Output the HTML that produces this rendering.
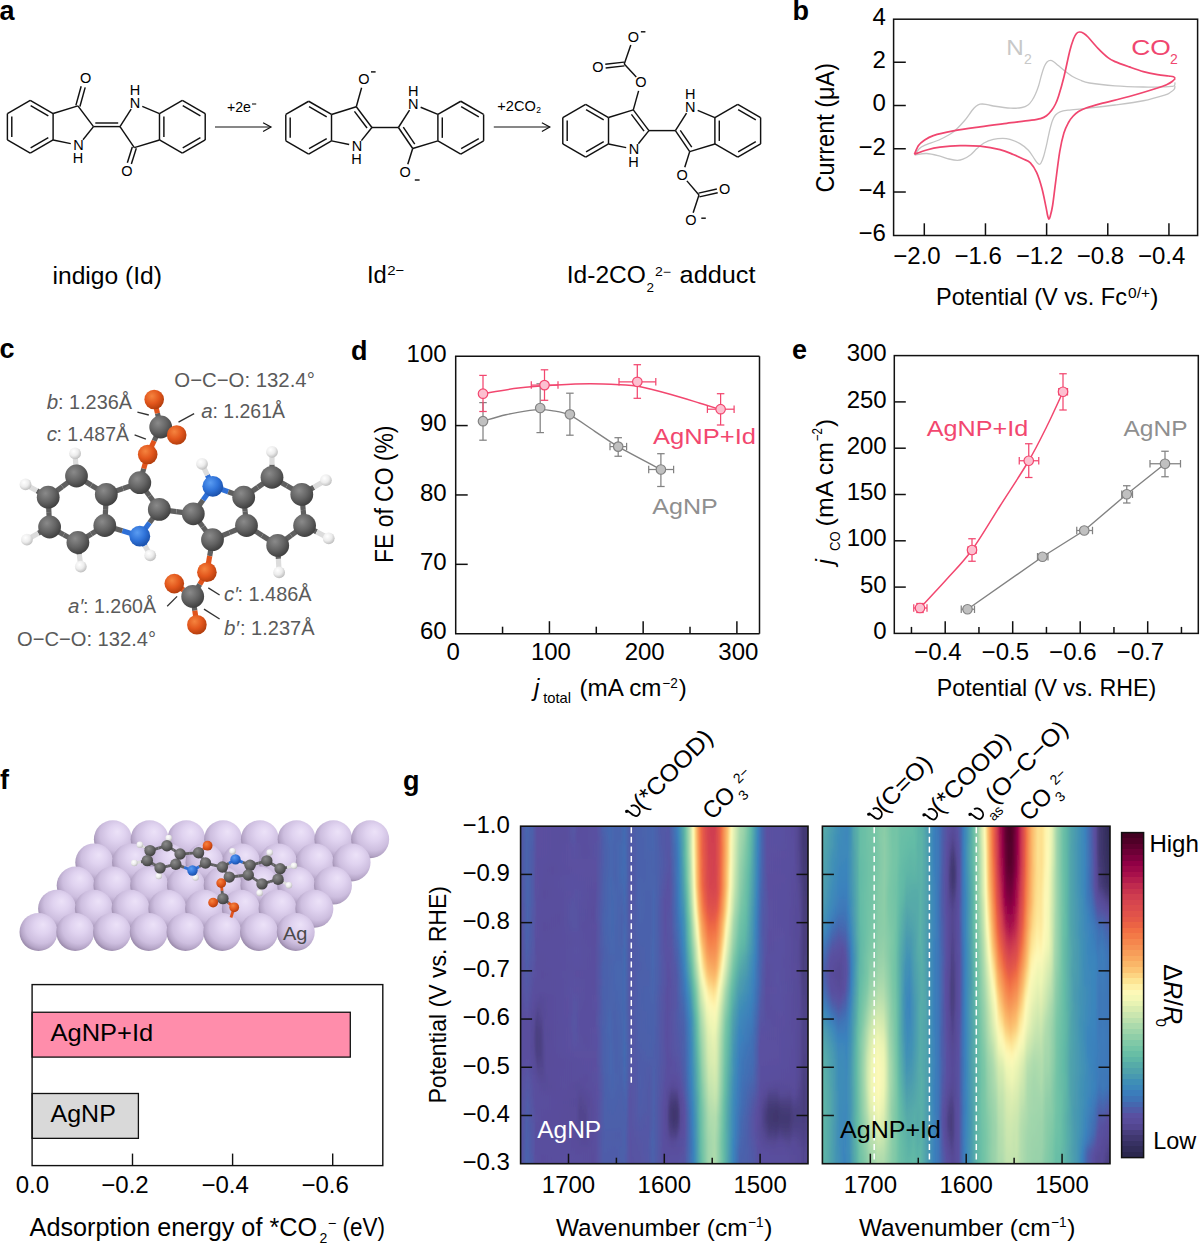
<!DOCTYPE html>
<html><head><meta charset="utf-8"><style>
html,body{margin:0;padding:0;background:#fff;overflow:hidden;}
svg{display:block;}
text{font-family:"Liberation Sans", sans-serif;}
</style></head><body>
<svg width="1200" height="1244" viewBox="0 0 1200 1244">
<defs>
<radialGradient id="gC" cx="0.38" cy="0.33" r="0.7"><stop offset="0" stop-color="#8a8a8a"/><stop offset="0.55" stop-color="#646464"/><stop offset="1" stop-color="#3e3e3e"/></radialGradient>
<radialGradient id="gN" cx="0.38" cy="0.33" r="0.7"><stop offset="0" stop-color="#5a9cf2"/><stop offset="0.55" stop-color="#2f72d8"/><stop offset="1" stop-color="#1a4fa8"/></radialGradient>
<radialGradient id="gO" cx="0.38" cy="0.33" r="0.7"><stop offset="0" stop-color="#f5843f"/><stop offset="0.55" stop-color="#e2561c"/><stop offset="1" stop-color="#b03c0c"/></radialGradient>
<radialGradient id="gH" cx="0.38" cy="0.33" r="0.7"><stop offset="0" stop-color="#ffffff"/><stop offset="0.55" stop-color="#ececec"/><stop offset="1" stop-color="#bcbcbc"/></radialGradient>

<radialGradient id="gAg" cx="0.58" cy="0.4" r="0.62" fx="0.62" fy="0.3"><stop offset="0" stop-color="#ece2f8"/><stop offset="0.35" stop-color="#e0d3f0"/><stop offset="0.7" stop-color="#cdbedf"/><stop offset="0.88" stop-color="#b6a6c8"/><stop offset="1" stop-color="#9a8aab"/></radialGradient>
<filter id="vblur" x="-0.05" y="-0.1" width="1.1" height="1.2"><feGaussianBlur stdDeviation="0 3.2"/></filter><linearGradient id="hl0"><stop offset="0.000" stop-color="#5455a4"/><stop offset="0.021" stop-color="#4665ae"/><stop offset="0.042" stop-color="#4b5eaa"/><stop offset="0.056" stop-color="#5a4e9f"/><stop offset="0.157" stop-color="#594d9d"/><stop offset="0.185" stop-color="#5455a4"/><stop offset="0.202" stop-color="#594d9d"/><stop offset="0.265" stop-color="#5950a1"/><stop offset="0.289" stop-color="#4961ac"/><stop offset="0.310" stop-color="#4469b0"/><stop offset="0.328" stop-color="#4764ae"/><stop offset="0.348" stop-color="#4863ad"/><stop offset="0.362" stop-color="#436bb2"/><stop offset="0.383" stop-color="#5159a6"/><stop offset="0.401" stop-color="#4b5faa"/><stop offset="0.460" stop-color="#4665ae"/><stop offset="0.488" stop-color="#5158a6"/><stop offset="0.516" stop-color="#5258a6"/><stop offset="0.540" stop-color="#3d76b8"/><stop offset="0.547" stop-color="#3b84bc"/><stop offset="0.564" stop-color="#52a6aa"/><stop offset="0.571" stop-color="#63bba5"/><stop offset="0.582" stop-color="#92cfa8"/><stop offset="0.589" stop-color="#b7dfad"/><stop offset="0.599" stop-color="#f6f8b6"/><stop offset="0.603" stop-color="#fef3aa"/><stop offset="0.610" stop-color="#fcc674"/><stop offset="0.617" stop-color="#f79d59"/><stop offset="0.624" stop-color="#f37a47"/><stop offset="0.627" stop-color="#f06c43"/><stop offset="0.634" stop-color="#e45847"/><stop offset="0.655" stop-color="#d13e4f"/><stop offset="0.676" stop-color="#d03e4f"/><stop offset="0.693" stop-color="#e65a46"/><stop offset="0.700" stop-color="#f27345"/><stop offset="0.718" stop-color="#fab768"/><stop offset="0.721" stop-color="#fcc573"/><stop offset="0.732" stop-color="#fef4ae"/><stop offset="0.735" stop-color="#f9f8b7"/><stop offset="0.763" stop-color="#abdaac"/><stop offset="0.777" stop-color="#9ad2aa"/><stop offset="0.801" stop-color="#64bca5"/><stop offset="0.819" stop-color="#4393b3"/><stop offset="0.826" stop-color="#3a83bd"/><stop offset="0.840" stop-color="#4764ad"/><stop offset="0.857" stop-color="#5a4fa0"/><stop offset="0.906" stop-color="#5950a1"/><stop offset="0.951" stop-color="#584c9b"/><stop offset="0.965" stop-color="#534791"/><stop offset="0.983" stop-color="#433975"/><stop offset="1.000" stop-color="#413872"/></linearGradient><linearGradient id="hl1"><stop offset="0.000" stop-color="#5455a4"/><stop offset="0.021" stop-color="#4765ae"/><stop offset="0.042" stop-color="#4c5eaa"/><stop offset="0.056" stop-color="#5a4e9f"/><stop offset="0.157" stop-color="#594d9d"/><stop offset="0.185" stop-color="#5555a4"/><stop offset="0.202" stop-color="#594d9d"/><stop offset="0.265" stop-color="#5950a1"/><stop offset="0.289" stop-color="#4961ac"/><stop offset="0.310" stop-color="#4468b0"/><stop offset="0.328" stop-color="#4764ae"/><stop offset="0.348" stop-color="#4863ad"/><stop offset="0.362" stop-color="#426bb2"/><stop offset="0.383" stop-color="#5159a6"/><stop offset="0.411" stop-color="#4a61ab"/><stop offset="0.460" stop-color="#4665ae"/><stop offset="0.488" stop-color="#5159a6"/><stop offset="0.516" stop-color="#5257a5"/><stop offset="0.544" stop-color="#3c7cba"/><stop offset="0.551" stop-color="#3d8ab9"/><stop offset="0.568" stop-color="#58aea7"/><stop offset="0.575" stop-color="#6fc2a6"/><stop offset="0.589" stop-color="#b6dead"/><stop offset="0.599" stop-color="#f5f7b6"/><stop offset="0.603" stop-color="#fef3ac"/><stop offset="0.606" stop-color="#fde18f"/><stop offset="0.610" stop-color="#fcc876"/><stop offset="0.617" stop-color="#f79e5a"/><stop offset="0.624" stop-color="#f47b47"/><stop offset="0.631" stop-color="#ea6145"/><stop offset="0.645" stop-color="#d9494d"/><stop offset="0.662" stop-color="#cf3d4f"/><stop offset="0.676" stop-color="#d03e4f"/><stop offset="0.693" stop-color="#e65a46"/><stop offset="0.700" stop-color="#f27445"/><stop offset="0.718" stop-color="#fab769"/><stop offset="0.721" stop-color="#fcc574"/><stop offset="0.732" stop-color="#fef5af"/><stop offset="0.735" stop-color="#f8f8b7"/><stop offset="0.763" stop-color="#a9d9ac"/><stop offset="0.777" stop-color="#98d2a9"/><stop offset="0.801" stop-color="#62bba5"/><stop offset="0.819" stop-color="#4293b4"/><stop offset="0.826" stop-color="#3a83bd"/><stop offset="0.840" stop-color="#4764ad"/><stop offset="0.857" stop-color="#5a4fa0"/><stop offset="0.906" stop-color="#5950a1"/><stop offset="0.951" stop-color="#584c9b"/><stop offset="0.965" stop-color="#534791"/><stop offset="0.983" stop-color="#433975"/><stop offset="1.000" stop-color="#423872"/></linearGradient><linearGradient id="hl2"><stop offset="0.000" stop-color="#5356a4"/><stop offset="0.021" stop-color="#4764ad"/><stop offset="0.042" stop-color="#4d5da9"/><stop offset="0.056" stop-color="#5a4e9f"/><stop offset="0.157" stop-color="#594d9c"/><stop offset="0.185" stop-color="#5554a3"/><stop offset="0.199" stop-color="#594d9e"/><stop offset="0.265" stop-color="#5950a1"/><stop offset="0.293" stop-color="#4a60ab"/><stop offset="0.310" stop-color="#4568b0"/><stop offset="0.328" stop-color="#4764ae"/><stop offset="0.348" stop-color="#4764ad"/><stop offset="0.362" stop-color="#426bb2"/><stop offset="0.383" stop-color="#5158a6"/><stop offset="0.411" stop-color="#4a60ab"/><stop offset="0.460" stop-color="#4665ae"/><stop offset="0.488" stop-color="#5059a7"/><stop offset="0.516" stop-color="#5356a5"/><stop offset="0.544" stop-color="#3d79b9"/><stop offset="0.551" stop-color="#3c88ba"/><stop offset="0.568" stop-color="#57aca8"/><stop offset="0.575" stop-color="#6ec1a6"/><stop offset="0.589" stop-color="#b3ddad"/><stop offset="0.599" stop-color="#f3f7b5"/><stop offset="0.603" stop-color="#fef5af"/><stop offset="0.606" stop-color="#fde393"/><stop offset="0.610" stop-color="#fccb79"/><stop offset="0.617" stop-color="#f8a15b"/><stop offset="0.624" stop-color="#f47e48"/><stop offset="0.631" stop-color="#eb6444"/><stop offset="0.638" stop-color="#e25449"/><stop offset="0.655" stop-color="#d2404f"/><stop offset="0.672" stop-color="#cf3c4f"/><stop offset="0.686" stop-color="#dc4d4c"/><stop offset="0.693" stop-color="#e65b46"/><stop offset="0.700" stop-color="#f27546"/><stop offset="0.714" stop-color="#f9ab60"/><stop offset="0.721" stop-color="#fcc775"/><stop offset="0.728" stop-color="#feea9d"/><stop offset="0.732" stop-color="#fdf6b2"/><stop offset="0.735" stop-color="#f6f8b6"/><stop offset="0.763" stop-color="#a5d8ac"/><stop offset="0.777" stop-color="#94d0a8"/><stop offset="0.791" stop-color="#73c4a6"/><stop offset="0.801" stop-color="#60b9a5"/><stop offset="0.819" stop-color="#4192b4"/><stop offset="0.826" stop-color="#3a82bd"/><stop offset="0.840" stop-color="#4764ad"/><stop offset="0.857" stop-color="#5a4fa0"/><stop offset="0.906" stop-color="#5950a1"/><stop offset="0.951" stop-color="#584c9c"/><stop offset="0.965" stop-color="#534790"/><stop offset="0.983" stop-color="#433975"/><stop offset="1.000" stop-color="#423873"/></linearGradient><linearGradient id="hl3"><stop offset="0.000" stop-color="#5356a5"/><stop offset="0.021" stop-color="#4863ad"/><stop offset="0.042" stop-color="#4d5ca9"/><stop offset="0.056" stop-color="#5a4e9f"/><stop offset="0.132" stop-color="#594d9d"/><stop offset="0.167" stop-color="#5a4fa0"/><stop offset="0.188" stop-color="#5851a2"/><stop offset="0.223" stop-color="#594d9d"/><stop offset="0.268" stop-color="#5752a2"/><stop offset="0.293" stop-color="#4a60ab"/><stop offset="0.314" stop-color="#4666af"/><stop offset="0.328" stop-color="#4764ad"/><stop offset="0.352" stop-color="#4568b0"/><stop offset="0.362" stop-color="#426cb2"/><stop offset="0.380" stop-color="#5059a7"/><stop offset="0.397" stop-color="#4f5ba8"/><stop offset="0.411" stop-color="#4a60ab"/><stop offset="0.460" stop-color="#4665ae"/><stop offset="0.495" stop-color="#5158a6"/><stop offset="0.519" stop-color="#5257a5"/><stop offset="0.544" stop-color="#3d76b8"/><stop offset="0.551" stop-color="#3b85bb"/><stop offset="0.568" stop-color="#55aaa8"/><stop offset="0.575" stop-color="#6cc0a5"/><stop offset="0.585" stop-color="#9ed4aa"/><stop offset="0.599" stop-color="#f2f7b5"/><stop offset="0.603" stop-color="#fef6b1"/><stop offset="0.606" stop-color="#fde596"/><stop offset="0.610" stop-color="#fcce7c"/><stop offset="0.617" stop-color="#f8a45c"/><stop offset="0.627" stop-color="#f17245"/><stop offset="0.634" stop-color="#e75c46"/><stop offset="0.655" stop-color="#d3414f"/><stop offset="0.676" stop-color="#d2404f"/><stop offset="0.690" stop-color="#e15449"/><stop offset="0.697" stop-color="#ee6844"/><stop offset="0.704" stop-color="#f4834b"/><stop offset="0.714" stop-color="#f9ac60"/><stop offset="0.721" stop-color="#fcc977"/><stop offset="0.728" stop-color="#feeca0"/><stop offset="0.732" stop-color="#fdf7b4"/><stop offset="0.739" stop-color="#e9f3b3"/><stop offset="0.760" stop-color="#a9d9ac"/><stop offset="0.780" stop-color="#87cba7"/><stop offset="0.794" stop-color="#6bbfa5"/><stop offset="0.805" stop-color="#58aea7"/><stop offset="0.822" stop-color="#3d89b9"/><stop offset="0.826" stop-color="#3a82bd"/><stop offset="0.840" stop-color="#4864ad"/><stop offset="0.857" stop-color="#5a4fa0"/><stop offset="0.906" stop-color="#5950a0"/><stop offset="0.951" stop-color="#594d9c"/><stop offset="0.969" stop-color="#50448c"/><stop offset="0.983" stop-color="#433a75"/><stop offset="1.000" stop-color="#423873"/></linearGradient><linearGradient id="hl4"><stop offset="0.000" stop-color="#5356a5"/><stop offset="0.021" stop-color="#4863ad"/><stop offset="0.045" stop-color="#5158a6"/><stop offset="0.056" stop-color="#5a4e9f"/><stop offset="0.129" stop-color="#594d9d"/><stop offset="0.171" stop-color="#5a4fa0"/><stop offset="0.188" stop-color="#5851a1"/><stop offset="0.226" stop-color="#594d9d"/><stop offset="0.268" stop-color="#5752a2"/><stop offset="0.293" stop-color="#4b5fab"/><stop offset="0.314" stop-color="#4666af"/><stop offset="0.328" stop-color="#4863ad"/><stop offset="0.352" stop-color="#4468b0"/><stop offset="0.362" stop-color="#426cb3"/><stop offset="0.380" stop-color="#5159a6"/><stop offset="0.397" stop-color="#4f5aa7"/><stop offset="0.411" stop-color="#4a60ab"/><stop offset="0.429" stop-color="#4962ac"/><stop offset="0.463" stop-color="#4863ad"/><stop offset="0.516" stop-color="#5554a3"/><stop offset="0.544" stop-color="#3e74b7"/><stop offset="0.551" stop-color="#3b83bc"/><stop offset="0.561" stop-color="#4899b0"/><stop offset="0.571" stop-color="#5db5a6"/><stop offset="0.578" stop-color="#77c6a6"/><stop offset="0.592" stop-color="#c4e4ae"/><stop offset="0.599" stop-color="#f0f6b4"/><stop offset="0.603" stop-color="#fdf7b4"/><stop offset="0.606" stop-color="#fde89a"/><stop offset="0.610" stop-color="#fcd17f"/><stop offset="0.617" stop-color="#f8a65d"/><stop offset="0.627" stop-color="#f27445"/><stop offset="0.634" stop-color="#e85d45"/><stop offset="0.655" stop-color="#d3424f"/><stop offset="0.676" stop-color="#d2404f"/><stop offset="0.690" stop-color="#e25449"/><stop offset="0.697" stop-color="#ee6944"/><stop offset="0.704" stop-color="#f5834c"/><stop offset="0.718" stop-color="#fbbd6d"/><stop offset="0.725" stop-color="#fdde8c"/><stop offset="0.732" stop-color="#fdf8b7"/><stop offset="0.760" stop-color="#a5d8ac"/><stop offset="0.780" stop-color="#82caa7"/><stop offset="0.798" stop-color="#62bba5"/><stop offset="0.815" stop-color="#4696b1"/><stop offset="0.826" stop-color="#3a81bd"/><stop offset="0.840" stop-color="#4863ad"/><stop offset="0.857" stop-color="#5a4fa0"/><stop offset="0.920" stop-color="#5a4e9f"/><stop offset="0.951" stop-color="#594d9c"/><stop offset="0.969" stop-color="#51458d"/><stop offset="0.983" stop-color="#443a75"/><stop offset="1.000" stop-color="#423973"/></linearGradient><linearGradient id="hl5"><stop offset="0.000" stop-color="#5356a5"/><stop offset="0.021" stop-color="#4864ad"/><stop offset="0.045" stop-color="#5158a6"/><stop offset="0.056" stop-color="#594e9f"/><stop offset="0.115" stop-color="#594d9d"/><stop offset="0.171" stop-color="#5a4fa0"/><stop offset="0.192" stop-color="#5a4fa0"/><stop offset="0.261" stop-color="#5a4fa0"/><stop offset="0.293" stop-color="#4b5fab"/><stop offset="0.314" stop-color="#4666af"/><stop offset="0.328" stop-color="#4863ad"/><stop offset="0.352" stop-color="#4468b0"/><stop offset="0.362" stop-color="#416cb3"/><stop offset="0.380" stop-color="#5159a6"/><stop offset="0.397" stop-color="#505aa7"/><stop offset="0.411" stop-color="#4a60ab"/><stop offset="0.429" stop-color="#4961ac"/><stop offset="0.463" stop-color="#4863ad"/><stop offset="0.519" stop-color="#5554a3"/><stop offset="0.544" stop-color="#3e73b6"/><stop offset="0.551" stop-color="#3a82bd"/><stop offset="0.561" stop-color="#4697b1"/><stop offset="0.571" stop-color="#5bb2a7"/><stop offset="0.578" stop-color="#75c4a6"/><stop offset="0.589" stop-color="#aadaac"/><stop offset="0.599" stop-color="#edf5b4"/><stop offset="0.603" stop-color="#fdf9b8"/><stop offset="0.606" stop-color="#feea9e"/><stop offset="0.610" stop-color="#fdd583"/><stop offset="0.617" stop-color="#f9a95f"/><stop offset="0.627" stop-color="#f27646"/><stop offset="0.638" stop-color="#e45847"/><stop offset="0.655" stop-color="#d4434e"/><stop offset="0.676" stop-color="#d3414f"/><stop offset="0.690" stop-color="#e25449"/><stop offset="0.697" stop-color="#ee6943"/><stop offset="0.707" stop-color="#f69254"/><stop offset="0.718" stop-color="#fbbf6f"/><stop offset="0.725" stop-color="#fde18f"/><stop offset="0.732" stop-color="#fcf9b8"/><stop offset="0.753" stop-color="#b8dfad"/><stop offset="0.763" stop-color="#9ad3aa"/><stop offset="0.780" stop-color="#7ec8a6"/><stop offset="0.798" stop-color="#60b8a6"/><stop offset="0.815" stop-color="#4595b2"/><stop offset="0.826" stop-color="#3a80bc"/><stop offset="0.840" stop-color="#4863ad"/><stop offset="0.857" stop-color="#5a4fa0"/><stop offset="0.923" stop-color="#594e9f"/><stop offset="0.951" stop-color="#594d9d"/><stop offset="0.969" stop-color="#52458e"/><stop offset="0.983" stop-color="#443a76"/><stop offset="1.000" stop-color="#423973"/></linearGradient><linearGradient id="hl6"><stop offset="0.000" stop-color="#5456a4"/><stop offset="0.021" stop-color="#4764ad"/><stop offset="0.045" stop-color="#5158a6"/><stop offset="0.052" stop-color="#5a4fa0"/><stop offset="0.108" stop-color="#584c9b"/><stop offset="0.192" stop-color="#5a4fa0"/><stop offset="0.261" stop-color="#5a4fa0"/><stop offset="0.293" stop-color="#4a60ab"/><stop offset="0.314" stop-color="#4666af"/><stop offset="0.328" stop-color="#4862ac"/><stop offset="0.355" stop-color="#436bb2"/><stop offset="0.366" stop-color="#4469b1"/><stop offset="0.380" stop-color="#5158a6"/><stop offset="0.397" stop-color="#505aa7"/><stop offset="0.411" stop-color="#4961ac"/><stop offset="0.429" stop-color="#4961ac"/><stop offset="0.453" stop-color="#4863ad"/><stop offset="0.467" stop-color="#4962ac"/><stop offset="0.519" stop-color="#5653a3"/><stop offset="0.547" stop-color="#3d78b9"/><stop offset="0.554" stop-color="#3c88ba"/><stop offset="0.568" stop-color="#51a5aa"/><stop offset="0.575" stop-color="#64bca5"/><stop offset="0.589" stop-color="#a6d8ac"/><stop offset="0.599" stop-color="#e9f4b3"/><stop offset="0.603" stop-color="#fbf9b7"/><stop offset="0.606" stop-color="#feeda2"/><stop offset="0.613" stop-color="#fbc170"/><stop offset="0.617" stop-color="#f9ac60"/><stop offset="0.627" stop-color="#f37846"/><stop offset="0.634" stop-color="#ea6045"/><stop offset="0.652" stop-color="#d7464e"/><stop offset="0.672" stop-color="#d2404f"/><stop offset="0.683" stop-color="#d8484d"/><stop offset="0.693" stop-color="#e85d46"/><stop offset="0.700" stop-color="#f37746"/><stop offset="0.714" stop-color="#fab265"/><stop offset="0.721" stop-color="#fcd280"/><stop offset="0.728" stop-color="#fef1a9"/><stop offset="0.732" stop-color="#fbf9b7"/><stop offset="0.746" stop-color="#c9e6af"/><stop offset="0.763" stop-color="#97d1a9"/><stop offset="0.794" stop-color="#62bba5"/><stop offset="0.812" stop-color="#499aaf"/><stop offset="0.822" stop-color="#3c87ba"/><stop offset="0.829" stop-color="#3d77b8"/><stop offset="0.840" stop-color="#4962ac"/><stop offset="0.857" stop-color="#5a4fa0"/><stop offset="0.923" stop-color="#594e9f"/><stop offset="0.955" stop-color="#584c9b"/><stop offset="0.969" stop-color="#52468f"/><stop offset="0.983" stop-color="#453b78"/><stop offset="1.000" stop-color="#433974"/></linearGradient><linearGradient id="hl7"><stop offset="0.000" stop-color="#5555a4"/><stop offset="0.024" stop-color="#4764ae"/><stop offset="0.045" stop-color="#5159a6"/><stop offset="0.052" stop-color="#5a4fa0"/><stop offset="0.087" stop-color="#594d9d"/><stop offset="0.178" stop-color="#5950a1"/><stop offset="0.261" stop-color="#5a4f9f"/><stop offset="0.293" stop-color="#4a61ab"/><stop offset="0.314" stop-color="#4567af"/><stop offset="0.328" stop-color="#4862ac"/><stop offset="0.355" stop-color="#436ab1"/><stop offset="0.366" stop-color="#4469b0"/><stop offset="0.380" stop-color="#5257a5"/><stop offset="0.397" stop-color="#5059a7"/><stop offset="0.411" stop-color="#4962ac"/><stop offset="0.429" stop-color="#4a61ab"/><stop offset="0.453" stop-color="#4863ad"/><stop offset="0.467" stop-color="#4863ad"/><stop offset="0.516" stop-color="#5851a1"/><stop offset="0.530" stop-color="#4b5faa"/><stop offset="0.551" stop-color="#3b7fbc"/><stop offset="0.561" stop-color="#4394b3"/><stop offset="0.571" stop-color="#57aca8"/><stop offset="0.578" stop-color="#6ec1a6"/><stop offset="0.592" stop-color="#b8dfad"/><stop offset="0.603" stop-color="#f8f8b7"/><stop offset="0.606" stop-color="#fef0a7"/><stop offset="0.613" stop-color="#fcc473"/><stop offset="0.617" stop-color="#f9af62"/><stop offset="0.627" stop-color="#f37a47"/><stop offset="0.634" stop-color="#ea6245"/><stop offset="0.648" stop-color="#da4b4c"/><stop offset="0.662" stop-color="#d3424f"/><stop offset="0.679" stop-color="#d5444e"/><stop offset="0.693" stop-color="#e85e45"/><stop offset="0.700" stop-color="#f37847"/><stop offset="0.714" stop-color="#fab467"/><stop offset="0.721" stop-color="#fdd583"/><stop offset="0.728" stop-color="#fef3ac"/><stop offset="0.732" stop-color="#f9f8b7"/><stop offset="0.746" stop-color="#c5e4ae"/><stop offset="0.763" stop-color="#93d0a8"/><stop offset="0.794" stop-color="#60b8a5"/><stop offset="0.812" stop-color="#4899b0"/><stop offset="0.822" stop-color="#3b86bb"/><stop offset="0.833" stop-color="#416eb4"/><stop offset="0.843" stop-color="#4d5da9"/><stop offset="0.861" stop-color="#5a4e9f"/><stop offset="0.920" stop-color="#5a4e9f"/><stop offset="0.955" stop-color="#584c9b"/><stop offset="0.972" stop-color="#50448c"/><stop offset="0.983" stop-color="#463c79"/><stop offset="1.000" stop-color="#433a75"/></linearGradient><linearGradient id="hl8"><stop offset="0.000" stop-color="#5654a3"/><stop offset="0.014" stop-color="#4c5eaa"/><stop offset="0.024" stop-color="#4764ae"/><stop offset="0.045" stop-color="#5159a6"/><stop offset="0.052" stop-color="#5a4fa0"/><stop offset="0.084" stop-color="#594d9c"/><stop offset="0.178" stop-color="#5950a1"/><stop offset="0.261" stop-color="#5a4e9f"/><stop offset="0.293" stop-color="#4961ac"/><stop offset="0.314" stop-color="#4568b0"/><stop offset="0.331" stop-color="#4764ae"/><stop offset="0.352" stop-color="#4666af"/><stop offset="0.362" stop-color="#436bb2"/><stop offset="0.380" stop-color="#5357a5"/><stop offset="0.397" stop-color="#5059a7"/><stop offset="0.411" stop-color="#4863ad"/><stop offset="0.432" stop-color="#4962ac"/><stop offset="0.453" stop-color="#4863ad"/><stop offset="0.467" stop-color="#4864ad"/><stop offset="0.512" stop-color="#5950a1"/><stop offset="0.523" stop-color="#5555a4"/><stop offset="0.544" stop-color="#3f72b6"/><stop offset="0.554" stop-color="#3b85bb"/><stop offset="0.568" stop-color="#4ea0ac"/><stop offset="0.575" stop-color="#5eb6a6"/><stop offset="0.582" stop-color="#79c6a6"/><stop offset="0.592" stop-color="#b3ddad"/><stop offset="0.603" stop-color="#f5f7b6"/><stop offset="0.606" stop-color="#fef4ac"/><stop offset="0.613" stop-color="#fcc876"/><stop offset="0.620" stop-color="#f79f5a"/><stop offset="0.627" stop-color="#f47d48"/><stop offset="0.634" stop-color="#ec6444"/><stop offset="0.641" stop-color="#e35648"/><stop offset="0.659" stop-color="#d5434e"/><stop offset="0.679" stop-color="#d6454e"/><stop offset="0.690" stop-color="#e35648"/><stop offset="0.697" stop-color="#f06d43"/><stop offset="0.711" stop-color="#f8a75e"/><stop offset="0.718" stop-color="#fcc775"/><stop offset="0.728" stop-color="#fef5af"/><stop offset="0.732" stop-color="#f7f8b6"/><stop offset="0.746" stop-color="#c1e3ae"/><stop offset="0.763" stop-color="#8fcea8"/><stop offset="0.791" stop-color="#62bba5"/><stop offset="0.812" stop-color="#4797b1"/><stop offset="0.822" stop-color="#3b84bc"/><stop offset="0.833" stop-color="#426cb3"/><stop offset="0.843" stop-color="#4e5ca8"/><stop offset="0.861" stop-color="#5a4e9f"/><stop offset="0.923" stop-color="#594e9e"/><stop offset="0.958" stop-color="#584b9a"/><stop offset="0.972" stop-color="#52468e"/><stop offset="0.986" stop-color="#453b78"/><stop offset="1.000" stop-color="#443a76"/></linearGradient><linearGradient id="hl9"><stop offset="0.000" stop-color="#5753a2"/><stop offset="0.014" stop-color="#4d5da9"/><stop offset="0.024" stop-color="#4764ad"/><stop offset="0.045" stop-color="#5159a6"/><stop offset="0.052" stop-color="#5950a0"/><stop offset="0.080" stop-color="#584c9b"/><stop offset="0.174" stop-color="#5a4fa0"/><stop offset="0.192" stop-color="#5752a2"/><stop offset="0.258" stop-color="#594d9d"/><stop offset="0.272" stop-color="#5456a4"/><stop offset="0.293" stop-color="#4962ac"/><stop offset="0.317" stop-color="#4567af"/><stop offset="0.331" stop-color="#4765ae"/><stop offset="0.352" stop-color="#4764ae"/><stop offset="0.362" stop-color="#436ab1"/><stop offset="0.380" stop-color="#5356a5"/><stop offset="0.397" stop-color="#5059a7"/><stop offset="0.411" stop-color="#4863ad"/><stop offset="0.449" stop-color="#4a60ab"/><stop offset="0.463" stop-color="#4666af"/><stop offset="0.505" stop-color="#5851a1"/><stop offset="0.519" stop-color="#5851a1"/><stop offset="0.544" stop-color="#3f71b6"/><stop offset="0.554" stop-color="#3b84bc"/><stop offset="0.564" stop-color="#4595b2"/><stop offset="0.575" stop-color="#5ab0a7"/><stop offset="0.582" stop-color="#74c4a6"/><stop offset="0.592" stop-color="#abdaac"/><stop offset="0.603" stop-color="#eff6b4"/><stop offset="0.606" stop-color="#fdf7b4"/><stop offset="0.610" stop-color="#fde89a"/><stop offset="0.613" stop-color="#fcd280"/><stop offset="0.620" stop-color="#f8a75e"/><stop offset="0.631" stop-color="#f37746"/><stop offset="0.638" stop-color="#ea6245"/><stop offset="0.652" stop-color="#db4c4c"/><stop offset="0.672" stop-color="#d7464e"/><stop offset="0.683" stop-color="#dc4d4c"/><stop offset="0.690" stop-color="#e65946"/><stop offset="0.697" stop-color="#f27345"/><stop offset="0.711" stop-color="#f9ad61"/><stop offset="0.721" stop-color="#fde190"/><stop offset="0.728" stop-color="#fdf8b6"/><stop offset="0.735" stop-color="#e3f1b2"/><stop offset="0.746" stop-color="#bae0ad"/><stop offset="0.767" stop-color="#82c9a7"/><stop offset="0.791" stop-color="#60b9a5"/><stop offset="0.808" stop-color="#4b9cad"/><stop offset="0.819" stop-color="#3d89b9"/><stop offset="0.822" stop-color="#3a83bd"/><stop offset="0.836" stop-color="#4863ad"/><stop offset="0.864" stop-color="#5a4e9f"/><stop offset="0.923" stop-color="#594e9e"/><stop offset="0.962" stop-color="#574a99"/><stop offset="0.976" stop-color="#50448a"/><stop offset="0.986" stop-color="#463c79"/><stop offset="1.000" stop-color="#453b77"/></linearGradient><linearGradient id="hl10"><stop offset="0.000" stop-color="#5852a2"/><stop offset="0.014" stop-color="#4d5da9"/><stop offset="0.024" stop-color="#4764ad"/><stop offset="0.045" stop-color="#5159a6"/><stop offset="0.056" stop-color="#594e9e"/><stop offset="0.139" stop-color="#594d9d"/><stop offset="0.181" stop-color="#5752a2"/><stop offset="0.258" stop-color="#594d9d"/><stop offset="0.272" stop-color="#5356a5"/><stop offset="0.293" stop-color="#4962ac"/><stop offset="0.317" stop-color="#4567b0"/><stop offset="0.352" stop-color="#4863ad"/><stop offset="0.362" stop-color="#4469b0"/><stop offset="0.380" stop-color="#5356a5"/><stop offset="0.397" stop-color="#5059a7"/><stop offset="0.411" stop-color="#4764ad"/><stop offset="0.449" stop-color="#4a60ab"/><stop offset="0.463" stop-color="#4666af"/><stop offset="0.502" stop-color="#5950a1"/><stop offset="0.519" stop-color="#5851a2"/><stop offset="0.544" stop-color="#3f70b5"/><stop offset="0.554" stop-color="#3a82bd"/><stop offset="0.568" stop-color="#4899b0"/><stop offset="0.575" stop-color="#56aba8"/><stop offset="0.582" stop-color="#6ec1a6"/><stop offset="0.592" stop-color="#a4d7ac"/><stop offset="0.603" stop-color="#e8f3b3"/><stop offset="0.606" stop-color="#f9f8b7"/><stop offset="0.610" stop-color="#fef0a6"/><stop offset="0.617" stop-color="#fcc573"/><stop offset="0.620" stop-color="#f9b063"/><stop offset="0.631" stop-color="#f47f49"/><stop offset="0.641" stop-color="#ea6145"/><stop offset="0.655" stop-color="#dc4d4c"/><stop offset="0.679" stop-color="#dd4e4c"/><stop offset="0.686" stop-color="#e45747"/><stop offset="0.693" stop-color="#f06e44"/><stop offset="0.707" stop-color="#f8a55d"/><stop offset="0.714" stop-color="#fcc674"/><stop offset="0.721" stop-color="#fde89a"/><stop offset="0.725" stop-color="#fef4ad"/><stop offset="0.728" stop-color="#f9f8b7"/><stop offset="0.735" stop-color="#ddedb0"/><stop offset="0.746" stop-color="#b2ddad"/><stop offset="0.767" stop-color="#7cc7a6"/><stop offset="0.784" stop-color="#69bfa5"/><stop offset="0.808" stop-color="#4a9aaf"/><stop offset="0.819" stop-color="#3c87ba"/><stop offset="0.826" stop-color="#3c79b9"/><stop offset="0.840" stop-color="#4d5da9"/><stop offset="0.864" stop-color="#5a4f9f"/><stop offset="0.927" stop-color="#594e9e"/><stop offset="0.965" stop-color="#574a98"/><stop offset="0.976" stop-color="#51458c"/><stop offset="0.986" stop-color="#473c7a"/><stop offset="1.000" stop-color="#453b79"/></linearGradient><linearGradient id="hl11"><stop offset="0.000" stop-color="#5951a1"/><stop offset="0.024" stop-color="#4863ad"/><stop offset="0.049" stop-color="#5555a4"/><stop offset="0.056" stop-color="#594e9e"/><stop offset="0.139" stop-color="#594d9d"/><stop offset="0.181" stop-color="#5753a2"/><stop offset="0.254" stop-color="#584c9c"/><stop offset="0.268" stop-color="#5554a3"/><stop offset="0.293" stop-color="#4862ac"/><stop offset="0.317" stop-color="#4568b0"/><stop offset="0.352" stop-color="#4962ac"/><stop offset="0.362" stop-color="#4468b0"/><stop offset="0.380" stop-color="#5356a5"/><stop offset="0.401" stop-color="#4d5ca9"/><stop offset="0.415" stop-color="#4863ad"/><stop offset="0.449" stop-color="#4a60ab"/><stop offset="0.463" stop-color="#4666af"/><stop offset="0.502" stop-color="#5950a1"/><stop offset="0.519" stop-color="#5752a2"/><stop offset="0.544" stop-color="#406eb4"/><stop offset="0.557" stop-color="#3b85bc"/><stop offset="0.568" stop-color="#4495b2"/><stop offset="0.578" stop-color="#5cb3a6"/><stop offset="0.585" stop-color="#76c5a6"/><stop offset="0.596" stop-color="#b0dcad"/><stop offset="0.606" stop-color="#f1f7b5"/><stop offset="0.610" stop-color="#fdf7b3"/><stop offset="0.613" stop-color="#fde89b"/><stop offset="0.620" stop-color="#fbbd6d"/><stop offset="0.624" stop-color="#f9a95f"/><stop offset="0.634" stop-color="#f47e48"/><stop offset="0.645" stop-color="#eb6345"/><stop offset="0.652" stop-color="#e35648"/><stop offset="0.669" stop-color="#df514a"/><stop offset="0.683" stop-color="#e55847"/><stop offset="0.690" stop-color="#f06c43"/><stop offset="0.704" stop-color="#f7a05a"/><stop offset="0.711" stop-color="#fbc070"/><stop offset="0.718" stop-color="#fde494"/><stop offset="0.725" stop-color="#fdf9b8"/><stop offset="0.732" stop-color="#e4f1b2"/><stop offset="0.746" stop-color="#a9d9ac"/><stop offset="0.767" stop-color="#76c5a6"/><stop offset="0.784" stop-color="#66bda5"/><stop offset="0.808" stop-color="#4898b0"/><stop offset="0.819" stop-color="#3b85bb"/><stop offset="0.829" stop-color="#3f70b5"/><stop offset="0.840" stop-color="#4e5ca8"/><stop offset="0.868" stop-color="#5a4fa0"/><stop offset="0.930" stop-color="#594d9d"/><stop offset="0.965" stop-color="#574a98"/><stop offset="0.976" stop-color="#51458d"/><stop offset="0.986" stop-color="#473d7b"/><stop offset="1.000" stop-color="#463c7a"/></linearGradient><linearGradient id="hl12"><stop offset="0.000" stop-color="#5950a1"/><stop offset="0.024" stop-color="#4863ad"/><stop offset="0.049" stop-color="#5554a3"/><stop offset="0.056" stop-color="#594e9e"/><stop offset="0.136" stop-color="#584c9c"/><stop offset="0.181" stop-color="#5753a2"/><stop offset="0.254" stop-color="#584c9c"/><stop offset="0.268" stop-color="#5554a3"/><stop offset="0.293" stop-color="#4863ad"/><stop offset="0.317" stop-color="#4568b0"/><stop offset="0.352" stop-color="#4961ac"/><stop offset="0.366" stop-color="#4666af"/><stop offset="0.380" stop-color="#5357a5"/><stop offset="0.401" stop-color="#4d5ca9"/><stop offset="0.415" stop-color="#4863ad"/><stop offset="0.449" stop-color="#4a60ab"/><stop offset="0.463" stop-color="#4666af"/><stop offset="0.502" stop-color="#5950a0"/><stop offset="0.523" stop-color="#5455a4"/><stop offset="0.547" stop-color="#3f71b5"/><stop offset="0.557" stop-color="#3a82bd"/><stop offset="0.568" stop-color="#4090b5"/><stop offset="0.578" stop-color="#57ada8"/><stop offset="0.582" stop-color="#62bba5"/><stop offset="0.589" stop-color="#7fc8a7"/><stop offset="0.599" stop-color="#bae0ad"/><stop offset="0.606" stop-color="#e5f2b2"/><stop offset="0.610" stop-color="#f6f8b6"/><stop offset="0.613" stop-color="#fef4ad"/><stop offset="0.617" stop-color="#fde493"/><stop offset="0.620" stop-color="#fccd7b"/><stop offset="0.627" stop-color="#f8a65d"/><stop offset="0.638" stop-color="#f4814a"/><stop offset="0.648" stop-color="#ee6844"/><stop offset="0.659" stop-color="#e55946"/><stop offset="0.676" stop-color="#e75b46"/><stop offset="0.686" stop-color="#f16f44"/><stop offset="0.704" stop-color="#f9ad61"/><stop offset="0.711" stop-color="#fccf7d"/><stop offset="0.718" stop-color="#fef0a6"/><stop offset="0.721" stop-color="#fdf8b6"/><stop offset="0.728" stop-color="#e9f3b3"/><stop offset="0.742" stop-color="#abdaac"/><stop offset="0.763" stop-color="#75c5a6"/><stop offset="0.784" stop-color="#63bba5"/><stop offset="0.808" stop-color="#4696b1"/><stop offset="0.819" stop-color="#3a83bc"/><stop offset="0.833" stop-color="#4666af"/><stop offset="0.843" stop-color="#5159a6"/><stop offset="0.868" stop-color="#5a4fa0"/><stop offset="0.930" stop-color="#594d9d"/><stop offset="0.969" stop-color="#564997"/><stop offset="0.986" stop-color="#483d7c"/><stop offset="1.000" stop-color="#473d7c"/></linearGradient><linearGradient id="hl13"><stop offset="0.000" stop-color="#5a4fa0"/><stop offset="0.021" stop-color="#4962ac"/><stop offset="0.045" stop-color="#5258a6"/><stop offset="0.052" stop-color="#5a4fa0"/><stop offset="0.080" stop-color="#584c9b"/><stop offset="0.139" stop-color="#594d9d"/><stop offset="0.192" stop-color="#5653a2"/><stop offset="0.220" stop-color="#594d9d"/><stop offset="0.261" stop-color="#5a4e9f"/><stop offset="0.293" stop-color="#4863ad"/><stop offset="0.317" stop-color="#4567af"/><stop offset="0.352" stop-color="#4961ac"/><stop offset="0.362" stop-color="#4468b0"/><stop offset="0.383" stop-color="#5356a5"/><stop offset="0.404" stop-color="#4b5faa"/><stop offset="0.418" stop-color="#4961ac"/><stop offset="0.449" stop-color="#4a60ab"/><stop offset="0.463" stop-color="#4666af"/><stop offset="0.502" stop-color="#5950a1"/><stop offset="0.523" stop-color="#5555a4"/><stop offset="0.551" stop-color="#3e73b6"/><stop offset="0.561" stop-color="#3b84bc"/><stop offset="0.571" stop-color="#4494b3"/><stop offset="0.582" stop-color="#5db5a6"/><stop offset="0.589" stop-color="#76c5a6"/><stop offset="0.599" stop-color="#addbad"/><stop offset="0.610" stop-color="#ecf5b4"/><stop offset="0.613" stop-color="#faf8b7"/><stop offset="0.617" stop-color="#fef0a7"/><stop offset="0.624" stop-color="#fcc675"/><stop offset="0.631" stop-color="#f8a45c"/><stop offset="0.645" stop-color="#f47c48"/><stop offset="0.655" stop-color="#ee6844"/><stop offset="0.676" stop-color="#ee6944"/><stop offset="0.686" stop-color="#f47c48"/><stop offset="0.700" stop-color="#f9ac60"/><stop offset="0.707" stop-color="#fccb79"/><stop offset="0.714" stop-color="#feeda2"/><stop offset="0.718" stop-color="#fdf7b4"/><stop offset="0.725" stop-color="#ecf5b4"/><stop offset="0.742" stop-color="#a2d6ab"/><stop offset="0.763" stop-color="#70c2a6"/><stop offset="0.784" stop-color="#60b8a6"/><stop offset="0.808" stop-color="#4494b3"/><stop offset="0.819" stop-color="#3a82bd"/><stop offset="0.833" stop-color="#4665ae"/><stop offset="0.843" stop-color="#5158a6"/><stop offset="0.868" stop-color="#5a4fa0"/><stop offset="0.923" stop-color="#594e9f"/><stop offset="0.969" stop-color="#564997"/><stop offset="0.986" stop-color="#483d7c"/><stop offset="1.000" stop-color="#483e7d"/></linearGradient><linearGradient id="hl14"><stop offset="0.000" stop-color="#5a4fa0"/><stop offset="0.021" stop-color="#4961ac"/><stop offset="0.045" stop-color="#5257a5"/><stop offset="0.052" stop-color="#5a4fa0"/><stop offset="0.084" stop-color="#594d9c"/><stop offset="0.139" stop-color="#594e9e"/><stop offset="0.195" stop-color="#5950a1"/><stop offset="0.258" stop-color="#594d9d"/><stop offset="0.272" stop-color="#5456a4"/><stop offset="0.293" stop-color="#4862ac"/><stop offset="0.317" stop-color="#4567af"/><stop offset="0.352" stop-color="#4961ac"/><stop offset="0.362" stop-color="#4469b0"/><stop offset="0.383" stop-color="#5357a5"/><stop offset="0.415" stop-color="#4961ac"/><stop offset="0.449" stop-color="#4a60ab"/><stop offset="0.463" stop-color="#4666af"/><stop offset="0.502" stop-color="#5950a1"/><stop offset="0.523" stop-color="#5554a3"/><stop offset="0.547" stop-color="#436bb2"/><stop offset="0.561" stop-color="#3a81bd"/><stop offset="0.571" stop-color="#4191b5"/><stop offset="0.585" stop-color="#64bca5"/><stop offset="0.592" stop-color="#7ec8a6"/><stop offset="0.613" stop-color="#f1f7b5"/><stop offset="0.617" stop-color="#fdf8b6"/><stop offset="0.620" stop-color="#feeb9f"/><stop offset="0.627" stop-color="#fbc271"/><stop offset="0.634" stop-color="#f8a55d"/><stop offset="0.652" stop-color="#f37947"/><stop offset="0.662" stop-color="#f27345"/><stop offset="0.679" stop-color="#f37947"/><stop offset="0.690" stop-color="#f69354"/><stop offset="0.697" stop-color="#f9ac60"/><stop offset="0.704" stop-color="#fcc876"/><stop offset="0.711" stop-color="#feea9e"/><stop offset="0.714" stop-color="#fef6b1"/><stop offset="0.718" stop-color="#f7f8b7"/><stop offset="0.728" stop-color="#d4eaaf"/><stop offset="0.739" stop-color="#a5d8ac"/><stop offset="0.760" stop-color="#70c2a6"/><stop offset="0.770" stop-color="#66bda5"/><stop offset="0.780" stop-color="#60b9a5"/><stop offset="0.805" stop-color="#4898b0"/><stop offset="0.815" stop-color="#3c86bb"/><stop offset="0.826" stop-color="#3e74b7"/><stop offset="0.840" stop-color="#4f5aa7"/><stop offset="0.864" stop-color="#5a4e9f"/><stop offset="0.913" stop-color="#5a4fa0"/><stop offset="0.969" stop-color="#564996"/><stop offset="0.986" stop-color="#483d7d"/><stop offset="1.000" stop-color="#493e7f"/></linearGradient><linearGradient id="hl15"><stop offset="0.000" stop-color="#5a4fa0"/><stop offset="0.021" stop-color="#4a60ab"/><stop offset="0.045" stop-color="#5357a5"/><stop offset="0.056" stop-color="#594d9d"/><stop offset="0.136" stop-color="#594d9d"/><stop offset="0.195" stop-color="#5950a0"/><stop offset="0.258" stop-color="#594d9d"/><stop offset="0.275" stop-color="#5258a6"/><stop offset="0.293" stop-color="#4962ac"/><stop offset="0.317" stop-color="#4666af"/><stop offset="0.352" stop-color="#4962ac"/><stop offset="0.362" stop-color="#4469b1"/><stop offset="0.380" stop-color="#5257a5"/><stop offset="0.401" stop-color="#4e5ba8"/><stop offset="0.415" stop-color="#4a60ab"/><stop offset="0.449" stop-color="#4a61ab"/><stop offset="0.463" stop-color="#4666af"/><stop offset="0.502" stop-color="#5851a1"/><stop offset="0.523" stop-color="#5653a2"/><stop offset="0.547" stop-color="#4568b0"/><stop offset="0.564" stop-color="#3a83bd"/><stop offset="0.571" stop-color="#3f8eb6"/><stop offset="0.585" stop-color="#5fb7a6"/><stop offset="0.592" stop-color="#76c5a6"/><stop offset="0.617" stop-color="#f5f7b6"/><stop offset="0.620" stop-color="#fef5b0"/><stop offset="0.627" stop-color="#fcd280"/><stop offset="0.634" stop-color="#fab366"/><stop offset="0.652" stop-color="#f5864d"/><stop offset="0.662" stop-color="#f47f49"/><stop offset="0.679" stop-color="#f5854c"/><stop offset="0.690" stop-color="#f7a05a"/><stop offset="0.697" stop-color="#fab96a"/><stop offset="0.700" stop-color="#fcc775"/><stop offset="0.711" stop-color="#fef4ae"/><stop offset="0.714" stop-color="#f9f8b7"/><stop offset="0.728" stop-color="#c9e6af"/><stop offset="0.739" stop-color="#9dd4aa"/><stop offset="0.756" stop-color="#71c2a6"/><stop offset="0.767" stop-color="#63bba5"/><stop offset="0.780" stop-color="#5db5a6"/><stop offset="0.805" stop-color="#4696b1"/><stop offset="0.819" stop-color="#3b80bc"/><stop offset="0.833" stop-color="#4765ae"/><stop offset="0.847" stop-color="#5356a5"/><stop offset="0.864" stop-color="#5a4e9f"/><stop offset="0.909" stop-color="#5950a1"/><stop offset="0.965" stop-color="#574a98"/><stop offset="0.976" stop-color="#50448b"/><stop offset="0.986" stop-color="#483d7d"/><stop offset="1.000" stop-color="#4a3f80"/></linearGradient><linearGradient id="hl16"><stop offset="0.000" stop-color="#5a4fa0"/><stop offset="0.021" stop-color="#4b5faa"/><stop offset="0.045" stop-color="#5456a4"/><stop offset="0.056" stop-color="#594d9d"/><stop offset="0.136" stop-color="#594d9e"/><stop offset="0.192" stop-color="#5851a1"/><stop offset="0.258" stop-color="#594e9e"/><stop offset="0.279" stop-color="#4f5aa7"/><stop offset="0.314" stop-color="#4666af"/><stop offset="0.341" stop-color="#4764ad"/><stop offset="0.352" stop-color="#4863ad"/><stop offset="0.362" stop-color="#436ab1"/><stop offset="0.380" stop-color="#5257a5"/><stop offset="0.401" stop-color="#4f5ba8"/><stop offset="0.418" stop-color="#4c5eaa"/><stop offset="0.449" stop-color="#4961ac"/><stop offset="0.460" stop-color="#4567af"/><stop offset="0.502" stop-color="#5851a2"/><stop offset="0.523" stop-color="#5852a2"/><stop offset="0.547" stop-color="#4764ae"/><stop offset="0.561" stop-color="#3c7bba"/><stop offset="0.571" stop-color="#3d8bb8"/><stop offset="0.585" stop-color="#5ab1a7"/><stop offset="0.592" stop-color="#6ec1a6"/><stop offset="0.603" stop-color="#9fd5ab"/><stop offset="0.620" stop-color="#f8f8b7"/><stop offset="0.624" stop-color="#fef3ab"/><stop offset="0.631" stop-color="#fcd280"/><stop offset="0.638" stop-color="#fab769"/><stop offset="0.648" stop-color="#f79a58"/><stop offset="0.659" stop-color="#f58c51"/><stop offset="0.676" stop-color="#f58d51"/><stop offset="0.683" stop-color="#f69757"/><stop offset="0.690" stop-color="#f9ad61"/><stop offset="0.697" stop-color="#fcc775"/><stop offset="0.707" stop-color="#fef3ac"/><stop offset="0.711" stop-color="#fbf9b7"/><stop offset="0.728" stop-color="#bde1ae"/><stop offset="0.739" stop-color="#93d0a8"/><stop offset="0.753" stop-color="#70c2a6"/><stop offset="0.763" stop-color="#60b8a6"/><stop offset="0.780" stop-color="#59afa7"/><stop offset="0.805" stop-color="#4394b3"/><stop offset="0.819" stop-color="#3b7ebb"/><stop offset="0.833" stop-color="#4764ae"/><stop offset="0.847" stop-color="#5356a5"/><stop offset="0.864" stop-color="#594e9e"/><stop offset="0.909" stop-color="#5950a1"/><stop offset="0.965" stop-color="#574a98"/><stop offset="0.976" stop-color="#4f448a"/><stop offset="0.986" stop-color="#483d7c"/><stop offset="1.000" stop-color="#4a3f81"/></linearGradient><linearGradient id="hl17"><stop offset="0.000" stop-color="#5a4fa0"/><stop offset="0.021" stop-color="#4d5da9"/><stop offset="0.045" stop-color="#5555a4"/><stop offset="0.059" stop-color="#594d9c"/><stop offset="0.136" stop-color="#594e9e"/><stop offset="0.192" stop-color="#5950a1"/><stop offset="0.258" stop-color="#594e9e"/><stop offset="0.293" stop-color="#4a60ab"/><stop offset="0.321" stop-color="#4863ad"/><stop offset="0.341" stop-color="#4764ae"/><stop offset="0.352" stop-color="#4764ae"/><stop offset="0.362" stop-color="#436ab1"/><stop offset="0.380" stop-color="#5257a5"/><stop offset="0.401" stop-color="#4e5ba8"/><stop offset="0.418" stop-color="#4c5eaa"/><stop offset="0.449" stop-color="#4961ac"/><stop offset="0.460" stop-color="#4567af"/><stop offset="0.505" stop-color="#5851a2"/><stop offset="0.523" stop-color="#5951a1"/><stop offset="0.547" stop-color="#4962ac"/><stop offset="0.561" stop-color="#3d77b8"/><stop offset="0.571" stop-color="#3c87ba"/><stop offset="0.578" stop-color="#4898b0"/><stop offset="0.592" stop-color="#66bda5"/><stop offset="0.599" stop-color="#82c9a7"/><stop offset="0.620" stop-color="#eef6b4"/><stop offset="0.624" stop-color="#fcf9b8"/><stop offset="0.631" stop-color="#fde393"/><stop offset="0.638" stop-color="#fcc775"/><stop offset="0.648" stop-color="#f9a85e"/><stop offset="0.659" stop-color="#f79a58"/><stop offset="0.676" stop-color="#f79957"/><stop offset="0.683" stop-color="#f8a55d"/><stop offset="0.690" stop-color="#fbbb6c"/><stop offset="0.697" stop-color="#fdd886"/><stop offset="0.704" stop-color="#fef2aa"/><stop offset="0.707" stop-color="#fcf9b8"/><stop offset="0.728" stop-color="#afdcad"/><stop offset="0.742" stop-color="#7dc8a6"/><stop offset="0.760" stop-color="#5db5a6"/><stop offset="0.787" stop-color="#4ea1ac"/><stop offset="0.812" stop-color="#3c86bb"/><stop offset="0.819" stop-color="#3b7dbb"/><stop offset="0.833" stop-color="#4764ad"/><stop offset="0.854" stop-color="#5950a1"/><stop offset="0.895" stop-color="#5950a1"/><stop offset="0.962" stop-color="#574b99"/><stop offset="0.972" stop-color="#534690"/><stop offset="0.983" stop-color="#493e7e"/><stop offset="1.000" stop-color="#4b4081"/></linearGradient><linearGradient id="hl18"><stop offset="0.000" stop-color="#5a4fa0"/><stop offset="0.021" stop-color="#4e5ba8"/><stop offset="0.045" stop-color="#5653a3"/><stop offset="0.056" stop-color="#594d9d"/><stop offset="0.132" stop-color="#594d9d"/><stop offset="0.192" stop-color="#5950a0"/><stop offset="0.258" stop-color="#594e9e"/><stop offset="0.289" stop-color="#4a60ab"/><stop offset="0.338" stop-color="#4666af"/><stop offset="0.352" stop-color="#4665ae"/><stop offset="0.362" stop-color="#436ab1"/><stop offset="0.380" stop-color="#5257a5"/><stop offset="0.401" stop-color="#4e5ba8"/><stop offset="0.418" stop-color="#4d5da9"/><stop offset="0.449" stop-color="#4961ac"/><stop offset="0.460" stop-color="#4666af"/><stop offset="0.512" stop-color="#5a4fa0"/><stop offset="0.540" stop-color="#5258a6"/><stop offset="0.561" stop-color="#3e73b6"/><stop offset="0.571" stop-color="#3b84bc"/><stop offset="0.589" stop-color="#57aca8"/><stop offset="0.599" stop-color="#76c5a6"/><stop offset="0.617" stop-color="#cee7af"/><stop offset="0.624" stop-color="#f1f7b5"/><stop offset="0.627" stop-color="#fdf9b7"/><stop offset="0.641" stop-color="#fccd7b"/><stop offset="0.652" stop-color="#f9b063"/><stop offset="0.666" stop-color="#f8a75e"/><stop offset="0.676" stop-color="#f8a65d"/><stop offset="0.683" stop-color="#fab265"/><stop offset="0.690" stop-color="#fcca78"/><stop offset="0.700" stop-color="#fef2aa"/><stop offset="0.704" stop-color="#fcf9b8"/><stop offset="0.739" stop-color="#7bc7a6"/><stop offset="0.756" stop-color="#5cb3a6"/><stop offset="0.767" stop-color="#54a8a9"/><stop offset="0.784" stop-color="#4d9fac"/><stop offset="0.812" stop-color="#3b84bc"/><stop offset="0.829" stop-color="#4469b1"/><stop offset="0.843" stop-color="#5258a6"/><stop offset="0.857" stop-color="#594e9e"/><stop offset="0.895" stop-color="#5950a1"/><stop offset="0.958" stop-color="#584b9a"/><stop offset="0.969" stop-color="#564996"/><stop offset="0.983" stop-color="#493e7e"/><stop offset="1.000" stop-color="#4b4081"/></linearGradient><linearGradient id="hl19"><stop offset="0.000" stop-color="#5a4fa0"/><stop offset="0.021" stop-color="#505aa7"/><stop offset="0.045" stop-color="#5851a1"/><stop offset="0.073" stop-color="#584c9b"/><stop offset="0.174" stop-color="#5950a0"/><stop offset="0.195" stop-color="#5a4e9f"/><stop offset="0.258" stop-color="#594e9f"/><stop offset="0.289" stop-color="#4a5fab"/><stop offset="0.338" stop-color="#4666af"/><stop offset="0.352" stop-color="#4666af"/><stop offset="0.362" stop-color="#436ab1"/><stop offset="0.380" stop-color="#5357a5"/><stop offset="0.397" stop-color="#5159a7"/><stop offset="0.411" stop-color="#4b5faa"/><stop offset="0.446" stop-color="#4b5faa"/><stop offset="0.460" stop-color="#4665ae"/><stop offset="0.516" stop-color="#5a4e9f"/><stop offset="0.544" stop-color="#505aa7"/><stop offset="0.564" stop-color="#3e74b7"/><stop offset="0.575" stop-color="#3c87ba"/><stop offset="0.592" stop-color="#58aea7"/><stop offset="0.599" stop-color="#6dc0a5"/><stop offset="0.613" stop-color="#abdaac"/><stop offset="0.624" stop-color="#e4f1b2"/><stop offset="0.631" stop-color="#fcf9b8"/><stop offset="0.641" stop-color="#fde190"/><stop offset="0.648" stop-color="#fcc977"/><stop offset="0.659" stop-color="#fab96a"/><stop offset="0.676" stop-color="#fab567"/><stop offset="0.683" stop-color="#fcc372"/><stop offset="0.693" stop-color="#fde99c"/><stop offset="0.700" stop-color="#fbf9b8"/><stop offset="0.728" stop-color="#96d1a9"/><stop offset="0.739" stop-color="#71c3a6"/><stop offset="0.753" stop-color="#5ab1a7"/><stop offset="0.763" stop-color="#51a4aa"/><stop offset="0.784" stop-color="#499aaf"/><stop offset="0.812" stop-color="#3a82bd"/><stop offset="0.829" stop-color="#4568b0"/><stop offset="0.843" stop-color="#5257a5"/><stop offset="0.857" stop-color="#594e9e"/><stop offset="0.895" stop-color="#5851a1"/><stop offset="0.958" stop-color="#584b9a"/><stop offset="0.969" stop-color="#564996"/><stop offset="0.983" stop-color="#4a3f7f"/><stop offset="1.000" stop-color="#4b4082"/></linearGradient><linearGradient id="hl20"><stop offset="0.000" stop-color="#5a4fa0"/><stop offset="0.021" stop-color="#5158a6"/><stop offset="0.052" stop-color="#594d9c"/><stop offset="0.132" stop-color="#594d9d"/><stop offset="0.188" stop-color="#5851a1"/><stop offset="0.254" stop-color="#594d9d"/><stop offset="0.272" stop-color="#5455a4"/><stop offset="0.289" stop-color="#4b5fab"/><stop offset="0.338" stop-color="#4666af"/><stop offset="0.352" stop-color="#4666af"/><stop offset="0.362" stop-color="#4469b1"/><stop offset="0.380" stop-color="#5356a5"/><stop offset="0.397" stop-color="#5059a7"/><stop offset="0.411" stop-color="#4b5faa"/><stop offset="0.446" stop-color="#4b5fab"/><stop offset="0.460" stop-color="#4765ae"/><stop offset="0.516" stop-color="#594e9f"/><stop offset="0.544" stop-color="#5159a6"/><stop offset="0.568" stop-color="#3e75b7"/><stop offset="0.575" stop-color="#3a82bd"/><stop offset="0.585" stop-color="#4696b1"/><stop offset="0.596" stop-color="#59afa7"/><stop offset="0.603" stop-color="#6ec1a6"/><stop offset="0.617" stop-color="#addbad"/><stop offset="0.627" stop-color="#e3f0b2"/><stop offset="0.634" stop-color="#f7f8b6"/><stop offset="0.638" stop-color="#fdf8b5"/><stop offset="0.648" stop-color="#fde08e"/><stop offset="0.655" stop-color="#fcd17f"/><stop offset="0.672" stop-color="#fcc674"/><stop offset="0.679" stop-color="#fcce7c"/><stop offset="0.686" stop-color="#fde494"/><stop offset="0.693" stop-color="#fdf6b2"/><stop offset="0.697" stop-color="#f8f8b7"/><stop offset="0.707" stop-color="#d3eaaf"/><stop offset="0.721" stop-color="#9fd5ab"/><stop offset="0.735" stop-color="#70c2a6"/><stop offset="0.749" stop-color="#59afa7"/><stop offset="0.763" stop-color="#4d9ead"/><stop offset="0.784" stop-color="#4494b3"/><stop offset="0.812" stop-color="#3b7fbc"/><stop offset="0.826" stop-color="#416db3"/><stop offset="0.840" stop-color="#5159a6"/><stop offset="0.857" stop-color="#594d9e"/><stop offset="0.895" stop-color="#5851a1"/><stop offset="0.962" stop-color="#574b99"/><stop offset="0.972" stop-color="#544792"/><stop offset="0.983" stop-color="#4b4081"/><stop offset="1.000" stop-color="#4b4082"/></linearGradient><linearGradient id="hl21"><stop offset="0.000" stop-color="#5a4fa0"/><stop offset="0.021" stop-color="#5357a5"/><stop offset="0.049" stop-color="#594d9d"/><stop offset="0.132" stop-color="#594d9d"/><stop offset="0.174" stop-color="#5951a1"/><stop offset="0.192" stop-color="#5a4fa0"/><stop offset="0.258" stop-color="#594e9e"/><stop offset="0.289" stop-color="#4a60ab"/><stop offset="0.314" stop-color="#4863ad"/><stop offset="0.352" stop-color="#4666af"/><stop offset="0.362" stop-color="#4469b1"/><stop offset="0.380" stop-color="#5356a5"/><stop offset="0.397" stop-color="#5059a7"/><stop offset="0.411" stop-color="#4b5eaa"/><stop offset="0.449" stop-color="#4962ac"/><stop offset="0.460" stop-color="#4764ae"/><stop offset="0.512" stop-color="#594e9f"/><stop offset="0.540" stop-color="#5455a4"/><stop offset="0.571" stop-color="#3d76b8"/><stop offset="0.578" stop-color="#3b84bc"/><stop offset="0.589" stop-color="#4596b2"/><stop offset="0.603" stop-color="#64bca5"/><stop offset="0.610" stop-color="#7cc8a6"/><stop offset="0.627" stop-color="#d2e9af"/><stop offset="0.638" stop-color="#f2f7b5"/><stop offset="0.641" stop-color="#f9f8b7"/><stop offset="0.645" stop-color="#fdf7b3"/><stop offset="0.655" stop-color="#fde697"/><stop offset="0.672" stop-color="#fddc8a"/><stop offset="0.679" stop-color="#fde393"/><stop offset="0.690" stop-color="#fdf9b8"/><stop offset="0.700" stop-color="#deeeb0"/><stop offset="0.714" stop-color="#a6d8ac"/><stop offset="0.735" stop-color="#66bda5"/><stop offset="0.756" stop-color="#4d9fac"/><stop offset="0.798" stop-color="#3d89b9"/><stop offset="0.812" stop-color="#3c7cbb"/><stop offset="0.826" stop-color="#436ab1"/><stop offset="0.840" stop-color="#5258a6"/><stop offset="0.854" stop-color="#5a4e9f"/><stop offset="0.892" stop-color="#5a4fa0"/><stop offset="0.906" stop-color="#5851a1"/><stop offset="0.969" stop-color="#574a98"/><stop offset="0.983" stop-color="#4c4183"/><stop offset="1.000" stop-color="#4c4083"/></linearGradient><linearGradient id="hl22"><stop offset="0.000" stop-color="#5a4e9f"/><stop offset="0.021" stop-color="#5455a4"/><stop offset="0.045" stop-color="#594d9d"/><stop offset="0.070" stop-color="#574a99"/><stop offset="0.167" stop-color="#5a4fa0"/><stop offset="0.188" stop-color="#5752a2"/><stop offset="0.230" stop-color="#594e9e"/><stop offset="0.261" stop-color="#5a4fa0"/><stop offset="0.289" stop-color="#4a60ab"/><stop offset="0.314" stop-color="#4863ad"/><stop offset="0.328" stop-color="#4863ad"/><stop offset="0.352" stop-color="#4666af"/><stop offset="0.362" stop-color="#4469b0"/><stop offset="0.380" stop-color="#5356a5"/><stop offset="0.397" stop-color="#505aa7"/><stop offset="0.411" stop-color="#4b5eaa"/><stop offset="0.449" stop-color="#4961ac"/><stop offset="0.460" stop-color="#4864ad"/><stop offset="0.509" stop-color="#5a4e9f"/><stop offset="0.540" stop-color="#5455a4"/><stop offset="0.568" stop-color="#416db3"/><stop offset="0.582" stop-color="#3b84bc"/><stop offset="0.589" stop-color="#3f90b6"/><stop offset="0.603" stop-color="#5db4a6"/><stop offset="0.613" stop-color="#81c9a7"/><stop offset="0.627" stop-color="#c6e4ae"/><stop offset="0.641" stop-color="#eff6b4"/><stop offset="0.648" stop-color="#fdf9b8"/><stop offset="0.659" stop-color="#fef1a8"/><stop offset="0.672" stop-color="#feea9d"/><stop offset="0.679" stop-color="#fef0a7"/><stop offset="0.686" stop-color="#fbf9b7"/><stop offset="0.697" stop-color="#ddeeb0"/><stop offset="0.714" stop-color="#9bd3aa"/><stop offset="0.735" stop-color="#5fb7a6"/><stop offset="0.760" stop-color="#4596b2"/><stop offset="0.805" stop-color="#3a81bc"/><stop offset="0.822" stop-color="#406eb4"/><stop offset="0.836" stop-color="#5159a6"/><stop offset="0.854" stop-color="#594e9e"/><stop offset="0.892" stop-color="#5950a1"/><stop offset="0.923" stop-color="#594e9e"/><stop offset="0.969" stop-color="#574a98"/><stop offset="0.983" stop-color="#4d4286"/><stop offset="1.000" stop-color="#4c4184"/></linearGradient><linearGradient id="hl23"><stop offset="0.000" stop-color="#594e9e"/><stop offset="0.021" stop-color="#5653a3"/><stop offset="0.045" stop-color="#584c9b"/><stop offset="0.063" stop-color="#544893"/><stop offset="0.094" stop-color="#584c9b"/><stop offset="0.164" stop-color="#5a4e9f"/><stop offset="0.188" stop-color="#5753a2"/><stop offset="0.223" stop-color="#594d9d"/><stop offset="0.265" stop-color="#5950a1"/><stop offset="0.289" stop-color="#4a60ab"/><stop offset="0.314" stop-color="#4864ad"/><stop offset="0.328" stop-color="#4862ac"/><stop offset="0.352" stop-color="#4666af"/><stop offset="0.362" stop-color="#4468b0"/><stop offset="0.380" stop-color="#5357a5"/><stop offset="0.397" stop-color="#505aa7"/><stop offset="0.411" stop-color="#4b5faa"/><stop offset="0.449" stop-color="#4961ac"/><stop offset="0.463" stop-color="#4961ac"/><stop offset="0.512" stop-color="#594e9e"/><stop offset="0.540" stop-color="#5455a4"/><stop offset="0.568" stop-color="#4469b0"/><stop offset="0.585" stop-color="#3b85bc"/><stop offset="0.592" stop-color="#4191b5"/><stop offset="0.606" stop-color="#60b8a6"/><stop offset="0.613" stop-color="#77c5a6"/><stop offset="0.627" stop-color="#bae0ad"/><stop offset="0.648" stop-color="#f4f7b6"/><stop offset="0.659" stop-color="#fdf8b6"/><stop offset="0.676" stop-color="#fef5b0"/><stop offset="0.683" stop-color="#f9f8b7"/><stop offset="0.693" stop-color="#ddedb0"/><stop offset="0.711" stop-color="#9ad3aa"/><stop offset="0.732" stop-color="#60b9a5"/><stop offset="0.742" stop-color="#52a6aa"/><stop offset="0.763" stop-color="#3f8fb6"/><stop offset="0.805" stop-color="#3b7ebb"/><stop offset="0.822" stop-color="#426bb2"/><stop offset="0.836" stop-color="#5357a5"/><stop offset="0.854" stop-color="#594e9e"/><stop offset="0.906" stop-color="#5950a1"/><stop offset="0.969" stop-color="#574a98"/><stop offset="0.983" stop-color="#4e4287"/><stop offset="1.000" stop-color="#4d4185"/></linearGradient><linearGradient id="hl24"><stop offset="0.000" stop-color="#594e9e"/><stop offset="0.024" stop-color="#5a4fa0"/><stop offset="0.049" stop-color="#564996"/><stop offset="0.059" stop-color="#50448c"/><stop offset="0.077" stop-color="#564996"/><stop offset="0.098" stop-color="#584c9b"/><stop offset="0.164" stop-color="#5a4e9f"/><stop offset="0.188" stop-color="#5653a3"/><stop offset="0.209" stop-color="#594e9f"/><stop offset="0.258" stop-color="#594e9e"/><stop offset="0.275" stop-color="#5158a6"/><stop offset="0.293" stop-color="#4a60ab"/><stop offset="0.310" stop-color="#4666ae"/><stop offset="0.324" stop-color="#4a60ab"/><stop offset="0.352" stop-color="#4665ae"/><stop offset="0.362" stop-color="#4468b0"/><stop offset="0.383" stop-color="#5456a4"/><stop offset="0.401" stop-color="#4d5da9"/><stop offset="0.449" stop-color="#4a60ab"/><stop offset="0.463" stop-color="#4a61ab"/><stop offset="0.509" stop-color="#594e9f"/><stop offset="0.530" stop-color="#5654a3"/><stop offset="0.551" stop-color="#4d5da9"/><stop offset="0.568" stop-color="#4765ae"/><stop offset="0.585" stop-color="#3b80bc"/><stop offset="0.596" stop-color="#4494b3"/><stop offset="0.610" stop-color="#63bba5"/><stop offset="0.617" stop-color="#7dc8a6"/><stop offset="0.627" stop-color="#addbac"/><stop offset="0.648" stop-color="#e9f4b3"/><stop offset="0.659" stop-color="#f5f7b6"/><stop offset="0.676" stop-color="#f9f8b7"/><stop offset="0.683" stop-color="#eff6b4"/><stop offset="0.697" stop-color="#c4e4ae"/><stop offset="0.711" stop-color="#8fcea8"/><stop offset="0.728" stop-color="#62bba5"/><stop offset="0.739" stop-color="#51a4aa"/><stop offset="0.763" stop-color="#3d8ab9"/><stop offset="0.801" stop-color="#3b7ebb"/><stop offset="0.822" stop-color="#4568b0"/><stop offset="0.836" stop-color="#5555a4"/><stop offset="0.861" stop-color="#594d9d"/><stop offset="0.906" stop-color="#5a4fa0"/><stop offset="0.965" stop-color="#574b99"/><stop offset="0.976" stop-color="#524690"/><stop offset="0.986" stop-color="#4e4287"/><stop offset="1.000" stop-color="#4d4286"/></linearGradient><linearGradient id="hl25"><stop offset="0.000" stop-color="#594d9e"/><stop offset="0.028" stop-color="#594e9e"/><stop offset="0.045" stop-color="#574a98"/><stop offset="0.056" stop-color="#4d4286"/><stop offset="0.073" stop-color="#51458d"/><stop offset="0.084" stop-color="#584b9a"/><stop offset="0.164" stop-color="#594e9f"/><stop offset="0.188" stop-color="#5654a3"/><stop offset="0.206" stop-color="#594e9f"/><stop offset="0.258" stop-color="#594e9f"/><stop offset="0.279" stop-color="#4e5ca8"/><stop offset="0.310" stop-color="#4666af"/><stop offset="0.328" stop-color="#4a61ab"/><stop offset="0.352" stop-color="#4765ae"/><stop offset="0.362" stop-color="#4469b0"/><stop offset="0.383" stop-color="#5356a5"/><stop offset="0.397" stop-color="#5059a7"/><stop offset="0.411" stop-color="#4b5faa"/><stop offset="0.449" stop-color="#4a60ab"/><stop offset="0.463" stop-color="#4a61ab"/><stop offset="0.509" stop-color="#594e9f"/><stop offset="0.526" stop-color="#5752a2"/><stop offset="0.568" stop-color="#4962ac"/><stop offset="0.589" stop-color="#3a82bd"/><stop offset="0.596" stop-color="#4090b5"/><stop offset="0.610" stop-color="#5eb5a6"/><stop offset="0.617" stop-color="#75c5a6"/><stop offset="0.627" stop-color="#a4d7ac"/><stop offset="0.648" stop-color="#e1efb1"/><stop offset="0.659" stop-color="#eff6b4"/><stop offset="0.676" stop-color="#f3f7b5"/><stop offset="0.683" stop-color="#e8f3b3"/><stop offset="0.697" stop-color="#bbe0ad"/><stop offset="0.714" stop-color="#7bc7a6"/><stop offset="0.728" stop-color="#5db5a6"/><stop offset="0.739" stop-color="#4ea0ac"/><stop offset="0.763" stop-color="#3c86bb"/><stop offset="0.805" stop-color="#3d78b9"/><stop offset="0.822" stop-color="#4765ae"/><stop offset="0.836" stop-color="#5752a2"/><stop offset="0.878" stop-color="#594e9f"/><stop offset="0.916" stop-color="#5a4e9f"/><stop offset="0.958" stop-color="#584b9a"/><stop offset="0.972" stop-color="#554995"/><stop offset="0.983" stop-color="#4e4388"/><stop offset="1.000" stop-color="#4e4287"/></linearGradient><linearGradient id="hl26"><stop offset="0.000" stop-color="#594d9d"/><stop offset="0.031" stop-color="#594d9d"/><stop offset="0.045" stop-color="#554894"/><stop offset="0.056" stop-color="#4b4081"/><stop offset="0.070" stop-color="#4d4185"/><stop offset="0.084" stop-color="#574b99"/><stop offset="0.167" stop-color="#5a4f9f"/><stop offset="0.188" stop-color="#5653a3"/><stop offset="0.209" stop-color="#594e9f"/><stop offset="0.261" stop-color="#5a4fa0"/><stop offset="0.289" stop-color="#4a60ab"/><stop offset="0.310" stop-color="#4666af"/><stop offset="0.328" stop-color="#4a60ab"/><stop offset="0.352" stop-color="#4764ae"/><stop offset="0.362" stop-color="#4469b1"/><stop offset="0.383" stop-color="#5356a5"/><stop offset="0.397" stop-color="#5159a6"/><stop offset="0.411" stop-color="#4c5eaa"/><stop offset="0.449" stop-color="#4a5fab"/><stop offset="0.463" stop-color="#4a60ab"/><stop offset="0.509" stop-color="#5a4e9f"/><stop offset="0.526" stop-color="#5752a2"/><stop offset="0.568" stop-color="#4a60ab"/><stop offset="0.585" stop-color="#3c7ab9"/><stop offset="0.592" stop-color="#3c86bb"/><stop offset="0.606" stop-color="#53a7a9"/><stop offset="0.617" stop-color="#70c2a6"/><stop offset="0.627" stop-color="#9dd4aa"/><stop offset="0.652" stop-color="#e1f0b1"/><stop offset="0.669" stop-color="#eef6b4"/><stop offset="0.679" stop-color="#e9f4b3"/><stop offset="0.693" stop-color="#c1e3ae"/><stop offset="0.714" stop-color="#76c5a6"/><stop offset="0.725" stop-color="#61baa5"/><stop offset="0.739" stop-color="#4c9dad"/><stop offset="0.760" stop-color="#3b85bb"/><stop offset="0.805" stop-color="#3e75b7"/><stop offset="0.822" stop-color="#4862ac"/><stop offset="0.836" stop-color="#5950a1"/><stop offset="0.889" stop-color="#5a4f9f"/><stop offset="0.955" stop-color="#584c9b"/><stop offset="0.972" stop-color="#554895"/><stop offset="0.983" stop-color="#4e4388"/><stop offset="1.000" stop-color="#4e4388"/></linearGradient><linearGradient id="hl27"><stop offset="0.000" stop-color="#594d9e"/><stop offset="0.031" stop-color="#594d9c"/><stop offset="0.042" stop-color="#574a99"/><stop offset="0.056" stop-color="#4a3f7f"/><stop offset="0.070" stop-color="#4b4083"/><stop offset="0.084" stop-color="#574b99"/><stop offset="0.171" stop-color="#5a4fa0"/><stop offset="0.188" stop-color="#5753a2"/><stop offset="0.223" stop-color="#594d9c"/><stop offset="0.265" stop-color="#5950a1"/><stop offset="0.289" stop-color="#4a60ab"/><stop offset="0.314" stop-color="#4665ae"/><stop offset="0.328" stop-color="#4a60ab"/><stop offset="0.352" stop-color="#4764ad"/><stop offset="0.362" stop-color="#4469b1"/><stop offset="0.383" stop-color="#5356a5"/><stop offset="0.397" stop-color="#5258a6"/><stop offset="0.411" stop-color="#4c5ea9"/><stop offset="0.449" stop-color="#4b5faa"/><stop offset="0.463" stop-color="#4a60ab"/><stop offset="0.509" stop-color="#5a4e9f"/><stop offset="0.526" stop-color="#5851a2"/><stop offset="0.568" stop-color="#4b5faa"/><stop offset="0.589" stop-color="#3b7fbb"/><stop offset="0.599" stop-color="#4394b3"/><stop offset="0.613" stop-color="#5fb8a6"/><stop offset="0.620" stop-color="#78c6a6"/><stop offset="0.627" stop-color="#97d1a9"/><stop offset="0.652" stop-color="#dbedb0"/><stop offset="0.669" stop-color="#e8f3b3"/><stop offset="0.679" stop-color="#e3f0b2"/><stop offset="0.693" stop-color="#bae0ad"/><stop offset="0.711" stop-color="#7ac7a6"/><stop offset="0.725" stop-color="#5eb6a6"/><stop offset="0.739" stop-color="#4a9aaf"/><stop offset="0.760" stop-color="#3a83bd"/><stop offset="0.794" stop-color="#3d77b8"/><stop offset="0.815" stop-color="#4469b1"/><stop offset="0.836" stop-color="#5a4fa0"/><stop offset="0.927" stop-color="#594e9e"/><stop offset="0.955" stop-color="#584c9b"/><stop offset="0.972" stop-color="#554894"/><stop offset="0.983" stop-color="#4e4287"/><stop offset="1.000" stop-color="#4f4389"/></linearGradient><linearGradient id="hl28"><stop offset="0.000" stop-color="#594e9e"/><stop offset="0.031" stop-color="#594d9c"/><stop offset="0.045" stop-color="#554894"/><stop offset="0.056" stop-color="#4a3f80"/><stop offset="0.070" stop-color="#4b4082"/><stop offset="0.087" stop-color="#584b9a"/><stop offset="0.174" stop-color="#5a4fa0"/><stop offset="0.188" stop-color="#5851a2"/><stop offset="0.233" stop-color="#594e9e"/><stop offset="0.265" stop-color="#5950a1"/><stop offset="0.289" stop-color="#4b5fab"/><stop offset="0.314" stop-color="#4666ae"/><stop offset="0.328" stop-color="#4a60ab"/><stop offset="0.352" stop-color="#4863ad"/><stop offset="0.362" stop-color="#436ab1"/><stop offset="0.387" stop-color="#5455a4"/><stop offset="0.411" stop-color="#4d5da9"/><stop offset="0.453" stop-color="#4a60ab"/><stop offset="0.481" stop-color="#4f5aa7"/><stop offset="0.509" stop-color="#5a4e9f"/><stop offset="0.551" stop-color="#5258a6"/><stop offset="0.571" stop-color="#4962ac"/><stop offset="0.589" stop-color="#3b7ebb"/><stop offset="0.596" stop-color="#3d8bb8"/><stop offset="0.613" stop-color="#5cb4a6"/><stop offset="0.624" stop-color="#82caa7"/><stop offset="0.631" stop-color="#9dd4aa"/><stop offset="0.652" stop-color="#d6ebb0"/><stop offset="0.666" stop-color="#e1f0b1"/><stop offset="0.676" stop-color="#e3f0b1"/><stop offset="0.683" stop-color="#d7ebb0"/><stop offset="0.704" stop-color="#91cfa8"/><stop offset="0.711" stop-color="#76c5a6"/><stop offset="0.725" stop-color="#5cb3a6"/><stop offset="0.742" stop-color="#4394b3"/><stop offset="0.760" stop-color="#3b80bc"/><stop offset="0.787" stop-color="#3e74b7"/><stop offset="0.805" stop-color="#3f70b5"/><stop offset="0.826" stop-color="#505aa7"/><stop offset="0.833" stop-color="#5a4fa0"/><stop offset="0.892" stop-color="#5a4fa0"/><stop offset="0.955" stop-color="#584c9b"/><stop offset="0.972" stop-color="#554894"/><stop offset="0.983" stop-color="#4d4286"/><stop offset="1.000" stop-color="#4f4389"/></linearGradient><linearGradient id="hl29"><stop offset="0.000" stop-color="#594e9e"/><stop offset="0.031" stop-color="#594d9d"/><stop offset="0.045" stop-color="#574a98"/><stop offset="0.056" stop-color="#4c4185"/><stop offset="0.070" stop-color="#4c4184"/><stop offset="0.080" stop-color="#534791"/><stop offset="0.087" stop-color="#584b9a"/><stop offset="0.192" stop-color="#5a4f9f"/><stop offset="0.261" stop-color="#5a4f9f"/><stop offset="0.289" stop-color="#4b5fab"/><stop offset="0.314" stop-color="#4666af"/><stop offset="0.331" stop-color="#4a61ab"/><stop offset="0.352" stop-color="#4863ad"/><stop offset="0.362" stop-color="#436ab1"/><stop offset="0.387" stop-color="#5455a4"/><stop offset="0.401" stop-color="#5159a6"/><stop offset="0.415" stop-color="#4e5ca8"/><stop offset="0.453" stop-color="#4b5faa"/><stop offset="0.477" stop-color="#4e5ba8"/><stop offset="0.512" stop-color="#594e9e"/><stop offset="0.551" stop-color="#5356a5"/><stop offset="0.571" stop-color="#4961ac"/><stop offset="0.589" stop-color="#3b7dbb"/><stop offset="0.596" stop-color="#3d8ab9"/><stop offset="0.613" stop-color="#5ab0a7"/><stop offset="0.620" stop-color="#6fc1a6"/><stop offset="0.631" stop-color="#98d2a9"/><stop offset="0.652" stop-color="#d2e9af"/><stop offset="0.662" stop-color="#dcedb0"/><stop offset="0.676" stop-color="#dfeeb1"/><stop offset="0.683" stop-color="#d4eaaf"/><stop offset="0.711" stop-color="#74c4a6"/><stop offset="0.725" stop-color="#5ab1a7"/><stop offset="0.742" stop-color="#4292b4"/><stop offset="0.760" stop-color="#3b7ebb"/><stop offset="0.777" stop-color="#3d76b8"/><stop offset="0.808" stop-color="#426cb3"/><stop offset="0.826" stop-color="#5059a7"/><stop offset="0.833" stop-color="#5a4fa0"/><stop offset="0.892" stop-color="#5a4f9f"/><stop offset="0.955" stop-color="#584c9b"/><stop offset="0.972" stop-color="#544893"/><stop offset="0.986" stop-color="#4c4184"/><stop offset="1.000" stop-color="#4f4389"/></linearGradient><linearGradient id="hl30"><stop offset="0.000" stop-color="#594e9f"/><stop offset="0.028" stop-color="#5a4f9f"/><stop offset="0.049" stop-color="#574a98"/><stop offset="0.059" stop-color="#4f4388"/><stop offset="0.077" stop-color="#51458d"/><stop offset="0.087" stop-color="#584b9a"/><stop offset="0.195" stop-color="#594d9d"/><stop offset="0.261" stop-color="#5a4e9f"/><stop offset="0.289" stop-color="#4b5faa"/><stop offset="0.314" stop-color="#4666af"/><stop offset="0.331" stop-color="#4a61ab"/><stop offset="0.352" stop-color="#4962ac"/><stop offset="0.362" stop-color="#4369b1"/><stop offset="0.387" stop-color="#5555a4"/><stop offset="0.401" stop-color="#5258a6"/><stop offset="0.415" stop-color="#4e5ca8"/><stop offset="0.453" stop-color="#4d5da9"/><stop offset="0.470" stop-color="#4d5da9"/><stop offset="0.516" stop-color="#594d9e"/><stop offset="0.547" stop-color="#5752a2"/><stop offset="0.571" stop-color="#4a60ab"/><stop offset="0.589" stop-color="#3c7dbb"/><stop offset="0.596" stop-color="#3d89b9"/><stop offset="0.613" stop-color="#58ada7"/><stop offset="0.624" stop-color="#77c6a6"/><stop offset="0.631" stop-color="#94d0a8"/><stop offset="0.652" stop-color="#cde7af"/><stop offset="0.662" stop-color="#d9ecb0"/><stop offset="0.676" stop-color="#dbedb0"/><stop offset="0.683" stop-color="#d1e9af"/><stop offset="0.711" stop-color="#72c3a6"/><stop offset="0.725" stop-color="#58aea7"/><stop offset="0.742" stop-color="#4090b5"/><stop offset="0.756" stop-color="#3a82bd"/><stop offset="0.770" stop-color="#3e75b7"/><stop offset="0.808" stop-color="#436bb2"/><stop offset="0.826" stop-color="#505aa7"/><stop offset="0.833" stop-color="#5a4fa0"/><stop offset="0.892" stop-color="#5a4e9f"/><stop offset="0.955" stop-color="#584c9c"/><stop offset="0.972" stop-color="#544792"/><stop offset="0.986" stop-color="#4b4082"/><stop offset="1.000" stop-color="#4f4389"/></linearGradient><linearGradient id="hl31"><stop offset="0.000" stop-color="#5a4e9f"/><stop offset="0.024" stop-color="#5752a2"/><stop offset="0.052" stop-color="#574a98"/><stop offset="0.063" stop-color="#52468e"/><stop offset="0.077" stop-color="#534791"/><stop offset="0.091" stop-color="#584c9b"/><stop offset="0.195" stop-color="#594d9d"/><stop offset="0.265" stop-color="#5a4fa0"/><stop offset="0.289" stop-color="#4b5faa"/><stop offset="0.314" stop-color="#4666af"/><stop offset="0.331" stop-color="#4961ac"/><stop offset="0.352" stop-color="#4962ac"/><stop offset="0.362" stop-color="#4469b1"/><stop offset="0.383" stop-color="#5455a4"/><stop offset="0.401" stop-color="#5258a6"/><stop offset="0.415" stop-color="#4d5ca9"/><stop offset="0.449" stop-color="#505aa7"/><stop offset="0.463" stop-color="#4b5faa"/><stop offset="0.512" stop-color="#594e9e"/><stop offset="0.551" stop-color="#5752a2"/><stop offset="0.571" stop-color="#4b5faa"/><stop offset="0.585" stop-color="#3d76b8"/><stop offset="0.592" stop-color="#3a81bd"/><stop offset="0.603" stop-color="#4495b2"/><stop offset="0.617" stop-color="#5db5a6"/><stop offset="0.631" stop-color="#8fcea8"/><stop offset="0.655" stop-color="#cee8af"/><stop offset="0.676" stop-color="#d7ebb0"/><stop offset="0.683" stop-color="#cde7af"/><stop offset="0.711" stop-color="#6fc1a6"/><stop offset="0.725" stop-color="#56aca8"/><stop offset="0.746" stop-color="#3e8bb8"/><stop offset="0.760" stop-color="#3c7bba"/><stop offset="0.774" stop-color="#3e73b6"/><stop offset="0.808" stop-color="#4469b1"/><stop offset="0.829" stop-color="#5554a3"/><stop offset="0.836" stop-color="#594e9f"/><stop offset="0.955" stop-color="#584c9c"/><stop offset="0.972" stop-color="#544792"/><stop offset="0.986" stop-color="#4a3f80"/><stop offset="1.000" stop-color="#4f4389"/></linearGradient><linearGradient id="hl32"><stop offset="0.000" stop-color="#5a4f9f"/><stop offset="0.024" stop-color="#5555a4"/><stop offset="0.045" stop-color="#594e9e"/><stop offset="0.073" stop-color="#554894"/><stop offset="0.101" stop-color="#584c9b"/><stop offset="0.192" stop-color="#594d9d"/><stop offset="0.230" stop-color="#584c9b"/><stop offset="0.268" stop-color="#5851a1"/><stop offset="0.293" stop-color="#4b5faa"/><stop offset="0.317" stop-color="#4764ae"/><stop offset="0.352" stop-color="#4961ac"/><stop offset="0.362" stop-color="#4568b0"/><stop offset="0.383" stop-color="#5554a3"/><stop offset="0.401" stop-color="#5257a5"/><stop offset="0.415" stop-color="#4d5da9"/><stop offset="0.449" stop-color="#5059a7"/><stop offset="0.463" stop-color="#4b5faa"/><stop offset="0.509" stop-color="#594e9f"/><stop offset="0.540" stop-color="#594d9c"/><stop offset="0.554" stop-color="#5851a1"/><stop offset="0.575" stop-color="#4862ac"/><stop offset="0.585" stop-color="#3e75b7"/><stop offset="0.596" stop-color="#3b86bb"/><stop offset="0.613" stop-color="#54a8a9"/><stop offset="0.624" stop-color="#6fc2a6"/><stop offset="0.634" stop-color="#94d0a8"/><stop offset="0.655" stop-color="#c9e6af"/><stop offset="0.676" stop-color="#d2e9af"/><stop offset="0.683" stop-color="#c9e6af"/><stop offset="0.711" stop-color="#6cc0a5"/><stop offset="0.725" stop-color="#54a9a8"/><stop offset="0.742" stop-color="#3e8db7"/><stop offset="0.756" stop-color="#3b7fbc"/><stop offset="0.770" stop-color="#3f72b6"/><stop offset="0.808" stop-color="#4667af"/><stop offset="0.829" stop-color="#5654a3"/><stop offset="0.836" stop-color="#594e9e"/><stop offset="0.895" stop-color="#594d9d"/><stop offset="0.955" stop-color="#584c9b"/><stop offset="0.972" stop-color="#534791"/><stop offset="0.986" stop-color="#493e7f"/><stop offset="1.000" stop-color="#4e4388"/></linearGradient><linearGradient id="hl33"><stop offset="0.000" stop-color="#5a4fa0"/><stop offset="0.024" stop-color="#5357a5"/><stop offset="0.049" stop-color="#594e9e"/><stop offset="0.080" stop-color="#574b99"/><stop offset="0.153" stop-color="#594d9c"/><stop offset="0.199" stop-color="#574b99"/><stop offset="0.265" stop-color="#5a4f9f"/><stop offset="0.293" stop-color="#4b5faa"/><stop offset="0.317" stop-color="#4764ad"/><stop offset="0.352" stop-color="#4a60ab"/><stop offset="0.362" stop-color="#4666af"/><stop offset="0.383" stop-color="#5653a3"/><stop offset="0.401" stop-color="#5357a5"/><stop offset="0.415" stop-color="#4d5da9"/><stop offset="0.449" stop-color="#5159a6"/><stop offset="0.463" stop-color="#4b5faa"/><stop offset="0.505" stop-color="#594e9e"/><stop offset="0.530" stop-color="#574a98"/><stop offset="0.554" stop-color="#594e9e"/><stop offset="0.571" stop-color="#4f5ba8"/><stop offset="0.585" stop-color="#3e73b6"/><stop offset="0.596" stop-color="#3b84bc"/><stop offset="0.606" stop-color="#4798b1"/><stop offset="0.620" stop-color="#61b9a5"/><stop offset="0.638" stop-color="#97d1a9"/><stop offset="0.655" stop-color="#c3e3ae"/><stop offset="0.676" stop-color="#cce7af"/><stop offset="0.683" stop-color="#c5e4ae"/><stop offset="0.711" stop-color="#69bfa5"/><stop offset="0.725" stop-color="#52a6a9"/><stop offset="0.742" stop-color="#3e8bb8"/><stop offset="0.756" stop-color="#3b7dbb"/><stop offset="0.770" stop-color="#3f70b5"/><stop offset="0.812" stop-color="#4a60ab"/><stop offset="0.836" stop-color="#594d9d"/><stop offset="0.889" stop-color="#574a98"/><stop offset="0.955" stop-color="#584b9a"/><stop offset="0.976" stop-color="#50448a"/><stop offset="0.986" stop-color="#493e7e"/><stop offset="1.000" stop-color="#4e4287"/></linearGradient><linearGradient id="hl34"><stop offset="0.000" stop-color="#5a4fa0"/><stop offset="0.024" stop-color="#5159a6"/><stop offset="0.052" stop-color="#594d9d"/><stop offset="0.129" stop-color="#584c9b"/><stop offset="0.192" stop-color="#584c9b"/><stop offset="0.209" stop-color="#554895"/><stop offset="0.268" stop-color="#5a4fa0"/><stop offset="0.293" stop-color="#4b5eaa"/><stop offset="0.317" stop-color="#4863ad"/><stop offset="0.352" stop-color="#4b5faa"/><stop offset="0.366" stop-color="#4863ad"/><stop offset="0.380" stop-color="#5653a3"/><stop offset="0.401" stop-color="#5357a5"/><stop offset="0.415" stop-color="#4e5ca9"/><stop offset="0.449" stop-color="#5159a6"/><stop offset="0.463" stop-color="#4b5faa"/><stop offset="0.502" stop-color="#594e9e"/><stop offset="0.516" stop-color="#544893"/><stop offset="0.526" stop-color="#4d4286"/><stop offset="0.544" stop-color="#4f4389"/><stop offset="0.551" stop-color="#574a98"/><stop offset="0.564" stop-color="#5950a1"/><stop offset="0.578" stop-color="#4764ad"/><stop offset="0.592" stop-color="#3c7bba"/><stop offset="0.599" stop-color="#3c88ba"/><stop offset="0.617" stop-color="#56aba8"/><stop offset="0.627" stop-color="#73c3a6"/><stop offset="0.641" stop-color="#9ad3aa"/><stop offset="0.655" stop-color="#bde1ae"/><stop offset="0.676" stop-color="#c7e5ae"/><stop offset="0.683" stop-color="#bfe2ae"/><stop offset="0.711" stop-color="#67bda5"/><stop offset="0.725" stop-color="#51a4aa"/><stop offset="0.742" stop-color="#3d8ab9"/><stop offset="0.756" stop-color="#3c7bba"/><stop offset="0.770" stop-color="#406fb4"/><stop offset="0.787" stop-color="#4567af"/><stop offset="0.815" stop-color="#505aa7"/><stop offset="0.833" stop-color="#594d9d"/><stop offset="0.854" stop-color="#564996"/><stop offset="0.864" stop-color="#50448b"/><stop offset="0.882" stop-color="#50448b"/><stop offset="0.892" stop-color="#50448b"/><stop offset="0.906" stop-color="#554995"/><stop offset="0.937" stop-color="#544792"/><stop offset="0.951" stop-color="#574a99"/><stop offset="0.976" stop-color="#4e4288"/><stop offset="0.986" stop-color="#483d7d"/><stop offset="1.000" stop-color="#4d4286"/></linearGradient><linearGradient id="hl35"><stop offset="0.000" stop-color="#5950a1"/><stop offset="0.024" stop-color="#4f5ba8"/><stop offset="0.052" stop-color="#594e9e"/><stop offset="0.132" stop-color="#584c9c"/><stop offset="0.195" stop-color="#574a99"/><stop offset="0.206" stop-color="#52468f"/><stop offset="0.230" stop-color="#564996"/><stop offset="0.247" stop-color="#584b9a"/><stop offset="0.272" stop-color="#5752a2"/><stop offset="0.293" stop-color="#4b5faa"/><stop offset="0.321" stop-color="#4961ac"/><stop offset="0.345" stop-color="#4b5faa"/><stop offset="0.366" stop-color="#4961ac"/><stop offset="0.380" stop-color="#5752a2"/><stop offset="0.401" stop-color="#5357a5"/><stop offset="0.415" stop-color="#4e5ca8"/><stop offset="0.449" stop-color="#5159a6"/><stop offset="0.463" stop-color="#4b5fab"/><stop offset="0.498" stop-color="#594e9e"/><stop offset="0.509" stop-color="#574b99"/><stop offset="0.523" stop-color="#473c7b"/><stop offset="0.540" stop-color="#443a77"/><stop offset="0.547" stop-color="#493e7f"/><stop offset="0.554" stop-color="#554995"/><stop offset="0.568" stop-color="#5a4fa0"/><stop offset="0.589" stop-color="#3e74b7"/><stop offset="0.599" stop-color="#3b85bb"/><stop offset="0.617" stop-color="#54a9a8"/><stop offset="0.624" stop-color="#65bda5"/><stop offset="0.645" stop-color="#9ed4aa"/><stop offset="0.655" stop-color="#b7dead"/><stop offset="0.676" stop-color="#c1e2ae"/><stop offset="0.683" stop-color="#b9dfad"/><stop offset="0.707" stop-color="#6dc0a5"/><stop offset="0.718" stop-color="#57ada8"/><stop offset="0.742" stop-color="#3c88ba"/><stop offset="0.753" stop-color="#3b7ebb"/><stop offset="0.770" stop-color="#416db3"/><stop offset="0.784" stop-color="#4567af"/><stop offset="0.829" stop-color="#594d9d"/><stop offset="0.854" stop-color="#4f4389"/><stop offset="0.864" stop-color="#473d7c"/><stop offset="0.892" stop-color="#463c7a"/><stop offset="0.906" stop-color="#4b4081"/><stop offset="0.937" stop-color="#4b4082"/><stop offset="0.951" stop-color="#51458e"/><stop offset="0.976" stop-color="#4c4184"/><stop offset="0.986" stop-color="#473d7c"/><stop offset="1.000" stop-color="#4d4286"/></linearGradient><linearGradient id="hl36"><stop offset="0.000" stop-color="#5950a1"/><stop offset="0.024" stop-color="#4e5ca8"/><stop offset="0.056" stop-color="#594d9d"/><stop offset="0.192" stop-color="#584b9a"/><stop offset="0.206" stop-color="#51458d"/><stop offset="0.226" stop-color="#52468f"/><stop offset="0.237" stop-color="#574b99"/><stop offset="0.261" stop-color="#594d9c"/><stop offset="0.272" stop-color="#5752a2"/><stop offset="0.293" stop-color="#4b5faa"/><stop offset="0.321" stop-color="#4a60ab"/><stop offset="0.345" stop-color="#4c5eaa"/><stop offset="0.366" stop-color="#4a60ab"/><stop offset="0.380" stop-color="#5752a2"/><stop offset="0.415" stop-color="#4f5ba8"/><stop offset="0.449" stop-color="#5159a6"/><stop offset="0.463" stop-color="#4b5faa"/><stop offset="0.498" stop-color="#594d9d"/><stop offset="0.509" stop-color="#564996"/><stop offset="0.519" stop-color="#463b79"/><stop offset="0.530" stop-color="#3f366e"/><stop offset="0.544" stop-color="#413771"/><stop offset="0.551" stop-color="#4a3f7f"/><stop offset="0.557" stop-color="#574a98"/><stop offset="0.571" stop-color="#5950a1"/><stop offset="0.589" stop-color="#3f71b5"/><stop offset="0.599" stop-color="#3a83bc"/><stop offset="0.610" stop-color="#4898b0"/><stop offset="0.624" stop-color="#63bba5"/><stop offset="0.652" stop-color="#aad9ac"/><stop offset="0.662" stop-color="#b6dead"/><stop offset="0.679" stop-color="#b8dfad"/><stop offset="0.690" stop-color="#9dd4aa"/><stop offset="0.707" stop-color="#6abfa5"/><stop offset="0.721" stop-color="#52a6aa"/><stop offset="0.742" stop-color="#3c87ba"/><stop offset="0.756" stop-color="#3d78b8"/><stop offset="0.770" stop-color="#426bb2"/><stop offset="0.784" stop-color="#4764ae"/><stop offset="0.822" stop-color="#594e9f"/><stop offset="0.836" stop-color="#554895"/><stop offset="0.864" stop-color="#423873"/><stop offset="0.892" stop-color="#3f366f"/><stop offset="0.906" stop-color="#433a75"/><stop offset="0.937" stop-color="#453b78"/><stop offset="0.951" stop-color="#4c4083"/><stop offset="0.976" stop-color="#4b4081"/><stop offset="0.986" stop-color="#473d7c"/><stop offset="1.000" stop-color="#4d4286"/></linearGradient><linearGradient id="hl37"><stop offset="0.000" stop-color="#5950a1"/><stop offset="0.021" stop-color="#4c5eaa"/><stop offset="0.049" stop-color="#5851a1"/><stop offset="0.077" stop-color="#584c9c"/><stop offset="0.192" stop-color="#584b9a"/><stop offset="0.206" stop-color="#51458d"/><stop offset="0.226" stop-color="#51458e"/><stop offset="0.240" stop-color="#574b99"/><stop offset="0.261" stop-color="#594d9d"/><stop offset="0.272" stop-color="#5752a2"/><stop offset="0.293" stop-color="#4b5faa"/><stop offset="0.341" stop-color="#4b5faa"/><stop offset="0.355" stop-color="#4b5faa"/><stop offset="0.366" stop-color="#4b5faa"/><stop offset="0.380" stop-color="#5752a2"/><stop offset="0.415" stop-color="#505aa7"/><stop offset="0.446" stop-color="#5357a5"/><stop offset="0.463" stop-color="#4b5faa"/><stop offset="0.498" stop-color="#594d9d"/><stop offset="0.509" stop-color="#554995"/><stop offset="0.519" stop-color="#453b78"/><stop offset="0.533" stop-color="#3e356d"/><stop offset="0.544" stop-color="#403770"/><stop offset="0.551" stop-color="#493e7f"/><stop offset="0.557" stop-color="#564996"/><stop offset="0.571" stop-color="#5a4fa0"/><stop offset="0.589" stop-color="#406fb4"/><stop offset="0.599" stop-color="#3a81bd"/><stop offset="0.610" stop-color="#4697b1"/><stop offset="0.624" stop-color="#61baa5"/><stop offset="0.652" stop-color="#a5d8ac"/><stop offset="0.662" stop-color="#b0dcad"/><stop offset="0.679" stop-color="#b1dcad"/><stop offset="0.693" stop-color="#8dcda8"/><stop offset="0.707" stop-color="#68bea5"/><stop offset="0.721" stop-color="#51a5aa"/><stop offset="0.739" stop-color="#3d8ab9"/><stop offset="0.749" stop-color="#3b7ebb"/><stop offset="0.767" stop-color="#436ab1"/><stop offset="0.784" stop-color="#4962ac"/><stop offset="0.819" stop-color="#5a4e9f"/><stop offset="0.833" stop-color="#574a98"/><stop offset="0.857" stop-color="#443a77"/><stop offset="0.868" stop-color="#40376f"/><stop offset="0.892" stop-color="#3e356c"/><stop offset="0.906" stop-color="#413871"/><stop offset="0.934" stop-color="#413872"/><stop offset="0.951" stop-color="#4a3f7f"/><stop offset="0.976" stop-color="#4a3f81"/><stop offset="0.986" stop-color="#483d7d"/><stop offset="1.000" stop-color="#4e4288"/></linearGradient><linearGradient id="hl38"><stop offset="0.000" stop-color="#5950a1"/><stop offset="0.021" stop-color="#4b5faa"/><stop offset="0.045" stop-color="#5455a4"/><stop offset="0.056" stop-color="#594d9d"/><stop offset="0.195" stop-color="#574a99"/><stop offset="0.209" stop-color="#52468f"/><stop offset="0.226" stop-color="#52468f"/><stop offset="0.240" stop-color="#574b99"/><stop offset="0.261" stop-color="#594d9d"/><stop offset="0.275" stop-color="#5455a4"/><stop offset="0.293" stop-color="#4c5eaa"/><stop offset="0.341" stop-color="#4c5eaa"/><stop offset="0.355" stop-color="#4c5eaa"/><stop offset="0.366" stop-color="#4c5eaa"/><stop offset="0.380" stop-color="#5752a2"/><stop offset="0.415" stop-color="#5158a6"/><stop offset="0.446" stop-color="#5257a5"/><stop offset="0.463" stop-color="#4b5faa"/><stop offset="0.498" stop-color="#594d9d"/><stop offset="0.509" stop-color="#574a98"/><stop offset="0.519" stop-color="#493e7e"/><stop offset="0.533" stop-color="#433975"/><stop offset="0.544" stop-color="#453b78"/><stop offset="0.551" stop-color="#4e4287"/><stop offset="0.557" stop-color="#574b99"/><stop offset="0.571" stop-color="#5a4fa0"/><stop offset="0.589" stop-color="#416db3"/><stop offset="0.599" stop-color="#3b80bc"/><stop offset="0.610" stop-color="#4595b2"/><stop offset="0.624" stop-color="#60b8a6"/><stop offset="0.641" stop-color="#8bcca7"/><stop offset="0.655" stop-color="#a8d9ac"/><stop offset="0.676" stop-color="#b0dcad"/><stop offset="0.683" stop-color="#a7d8ac"/><stop offset="0.704" stop-color="#6ec1a6"/><stop offset="0.718" stop-color="#54a9a8"/><stop offset="0.739" stop-color="#3d89b9"/><stop offset="0.749" stop-color="#3b7dbb"/><stop offset="0.767" stop-color="#4468b0"/><stop offset="0.784" stop-color="#4a61ab"/><stop offset="0.819" stop-color="#5a4e9f"/><stop offset="0.836" stop-color="#554894"/><stop offset="0.864" stop-color="#443a76"/><stop offset="0.892" stop-color="#423873"/><stop offset="0.906" stop-color="#453b77"/><stop offset="0.930" stop-color="#443a75"/><stop offset="0.951" stop-color="#4c4083"/><stop offset="0.976" stop-color="#4c4184"/><stop offset="0.986" stop-color="#4a3f7f"/><stop offset="1.000" stop-color="#50448a"/></linearGradient><linearGradient id="hl39"><stop offset="0.000" stop-color="#5950a1"/><stop offset="0.021" stop-color="#4a5fab"/><stop offset="0.045" stop-color="#5455a4"/><stop offset="0.056" stop-color="#594d9d"/><stop offset="0.167" stop-color="#594d9d"/><stop offset="0.199" stop-color="#574a98"/><stop offset="0.223" stop-color="#534791"/><stop offset="0.240" stop-color="#584b9a"/><stop offset="0.261" stop-color="#594d9d"/><stop offset="0.279" stop-color="#5158a6"/><stop offset="0.296" stop-color="#4d5da9"/><stop offset="0.345" stop-color="#4e5ca8"/><stop offset="0.362" stop-color="#4a60ab"/><stop offset="0.380" stop-color="#5851a2"/><stop offset="0.415" stop-color="#5357a5"/><stop offset="0.443" stop-color="#5356a5"/><stop offset="0.460" stop-color="#4a60ab"/><stop offset="0.498" stop-color="#594d9e"/><stop offset="0.512" stop-color="#564997"/><stop offset="0.523" stop-color="#4e4286"/><stop offset="0.540" stop-color="#4c4184"/><stop offset="0.554" stop-color="#584b9a"/><stop offset="0.571" stop-color="#5950a1"/><stop offset="0.592" stop-color="#3f71b6"/><stop offset="0.603" stop-color="#3c86bb"/><stop offset="0.620" stop-color="#56aca8"/><stop offset="0.627" stop-color="#67bea5"/><stop offset="0.652" stop-color="#a0d5ab"/><stop offset="0.666" stop-color="#aadaac"/><stop offset="0.676" stop-color="#addbad"/><stop offset="0.686" stop-color="#9bd3aa"/><stop offset="0.700" stop-color="#74c4a6"/><stop offset="0.711" stop-color="#5eb6a6"/><stop offset="0.732" stop-color="#4394b3"/><stop offset="0.746" stop-color="#3b7fbc"/><stop offset="0.767" stop-color="#4567af"/><stop offset="0.784" stop-color="#4a60ab"/><stop offset="0.815" stop-color="#5851a1"/><stop offset="0.850" stop-color="#52468f"/><stop offset="0.864" stop-color="#4a3f81"/><stop offset="0.878" stop-color="#4b4082"/><stop offset="0.889" stop-color="#493e7f"/><stop offset="0.902" stop-color="#4e4288"/><stop offset="0.920" stop-color="#4a3f80"/><stop offset="0.937" stop-color="#4c4083"/><stop offset="0.951" stop-color="#51458d"/><stop offset="0.976" stop-color="#4f4389"/><stop offset="0.986" stop-color="#4c4184"/><stop offset="1.000" stop-color="#51458e"/></linearGradient><linearGradient id="hl40"><stop offset="0.000" stop-color="#5950a1"/><stop offset="0.021" stop-color="#4a60ab"/><stop offset="0.045" stop-color="#5555a4"/><stop offset="0.052" stop-color="#594e9e"/><stop offset="0.164" stop-color="#594d9c"/><stop offset="0.195" stop-color="#584c9b"/><stop offset="0.226" stop-color="#564997"/><stop offset="0.261" stop-color="#594e9e"/><stop offset="0.289" stop-color="#4d5da9"/><stop offset="0.352" stop-color="#4d5da9"/><stop offset="0.362" stop-color="#4a60ab"/><stop offset="0.380" stop-color="#5851a1"/><stop offset="0.415" stop-color="#5455a4"/><stop offset="0.443" stop-color="#5357a5"/><stop offset="0.460" stop-color="#4a61ab"/><stop offset="0.498" stop-color="#594e9e"/><stop offset="0.530" stop-color="#574a98"/><stop offset="0.571" stop-color="#5752a2"/><stop offset="0.592" stop-color="#3f71b5"/><stop offset="0.603" stop-color="#3b85bb"/><stop offset="0.617" stop-color="#4fa2ab"/><stop offset="0.627" stop-color="#65bca5"/><stop offset="0.652" stop-color="#9ed4aa"/><stop offset="0.666" stop-color="#a8d9ac"/><stop offset="0.676" stop-color="#abdaac"/><stop offset="0.686" stop-color="#98d2a9"/><stop offset="0.700" stop-color="#73c3a6"/><stop offset="0.711" stop-color="#5eb5a6"/><stop offset="0.732" stop-color="#4293b4"/><stop offset="0.742" stop-color="#3a82bd"/><stop offset="0.767" stop-color="#4765ae"/><stop offset="0.784" stop-color="#4b5faa"/><stop offset="0.812" stop-color="#5456a4"/><stop offset="0.826" stop-color="#5a4e9f"/><stop offset="0.857" stop-color="#554894"/><stop offset="0.868" stop-color="#544893"/><stop offset="0.882" stop-color="#544792"/><stop offset="0.906" stop-color="#574a98"/><stop offset="0.934" stop-color="#534790"/><stop offset="0.948" stop-color="#574a98"/><stop offset="0.965" stop-color="#544792"/><stop offset="0.986" stop-color="#4f4389"/><stop offset="1.000" stop-color="#534791"/></linearGradient><linearGradient id="hl41"><stop offset="0.000" stop-color="#5950a1"/><stop offset="0.021" stop-color="#4961ac"/><stop offset="0.045" stop-color="#5555a4"/><stop offset="0.052" stop-color="#594e9e"/><stop offset="0.164" stop-color="#594d9d"/><stop offset="0.199" stop-color="#584c9b"/><stop offset="0.258" stop-color="#594d9c"/><stop offset="0.272" stop-color="#5653a3"/><stop offset="0.289" stop-color="#4d5da9"/><stop offset="0.331" stop-color="#4d5ca9"/><stop offset="0.355" stop-color="#4b5faa"/><stop offset="0.366" stop-color="#4d5da9"/><stop offset="0.380" stop-color="#5851a1"/><stop offset="0.415" stop-color="#5554a3"/><stop offset="0.446" stop-color="#5158a6"/><stop offset="0.460" stop-color="#4a60ab"/><stop offset="0.498" stop-color="#594e9e"/><stop offset="0.544" stop-color="#594d9c"/><stop offset="0.568" stop-color="#5851a1"/><stop offset="0.596" stop-color="#3d76b8"/><stop offset="0.603" stop-color="#3b84bc"/><stop offset="0.613" stop-color="#4899b0"/><stop offset="0.627" stop-color="#64bca5"/><stop offset="0.645" stop-color="#8dcda8"/><stop offset="0.655" stop-color="#a2d6ab"/><stop offset="0.676" stop-color="#acdaac"/><stop offset="0.686" stop-color="#98d2a9"/><stop offset="0.700" stop-color="#73c3a6"/><stop offset="0.711" stop-color="#5eb5a6"/><stop offset="0.732" stop-color="#4292b4"/><stop offset="0.742" stop-color="#3a81bd"/><stop offset="0.763" stop-color="#4764ae"/><stop offset="0.794" stop-color="#4d5da9"/><stop offset="0.812" stop-color="#5257a5"/><stop offset="0.829" stop-color="#594e9e"/><stop offset="0.885" stop-color="#584b9a"/><stop offset="0.916" stop-color="#584c9b"/><stop offset="0.969" stop-color="#564997"/><stop offset="0.986" stop-color="#51458d"/><stop offset="1.000" stop-color="#544893"/></linearGradient><linearGradient id="hl42"><stop offset="0.000" stop-color="#5950a1"/><stop offset="0.021" stop-color="#4962ac"/><stop offset="0.042" stop-color="#5059a7"/><stop offset="0.049" stop-color="#5950a0"/><stop offset="0.073" stop-color="#584c9c"/><stop offset="0.167" stop-color="#5a4e9f"/><stop offset="0.254" stop-color="#584c9b"/><stop offset="0.268" stop-color="#5851a1"/><stop offset="0.289" stop-color="#4d5ca9"/><stop offset="0.331" stop-color="#4f5ba8"/><stop offset="0.355" stop-color="#4b5faa"/><stop offset="0.366" stop-color="#4e5ca8"/><stop offset="0.380" stop-color="#5851a1"/><stop offset="0.415" stop-color="#5653a3"/><stop offset="0.446" stop-color="#5258a6"/><stop offset="0.460" stop-color="#4a60ab"/><stop offset="0.498" stop-color="#5a4e9f"/><stop offset="0.551" stop-color="#5950a1"/><stop offset="0.571" stop-color="#5455a4"/><stop offset="0.599" stop-color="#3b7dbb"/><stop offset="0.606" stop-color="#3d8ab9"/><stop offset="0.624" stop-color="#5bb2a7"/><stop offset="0.631" stop-color="#6bbfa5"/><stop offset="0.641" stop-color="#82c9a7"/><stop offset="0.652" stop-color="#9dd4aa"/><stop offset="0.672" stop-color="#addbac"/><stop offset="0.679" stop-color="#a8d9ac"/><stop offset="0.704" stop-color="#6bc0a5"/><stop offset="0.718" stop-color="#54a8a9"/><stop offset="0.739" stop-color="#3b85bb"/><stop offset="0.753" stop-color="#3e72b6"/><stop offset="0.763" stop-color="#4962ac"/><stop offset="0.794" stop-color="#4d5da9"/><stop offset="0.812" stop-color="#5158a6"/><stop offset="0.829" stop-color="#594e9f"/><stop offset="0.889" stop-color="#594d9d"/><stop offset="0.927" stop-color="#594d9c"/><stop offset="0.972" stop-color="#574a97"/><stop offset="0.983" stop-color="#51458e"/><stop offset="1.000" stop-color="#554894"/></linearGradient><linearGradient id="hl43"><stop offset="0.000" stop-color="#5950a1"/><stop offset="0.021" stop-color="#4962ac"/><stop offset="0.042" stop-color="#505aa7"/><stop offset="0.052" stop-color="#594e9e"/><stop offset="0.160" stop-color="#594d9d"/><stop offset="0.195" stop-color="#594d9d"/><stop offset="0.258" stop-color="#594d9d"/><stop offset="0.275" stop-color="#5456a4"/><stop offset="0.293" stop-color="#4e5ca8"/><stop offset="0.317" stop-color="#5059a7"/><stop offset="0.352" stop-color="#4e5ca9"/><stop offset="0.362" stop-color="#4b5faa"/><stop offset="0.380" stop-color="#5851a1"/><stop offset="0.415" stop-color="#5753a2"/><stop offset="0.446" stop-color="#5257a5"/><stop offset="0.460" stop-color="#4b5faa"/><stop offset="0.502" stop-color="#5a4e9f"/><stop offset="0.568" stop-color="#5653a3"/><stop offset="0.596" stop-color="#3d76b8"/><stop offset="0.603" stop-color="#3a83bc"/><stop offset="0.613" stop-color="#4696b1"/><stop offset="0.627" stop-color="#62bba5"/><stop offset="0.641" stop-color="#81c9a7"/><stop offset="0.652" stop-color="#9dd4aa"/><stop offset="0.672" stop-color="#addbad"/><stop offset="0.679" stop-color="#a8d9ac"/><stop offset="0.707" stop-color="#64bca5"/><stop offset="0.728" stop-color="#4798b0"/><stop offset="0.739" stop-color="#3b85bb"/><stop offset="0.756" stop-color="#436bb2"/><stop offset="0.767" stop-color="#4b5fab"/><stop offset="0.794" stop-color="#4d5da9"/><stop offset="0.812" stop-color="#5159a6"/><stop offset="0.829" stop-color="#5a4e9f"/><stop offset="0.889" stop-color="#594e9e"/><stop offset="0.920" stop-color="#594e9e"/><stop offset="0.972" stop-color="#574a98"/><stop offset="0.983" stop-color="#52458e"/><stop offset="1.000" stop-color="#554894"/></linearGradient><linearGradient id="hl44"><stop offset="0.000" stop-color="#5950a1"/><stop offset="0.021" stop-color="#4962ac"/><stop offset="0.042" stop-color="#505aa7"/><stop offset="0.052" stop-color="#594e9e"/><stop offset="0.160" stop-color="#594d9d"/><stop offset="0.195" stop-color="#594d9d"/><stop offset="0.258" stop-color="#594d9d"/><stop offset="0.275" stop-color="#5456a4"/><stop offset="0.293" stop-color="#4e5ca8"/><stop offset="0.317" stop-color="#5059a7"/><stop offset="0.352" stop-color="#4e5ca9"/><stop offset="0.362" stop-color="#4b5faa"/><stop offset="0.380" stop-color="#5851a1"/><stop offset="0.415" stop-color="#5753a2"/><stop offset="0.446" stop-color="#5257a5"/><stop offset="0.460" stop-color="#4b5faa"/><stop offset="0.502" stop-color="#5a4e9f"/><stop offset="0.568" stop-color="#5653a3"/><stop offset="0.596" stop-color="#3d76b8"/><stop offset="0.603" stop-color="#3a83bc"/><stop offset="0.613" stop-color="#4696b1"/><stop offset="0.627" stop-color="#62bba5"/><stop offset="0.641" stop-color="#81c9a7"/><stop offset="0.652" stop-color="#9dd4aa"/><stop offset="0.672" stop-color="#addbad"/><stop offset="0.679" stop-color="#a8d9ac"/><stop offset="0.707" stop-color="#64bca5"/><stop offset="0.728" stop-color="#4798b0"/><stop offset="0.739" stop-color="#3b85bb"/><stop offset="0.756" stop-color="#436bb2"/><stop offset="0.767" stop-color="#4b5fab"/><stop offset="0.794" stop-color="#4d5da9"/><stop offset="0.812" stop-color="#5159a6"/><stop offset="0.829" stop-color="#5a4e9f"/><stop offset="0.889" stop-color="#594e9e"/><stop offset="0.920" stop-color="#594e9e"/><stop offset="0.972" stop-color="#574a98"/><stop offset="0.983" stop-color="#52458e"/><stop offset="1.000" stop-color="#554894"/></linearGradient><clipPath id="cphl"><rect x="520.6" y="826.2" width="287.40" height="337.50"/></clipPath><linearGradient id="hr0"><stop offset="0.000" stop-color="#57ada7"/><stop offset="0.031" stop-color="#4c9dad"/><stop offset="0.052" stop-color="#3f8fb6"/><stop offset="0.084" stop-color="#3c87bb"/><stop offset="0.098" stop-color="#4090b5"/><stop offset="0.108" stop-color="#50a2ab"/><stop offset="0.122" stop-color="#5ab0a7"/><stop offset="0.132" stop-color="#66bda5"/><stop offset="0.164" stop-color="#73c3a6"/><stop offset="0.174" stop-color="#76c5a6"/><stop offset="0.185" stop-color="#77c5a6"/><stop offset="0.199" stop-color="#84caa7"/><stop offset="0.216" stop-color="#8acca7"/><stop offset="0.244" stop-color="#73c3a6"/><stop offset="0.258" stop-color="#74c4a6"/><stop offset="0.272" stop-color="#6bc0a5"/><stop offset="0.321" stop-color="#64bca5"/><stop offset="0.334" stop-color="#5cb4a6"/><stop offset="0.348" stop-color="#59afa7"/><stop offset="0.369" stop-color="#4697b1"/><stop offset="0.387" stop-color="#3a82bd"/><stop offset="0.404" stop-color="#3e75b7"/><stop offset="0.418" stop-color="#4c5eaa"/><stop offset="0.439" stop-color="#594e9e"/><stop offset="0.456" stop-color="#584b9a"/><stop offset="0.470" stop-color="#5752a2"/><stop offset="0.481" stop-color="#4962ac"/><stop offset="0.491" stop-color="#3b7dbb"/><stop offset="0.498" stop-color="#3d89b9"/><stop offset="0.519" stop-color="#59b0a7"/><stop offset="0.526" stop-color="#6bbfa5"/><stop offset="0.537" stop-color="#88cca7"/><stop offset="0.544" stop-color="#a4d7ac"/><stop offset="0.554" stop-color="#d8ecb0"/><stop offset="0.561" stop-color="#f3f7b5"/><stop offset="0.564" stop-color="#fdf8b5"/><stop offset="0.568" stop-color="#feeb9e"/><stop offset="0.575" stop-color="#fbc271"/><stop offset="0.582" stop-color="#f79f5a"/><stop offset="0.592" stop-color="#f17144"/><stop offset="0.603" stop-color="#dc4d4c"/><stop offset="0.610" stop-color="#c8334e"/><stop offset="0.617" stop-color="#ac154c"/><stop offset="0.627" stop-color="#8a0043"/><stop offset="0.638" stop-color="#5e002e"/><stop offset="0.645" stop-color="#4f0028"/><stop offset="0.655" stop-color="#4b0026"/><stop offset="0.666" stop-color="#620031"/><stop offset="0.672" stop-color="#78003b"/><stop offset="0.679" stop-color="#990647"/><stop offset="0.690" stop-color="#c5304e"/><stop offset="0.700" stop-color="#dc4d4c"/><stop offset="0.707" stop-color="#ed6644"/><stop offset="0.714" stop-color="#f5844c"/><stop offset="0.728" stop-color="#fab567"/><stop offset="0.749" stop-color="#fde08e"/><stop offset="0.763" stop-color="#fde08e"/><stop offset="0.777" stop-color="#fef4ac"/><stop offset="0.787" stop-color="#faf8b7"/><stop offset="0.798" stop-color="#e7f2b2"/><stop offset="0.808" stop-color="#bce1ae"/><stop offset="0.815" stop-color="#a1d6ab"/><stop offset="0.836" stop-color="#6fc2a6"/><stop offset="0.850" stop-color="#5eb6a6"/><stop offset="0.864" stop-color="#51a4aa"/><stop offset="0.892" stop-color="#4292b4"/><stop offset="0.913" stop-color="#3a81bd"/><stop offset="0.934" stop-color="#4961ac"/><stop offset="0.944" stop-color="#5950a1"/><stop offset="0.951" stop-color="#574b99"/><stop offset="0.958" stop-color="#483d7d"/><stop offset="0.965" stop-color="#403770"/><stop offset="0.990" stop-color="#322d5a"/><stop offset="1.000" stop-color="#2f2a54"/></linearGradient><linearGradient id="hr1"><stop offset="0.000" stop-color="#57aca8"/><stop offset="0.049" stop-color="#4293b4"/><stop offset="0.063" stop-color="#3e8bb8"/><stop offset="0.087" stop-color="#3c87ba"/><stop offset="0.098" stop-color="#4090b5"/><stop offset="0.108" stop-color="#4fa2ab"/><stop offset="0.122" stop-color="#59b0a7"/><stop offset="0.132" stop-color="#66bda5"/><stop offset="0.164" stop-color="#72c3a6"/><stop offset="0.174" stop-color="#76c5a6"/><stop offset="0.185" stop-color="#76c5a6"/><stop offset="0.199" stop-color="#83caa7"/><stop offset="0.216" stop-color="#8acca7"/><stop offset="0.244" stop-color="#73c4a6"/><stop offset="0.258" stop-color="#74c4a6"/><stop offset="0.272" stop-color="#6bbfa5"/><stop offset="0.314" stop-color="#66bda5"/><stop offset="0.334" stop-color="#5cb4a6"/><stop offset="0.348" stop-color="#59afa7"/><stop offset="0.369" stop-color="#4697b1"/><stop offset="0.387" stop-color="#3a82bd"/><stop offset="0.408" stop-color="#3f70b5"/><stop offset="0.418" stop-color="#4c5eaa"/><stop offset="0.436" stop-color="#5a4f9f"/><stop offset="0.456" stop-color="#574b99"/><stop offset="0.470" stop-color="#5851a1"/><stop offset="0.481" stop-color="#4961ac"/><stop offset="0.491" stop-color="#3b7dbb"/><stop offset="0.498" stop-color="#3d89b9"/><stop offset="0.519" stop-color="#59afa7"/><stop offset="0.526" stop-color="#6bbfa5"/><stop offset="0.540" stop-color="#95d0a9"/><stop offset="0.554" stop-color="#d7ebb0"/><stop offset="0.564" stop-color="#fdf8b7"/><stop offset="0.568" stop-color="#feeca0"/><stop offset="0.575" stop-color="#fcc372"/><stop offset="0.582" stop-color="#f8a05b"/><stop offset="0.592" stop-color="#f17145"/><stop offset="0.603" stop-color="#dc4d4c"/><stop offset="0.610" stop-color="#c8344e"/><stop offset="0.617" stop-color="#ad164c"/><stop offset="0.627" stop-color="#8b0043"/><stop offset="0.638" stop-color="#5f002f"/><stop offset="0.645" stop-color="#510028"/><stop offset="0.655" stop-color="#4d0026"/><stop offset="0.666" stop-color="#630031"/><stop offset="0.672" stop-color="#79003c"/><stop offset="0.676" stop-color="#890042"/><stop offset="0.683" stop-color="#a9124b"/><stop offset="0.690" stop-color="#c5314e"/><stop offset="0.700" stop-color="#dc4e4c"/><stop offset="0.707" stop-color="#ed6744"/><stop offset="0.714" stop-color="#f5844c"/><stop offset="0.728" stop-color="#fab567"/><stop offset="0.749" stop-color="#fde08e"/><stop offset="0.763" stop-color="#fde08e"/><stop offset="0.777" stop-color="#fef4ad"/><stop offset="0.787" stop-color="#faf8b7"/><stop offset="0.798" stop-color="#e7f2b2"/><stop offset="0.808" stop-color="#bce1ae"/><stop offset="0.815" stop-color="#a1d6ab"/><stop offset="0.836" stop-color="#6fc1a6"/><stop offset="0.850" stop-color="#5eb6a6"/><stop offset="0.864" stop-color="#51a4aa"/><stop offset="0.892" stop-color="#4292b4"/><stop offset="0.913" stop-color="#3a82bd"/><stop offset="0.934" stop-color="#4962ac"/><stop offset="0.944" stop-color="#5851a1"/><stop offset="0.951" stop-color="#584b99"/><stop offset="0.958" stop-color="#483e7d"/><stop offset="0.965" stop-color="#413771"/><stop offset="0.990" stop-color="#322d5b"/><stop offset="1.000" stop-color="#2f2a55"/></linearGradient><linearGradient id="hr2"><stop offset="0.000" stop-color="#55aaa8"/><stop offset="0.052" stop-color="#3e8eb7"/><stop offset="0.084" stop-color="#3c86bb"/><stop offset="0.098" stop-color="#4090b5"/><stop offset="0.108" stop-color="#4fa2ab"/><stop offset="0.122" stop-color="#59afa7"/><stop offset="0.132" stop-color="#66bda5"/><stop offset="0.164" stop-color="#72c3a6"/><stop offset="0.174" stop-color="#75c5a6"/><stop offset="0.185" stop-color="#75c5a6"/><stop offset="0.199" stop-color="#83caa7"/><stop offset="0.216" stop-color="#8bcda7"/><stop offset="0.244" stop-color="#74c4a6"/><stop offset="0.258" stop-color="#74c4a6"/><stop offset="0.272" stop-color="#69bfa5"/><stop offset="0.310" stop-color="#63bca5"/><stop offset="0.321" stop-color="#63bca5"/><stop offset="0.334" stop-color="#5cb4a6"/><stop offset="0.345" stop-color="#5cb3a6"/><stop offset="0.366" stop-color="#4c9dad"/><stop offset="0.380" stop-color="#3d8ab9"/><stop offset="0.390" stop-color="#3b7dbb"/><stop offset="0.404" stop-color="#3d76b8"/><stop offset="0.418" stop-color="#4c5ea9"/><stop offset="0.436" stop-color="#594e9e"/><stop offset="0.453" stop-color="#544792"/><stop offset="0.470" stop-color="#5a4fa0"/><stop offset="0.481" stop-color="#4a60ab"/><stop offset="0.491" stop-color="#3b7ebb"/><stop offset="0.502" stop-color="#4090b5"/><stop offset="0.519" stop-color="#59afa7"/><stop offset="0.530" stop-color="#73c3a6"/><stop offset="0.540" stop-color="#93cfa8"/><stop offset="0.554" stop-color="#d4eaaf"/><stop offset="0.564" stop-color="#fbf9b7"/><stop offset="0.568" stop-color="#fef0a6"/><stop offset="0.575" stop-color="#fcc675"/><stop offset="0.582" stop-color="#f8a35c"/><stop offset="0.592" stop-color="#f27345"/><stop offset="0.599" stop-color="#e45847"/><stop offset="0.610" stop-color="#ca374f"/><stop offset="0.617" stop-color="#b0184c"/><stop offset="0.627" stop-color="#8f0045"/><stop offset="0.634" stop-color="#6e0037"/><stop offset="0.641" stop-color="#59002c"/><stop offset="0.652" stop-color="#4e0027"/><stop offset="0.659" stop-color="#530029"/><stop offset="0.672" stop-color="#7b003d"/><stop offset="0.676" stop-color="#8b0043"/><stop offset="0.683" stop-color="#aa124b"/><stop offset="0.690" stop-color="#c6314e"/><stop offset="0.700" stop-color="#dd4e4c"/><stop offset="0.704" stop-color="#e45847"/><stop offset="0.711" stop-color="#f37746"/><stop offset="0.728" stop-color="#fab667"/><stop offset="0.749" stop-color="#fde18f"/><stop offset="0.763" stop-color="#fde08e"/><stop offset="0.777" stop-color="#fef4ad"/><stop offset="0.787" stop-color="#f9f8b7"/><stop offset="0.798" stop-color="#e5f2b2"/><stop offset="0.808" stop-color="#bce1ae"/><stop offset="0.815" stop-color="#a0d5ab"/><stop offset="0.836" stop-color="#6ec1a6"/><stop offset="0.850" stop-color="#5eb6a6"/><stop offset="0.864" stop-color="#51a4aa"/><stop offset="0.892" stop-color="#4292b4"/><stop offset="0.913" stop-color="#3a83bd"/><stop offset="0.934" stop-color="#4863ad"/><stop offset="0.944" stop-color="#5851a1"/><stop offset="0.951" stop-color="#584b9a"/><stop offset="0.958" stop-color="#493e7e"/><stop offset="0.965" stop-color="#413871"/><stop offset="0.990" stop-color="#332e5c"/><stop offset="1.000" stop-color="#302b57"/></linearGradient><linearGradient id="hr3"><stop offset="0.000" stop-color="#54a9a8"/><stop offset="0.042" stop-color="#4393b3"/><stop offset="0.059" stop-color="#3d89b9"/><stop offset="0.087" stop-color="#3c88ba"/><stop offset="0.098" stop-color="#4191b5"/><stop offset="0.111" stop-color="#51a4aa"/><stop offset="0.122" stop-color="#59afa7"/><stop offset="0.132" stop-color="#66bda5"/><stop offset="0.174" stop-color="#75c4a6"/><stop offset="0.185" stop-color="#75c4a6"/><stop offset="0.199" stop-color="#82c9a7"/><stop offset="0.216" stop-color="#8ccda8"/><stop offset="0.244" stop-color="#75c5a6"/><stop offset="0.258" stop-color="#74c4a6"/><stop offset="0.272" stop-color="#68bea5"/><stop offset="0.310" stop-color="#62bba5"/><stop offset="0.321" stop-color="#62bba5"/><stop offset="0.331" stop-color="#5cb3a6"/><stop offset="0.345" stop-color="#5cb3a6"/><stop offset="0.366" stop-color="#4c9dad"/><stop offset="0.380" stop-color="#3d8ab9"/><stop offset="0.390" stop-color="#3b7ebb"/><stop offset="0.404" stop-color="#3d76b8"/><stop offset="0.418" stop-color="#4d5da9"/><stop offset="0.432" stop-color="#5a4fa0"/><stop offset="0.446" stop-color="#544792"/><stop offset="0.453" stop-color="#4e4287"/><stop offset="0.460" stop-color="#534690"/><stop offset="0.467" stop-color="#584c9b"/><stop offset="0.474" stop-color="#5a4fa0"/><stop offset="0.481" stop-color="#4c5eaa"/><stop offset="0.488" stop-color="#3e75b7"/><stop offset="0.495" stop-color="#3b85bc"/><stop offset="0.505" stop-color="#4797b1"/><stop offset="0.519" stop-color="#59b0a7"/><stop offset="0.530" stop-color="#72c3a6"/><stop offset="0.540" stop-color="#91cfa8"/><stop offset="0.557" stop-color="#ddeeb0"/><stop offset="0.564" stop-color="#f8f8b7"/><stop offset="0.568" stop-color="#fef3ab"/><stop offset="0.575" stop-color="#fcca78"/><stop offset="0.582" stop-color="#f8a55d"/><stop offset="0.592" stop-color="#f27546"/><stop offset="0.599" stop-color="#e55947"/><stop offset="0.610" stop-color="#cc394f"/><stop offset="0.620" stop-color="#a7104b"/><stop offset="0.627" stop-color="#920146"/><stop offset="0.638" stop-color="#640032"/><stop offset="0.648" stop-color="#520029"/><stop offset="0.659" stop-color="#55002a"/><stop offset="0.672" stop-color="#7d003d"/><stop offset="0.676" stop-color="#8c0043"/><stop offset="0.683" stop-color="#ab134b"/><stop offset="0.690" stop-color="#c7324e"/><stop offset="0.700" stop-color="#dd4f4b"/><stop offset="0.704" stop-color="#e55847"/><stop offset="0.707" stop-color="#ee6944"/><stop offset="0.721" stop-color="#f79f5a"/><stop offset="0.732" stop-color="#fbbf6f"/><stop offset="0.749" stop-color="#fde190"/><stop offset="0.763" stop-color="#fde08e"/><stop offset="0.777" stop-color="#fef4ae"/><stop offset="0.784" stop-color="#fdf8b7"/><stop offset="0.794" stop-color="#edf6b4"/><stop offset="0.805" stop-color="#cbe6af"/><stop offset="0.815" stop-color="#a0d5ab"/><stop offset="0.836" stop-color="#6ec1a6"/><stop offset="0.850" stop-color="#5eb6a6"/><stop offset="0.864" stop-color="#50a3ab"/><stop offset="0.895" stop-color="#3f8fb6"/><stop offset="0.913" stop-color="#3b84bc"/><stop offset="0.934" stop-color="#4764ae"/><stop offset="0.948" stop-color="#594e9e"/><stop offset="0.951" stop-color="#584b9a"/><stop offset="0.958" stop-color="#493e7f"/><stop offset="0.965" stop-color="#413872"/><stop offset="0.990" stop-color="#342e5d"/><stop offset="1.000" stop-color="#312c59"/></linearGradient><linearGradient id="hr4"><stop offset="0.000" stop-color="#53a7a9"/><stop offset="0.038" stop-color="#4191b5"/><stop offset="0.063" stop-color="#3c88ba"/><stop offset="0.087" stop-color="#3c88ba"/><stop offset="0.101" stop-color="#4697b1"/><stop offset="0.115" stop-color="#52a6aa"/><stop offset="0.132" stop-color="#66bda5"/><stop offset="0.174" stop-color="#75c4a6"/><stop offset="0.185" stop-color="#75c4a6"/><stop offset="0.199" stop-color="#81c9a7"/><stop offset="0.216" stop-color="#8ccda8"/><stop offset="0.244" stop-color="#76c5a6"/><stop offset="0.258" stop-color="#74c4a6"/><stop offset="0.272" stop-color="#67bea5"/><stop offset="0.307" stop-color="#60b8a6"/><stop offset="0.321" stop-color="#61b9a5"/><stop offset="0.334" stop-color="#5cb3a6"/><stop offset="0.345" stop-color="#5cb3a6"/><stop offset="0.366" stop-color="#4c9ead"/><stop offset="0.380" stop-color="#3d8ab9"/><stop offset="0.390" stop-color="#3b7ebb"/><stop offset="0.404" stop-color="#3d76b8"/><stop offset="0.418" stop-color="#4d5da9"/><stop offset="0.432" stop-color="#5a4e9f"/><stop offset="0.439" stop-color="#574a99"/><stop offset="0.449" stop-color="#4a3f80"/><stop offset="0.456" stop-color="#483e7d"/><stop offset="0.467" stop-color="#574a98"/><stop offset="0.477" stop-color="#5752a2"/><stop offset="0.488" stop-color="#3e75b7"/><stop offset="0.495" stop-color="#3b85bc"/><stop offset="0.505" stop-color="#4797b1"/><stop offset="0.523" stop-color="#60b8a5"/><stop offset="0.537" stop-color="#84caa7"/><stop offset="0.547" stop-color="#aedbad"/><stop offset="0.561" stop-color="#e7f3b3"/><stop offset="0.564" stop-color="#f5f7b6"/><stop offset="0.568" stop-color="#fef5af"/><stop offset="0.575" stop-color="#fccd7b"/><stop offset="0.582" stop-color="#f8a75e"/><stop offset="0.592" stop-color="#f37846"/><stop offset="0.599" stop-color="#e65a46"/><stop offset="0.610" stop-color="#ce3b4f"/><stop offset="0.620" stop-color="#aa134b"/><stop offset="0.627" stop-color="#950346"/><stop offset="0.638" stop-color="#670033"/><stop offset="0.648" stop-color="#54002a"/><stop offset="0.659" stop-color="#57002b"/><stop offset="0.672" stop-color="#7e003e"/><stop offset="0.676" stop-color="#8d0044"/><stop offset="0.683" stop-color="#ab134b"/><stop offset="0.690" stop-color="#c7334e"/><stop offset="0.700" stop-color="#de4f4b"/><stop offset="0.704" stop-color="#e55947"/><stop offset="0.707" stop-color="#ef6a43"/><stop offset="0.721" stop-color="#f79f5a"/><stop offset="0.735" stop-color="#fcc876"/><stop offset="0.749" stop-color="#fde190"/><stop offset="0.763" stop-color="#fde08e"/><stop offset="0.777" stop-color="#fef4ae"/><stop offset="0.784" stop-color="#fdf9b7"/><stop offset="0.794" stop-color="#ecf5b3"/><stop offset="0.805" stop-color="#c9e6af"/><stop offset="0.815" stop-color="#9fd5ab"/><stop offset="0.836" stop-color="#6ec1a6"/><stop offset="0.850" stop-color="#5eb6a6"/><stop offset="0.861" stop-color="#52a6aa"/><stop offset="0.902" stop-color="#3d8bb8"/><stop offset="0.913" stop-color="#3b84bc"/><stop offset="0.934" stop-color="#4666af"/><stop offset="0.948" stop-color="#594e9e"/><stop offset="0.951" stop-color="#584b9a"/><stop offset="0.958" stop-color="#4a3f80"/><stop offset="0.965" stop-color="#423873"/><stop offset="0.990" stop-color="#352f5e"/><stop offset="1.000" stop-color="#322d5a"/></linearGradient><linearGradient id="hr5"><stop offset="0.000" stop-color="#52a6aa"/><stop offset="0.038" stop-color="#3f8fb6"/><stop offset="0.063" stop-color="#3c87ba"/><stop offset="0.084" stop-color="#3b85bb"/><stop offset="0.098" stop-color="#4191b4"/><stop offset="0.111" stop-color="#50a3ab"/><stop offset="0.122" stop-color="#58ada7"/><stop offset="0.129" stop-color="#62bba5"/><stop offset="0.174" stop-color="#75c4a6"/><stop offset="0.185" stop-color="#75c5a6"/><stop offset="0.199" stop-color="#81c9a7"/><stop offset="0.216" stop-color="#8ccda8"/><stop offset="0.244" stop-color="#76c5a6"/><stop offset="0.258" stop-color="#73c4a6"/><stop offset="0.272" stop-color="#66bda5"/><stop offset="0.303" stop-color="#5eb6a6"/><stop offset="0.321" stop-color="#5fb7a6"/><stop offset="0.334" stop-color="#5bb2a7"/><stop offset="0.345" stop-color="#5cb3a6"/><stop offset="0.366" stop-color="#4d9ead"/><stop offset="0.380" stop-color="#3d8ab9"/><stop offset="0.390" stop-color="#3b7ebb"/><stop offset="0.404" stop-color="#3d76b8"/><stop offset="0.418" stop-color="#4e5ca8"/><stop offset="0.432" stop-color="#594e9e"/><stop offset="0.439" stop-color="#544893"/><stop offset="0.449" stop-color="#453b78"/><stop offset="0.456" stop-color="#433a75"/><stop offset="0.463" stop-color="#4c4184"/><stop offset="0.470" stop-color="#574b99"/><stop offset="0.477" stop-color="#5950a0"/><stop offset="0.488" stop-color="#3e74b7"/><stop offset="0.495" stop-color="#3b84bc"/><stop offset="0.505" stop-color="#4697b1"/><stop offset="0.523" stop-color="#5fb8a6"/><stop offset="0.537" stop-color="#83caa7"/><stop offset="0.547" stop-color="#addbac"/><stop offset="0.564" stop-color="#f3f7b5"/><stop offset="0.568" stop-color="#fdf6b2"/><stop offset="0.571" stop-color="#fde697"/><stop offset="0.575" stop-color="#fccf7d"/><stop offset="0.582" stop-color="#f9aa5f"/><stop offset="0.596" stop-color="#f06c43"/><stop offset="0.603" stop-color="#e0524a"/><stop offset="0.613" stop-color="#c42f4e"/><stop offset="0.624" stop-color="#a30d4a"/><stop offset="0.631" stop-color="#890042"/><stop offset="0.638" stop-color="#690034"/><stop offset="0.648" stop-color="#57002b"/><stop offset="0.655" stop-color="#56002a"/><stop offset="0.666" stop-color="#6a0035"/><stop offset="0.676" stop-color="#8f0045"/><stop offset="0.683" stop-color="#ac154c"/><stop offset="0.690" stop-color="#c8334e"/><stop offset="0.700" stop-color="#de504b"/><stop offset="0.704" stop-color="#e65a46"/><stop offset="0.707" stop-color="#f06c43"/><stop offset="0.718" stop-color="#f69455"/><stop offset="0.735" stop-color="#fcc876"/><stop offset="0.749" stop-color="#fde190"/><stop offset="0.763" stop-color="#fde08f"/><stop offset="0.777" stop-color="#fef5af"/><stop offset="0.784" stop-color="#fdf9b8"/><stop offset="0.794" stop-color="#eaf4b3"/><stop offset="0.805" stop-color="#c7e5ae"/><stop offset="0.815" stop-color="#9fd5ab"/><stop offset="0.836" stop-color="#6ec1a6"/><stop offset="0.850" stop-color="#5fb7a6"/><stop offset="0.861" stop-color="#52a6aa"/><stop offset="0.902" stop-color="#3d8bb8"/><stop offset="0.913" stop-color="#3b84bc"/><stop offset="0.934" stop-color="#4567b0"/><stop offset="0.948" stop-color="#594e9f"/><stop offset="0.955" stop-color="#534791"/><stop offset="0.958" stop-color="#4b4082"/><stop offset="0.965" stop-color="#433975"/><stop offset="0.990" stop-color="#363060"/><stop offset="1.000" stop-color="#332e5c"/></linearGradient><linearGradient id="hr6"><stop offset="0.000" stop-color="#51a4aa"/><stop offset="0.038" stop-color="#3f8eb7"/><stop offset="0.059" stop-color="#3b85bb"/><stop offset="0.084" stop-color="#3b84bc"/><stop offset="0.098" stop-color="#4191b5"/><stop offset="0.111" stop-color="#50a2ab"/><stop offset="0.122" stop-color="#57ada7"/><stop offset="0.129" stop-color="#62baa5"/><stop offset="0.174" stop-color="#75c4a6"/><stop offset="0.185" stop-color="#76c5a6"/><stop offset="0.199" stop-color="#82c9a7"/><stop offset="0.216" stop-color="#8ccda8"/><stop offset="0.240" stop-color="#77c6a6"/><stop offset="0.258" stop-color="#72c3a6"/><stop offset="0.268" stop-color="#66bda5"/><stop offset="0.286" stop-color="#60b8a6"/><stop offset="0.307" stop-color="#5db5a6"/><stop offset="0.321" stop-color="#5eb5a6"/><stop offset="0.334" stop-color="#5bb1a7"/><stop offset="0.345" stop-color="#5bb2a7"/><stop offset="0.366" stop-color="#4d9ead"/><stop offset="0.380" stop-color="#3d8ab9"/><stop offset="0.390" stop-color="#3b7fbc"/><stop offset="0.404" stop-color="#3e75b7"/><stop offset="0.418" stop-color="#4f5ba8"/><stop offset="0.432" stop-color="#594d9d"/><stop offset="0.436" stop-color="#574b99"/><stop offset="0.446" stop-color="#463c79"/><stop offset="0.453" stop-color="#403770"/><stop offset="0.460" stop-color="#443a76"/><stop offset="0.470" stop-color="#574a98"/><stop offset="0.477" stop-color="#5a4fa0"/><stop offset="0.488" stop-color="#3e74b7"/><stop offset="0.495" stop-color="#3b84bc"/><stop offset="0.505" stop-color="#4595b2"/><stop offset="0.523" stop-color="#5eb6a6"/><stop offset="0.537" stop-color="#82c9a7"/><stop offset="0.564" stop-color="#f1f7b5"/><stop offset="0.568" stop-color="#fdf7b5"/><stop offset="0.571" stop-color="#fde89a"/><stop offset="0.575" stop-color="#fcd381"/><stop offset="0.582" stop-color="#f9ad61"/><stop offset="0.596" stop-color="#f17044"/><stop offset="0.606" stop-color="#da4b4d"/><stop offset="0.624" stop-color="#a8104b"/><stop offset="0.631" stop-color="#8f0045"/><stop offset="0.638" stop-color="#6e0037"/><stop offset="0.648" stop-color="#5d002e"/><stop offset="0.659" stop-color="#5f002f"/><stop offset="0.669" stop-color="#7a003c"/><stop offset="0.676" stop-color="#930246"/><stop offset="0.683" stop-color="#b0184c"/><stop offset="0.690" stop-color="#ca364f"/><stop offset="0.704" stop-color="#e75c46"/><stop offset="0.707" stop-color="#f06e44"/><stop offset="0.718" stop-color="#f69556"/><stop offset="0.728" stop-color="#fab668"/><stop offset="0.746" stop-color="#fddd8b"/><stop offset="0.753" stop-color="#fde190"/><stop offset="0.763" stop-color="#fde290"/><stop offset="0.774" stop-color="#fef3ac"/><stop offset="0.784" stop-color="#fcf9b8"/><stop offset="0.794" stop-color="#e7f3b3"/><stop offset="0.808" stop-color="#b7dfad"/><stop offset="0.815" stop-color="#9ed5aa"/><stop offset="0.836" stop-color="#6ec1a6"/><stop offset="0.850" stop-color="#5fb7a6"/><stop offset="0.861" stop-color="#52a6aa"/><stop offset="0.902" stop-color="#3d8bb8"/><stop offset="0.913" stop-color="#3b84bc"/><stop offset="0.927" stop-color="#3f70b5"/><stop offset="0.941" stop-color="#4f5ba8"/><stop offset="0.948" stop-color="#594e9f"/><stop offset="0.955" stop-color="#544792"/><stop offset="0.962" stop-color="#473d7b"/><stop offset="0.990" stop-color="#373163"/><stop offset="1.000" stop-color="#342e5e"/></linearGradient><linearGradient id="hr7"><stop offset="0.000" stop-color="#50a2ab"/><stop offset="0.038" stop-color="#3e8db7"/><stop offset="0.059" stop-color="#3b84bc"/><stop offset="0.084" stop-color="#3a83bc"/><stop offset="0.101" stop-color="#4595b2"/><stop offset="0.122" stop-color="#57ada8"/><stop offset="0.129" stop-color="#61baa5"/><stop offset="0.174" stop-color="#75c5a6"/><stop offset="0.185" stop-color="#77c6a6"/><stop offset="0.199" stop-color="#82caa7"/><stop offset="0.216" stop-color="#8ccda8"/><stop offset="0.237" stop-color="#78c6a6"/><stop offset="0.258" stop-color="#71c2a6"/><stop offset="0.268" stop-color="#65bca5"/><stop offset="0.282" stop-color="#61baa5"/><stop offset="0.296" stop-color="#5bb2a7"/><stop offset="0.321" stop-color="#5cb3a6"/><stop offset="0.334" stop-color="#5ab0a7"/><stop offset="0.345" stop-color="#5ab1a7"/><stop offset="0.366" stop-color="#4d9ead"/><stop offset="0.380" stop-color="#3d8ab9"/><stop offset="0.394" stop-color="#3b7dbb"/><stop offset="0.404" stop-color="#3e74b7"/><stop offset="0.418" stop-color="#4f5aa7"/><stop offset="0.429" stop-color="#5a4fa0"/><stop offset="0.436" stop-color="#574a99"/><stop offset="0.443" stop-color="#4a3f80"/><stop offset="0.453" stop-color="#403770"/><stop offset="0.460" stop-color="#443a76"/><stop offset="0.470" stop-color="#574a98"/><stop offset="0.477" stop-color="#5a4fa0"/><stop offset="0.488" stop-color="#3e74b7"/><stop offset="0.495" stop-color="#3a83bd"/><stop offset="0.505" stop-color="#4394b3"/><stop offset="0.523" stop-color="#5db4a6"/><stop offset="0.537" stop-color="#80c9a7"/><stop offset="0.564" stop-color="#eff6b4"/><stop offset="0.568" stop-color="#fdf9b8"/><stop offset="0.575" stop-color="#fdd785"/><stop offset="0.578" stop-color="#fcc372"/><stop offset="0.585" stop-color="#f8a35c"/><stop offset="0.596" stop-color="#f27646"/><stop offset="0.603" stop-color="#e45847"/><stop offset="0.613" stop-color="#cc394f"/><stop offset="0.627" stop-color="#a30c4a"/><stop offset="0.634" stop-color="#860041"/><stop offset="0.641" stop-color="#6e0037"/><stop offset="0.655" stop-color="#640032"/><stop offset="0.662" stop-color="#6e0037"/><stop offset="0.672" stop-color="#8f0045"/><stop offset="0.679" stop-color="#a70f4b"/><stop offset="0.690" stop-color="#cd3a4f"/><stop offset="0.704" stop-color="#e96045"/><stop offset="0.711" stop-color="#f4804a"/><stop offset="0.728" stop-color="#fab869"/><stop offset="0.742" stop-color="#fdd886"/><stop offset="0.753" stop-color="#fde291"/><stop offset="0.760" stop-color="#fde18f"/><stop offset="0.767" stop-color="#fde99c"/><stop offset="0.774" stop-color="#fef5af"/><stop offset="0.784" stop-color="#faf8b7"/><stop offset="0.794" stop-color="#e5f1b2"/><stop offset="0.808" stop-color="#b5dead"/><stop offset="0.815" stop-color="#9ed4aa"/><stop offset="0.836" stop-color="#6fc2a6"/><stop offset="0.850" stop-color="#5fb7a6"/><stop offset="0.861" stop-color="#52a6aa"/><stop offset="0.902" stop-color="#3d8bb8"/><stop offset="0.913" stop-color="#3b84bc"/><stop offset="0.927" stop-color="#3f70b5"/><stop offset="0.937" stop-color="#4962ac"/><stop offset="0.948" stop-color="#594e9f"/><stop offset="0.955" stop-color="#554894"/><stop offset="0.962" stop-color="#483e7d"/><stop offset="0.979" stop-color="#3e356d"/><stop offset="1.000" stop-color="#352f60"/></linearGradient><linearGradient id="hr8"><stop offset="0.000" stop-color="#4fa1ab"/><stop offset="0.035" stop-color="#3e8cb8"/><stop offset="0.059" stop-color="#3a82bd"/><stop offset="0.084" stop-color="#3a81bd"/><stop offset="0.101" stop-color="#4494b3"/><stop offset="0.122" stop-color="#57ada8"/><stop offset="0.129" stop-color="#61baa5"/><stop offset="0.174" stop-color="#76c5a6"/><stop offset="0.185" stop-color="#78c6a6"/><stop offset="0.195" stop-color="#83caa7"/><stop offset="0.209" stop-color="#89cca7"/><stop offset="0.216" stop-color="#8ccda8"/><stop offset="0.233" stop-color="#79c6a6"/><stop offset="0.258" stop-color="#6fc2a6"/><stop offset="0.268" stop-color="#64bca5"/><stop offset="0.282" stop-color="#60b8a5"/><stop offset="0.293" stop-color="#5ab0a7"/><stop offset="0.324" stop-color="#58aea7"/><stop offset="0.345" stop-color="#5ab0a7"/><stop offset="0.366" stop-color="#4d9ead"/><stop offset="0.380" stop-color="#3d8bb8"/><stop offset="0.397" stop-color="#3c7bba"/><stop offset="0.408" stop-color="#426cb3"/><stop offset="0.418" stop-color="#4f5aa7"/><stop offset="0.432" stop-color="#594d9d"/><stop offset="0.436" stop-color="#574b99"/><stop offset="0.446" stop-color="#483d7d"/><stop offset="0.453" stop-color="#433a75"/><stop offset="0.460" stop-color="#473d7b"/><stop offset="0.470" stop-color="#574b99"/><stop offset="0.477" stop-color="#5950a1"/><stop offset="0.488" stop-color="#3e74b7"/><stop offset="0.495" stop-color="#3a81bd"/><stop offset="0.505" stop-color="#4292b4"/><stop offset="0.523" stop-color="#5cb3a6"/><stop offset="0.533" stop-color="#75c4a6"/><stop offset="0.547" stop-color="#a8d9ac"/><stop offset="0.564" stop-color="#edf5b4"/><stop offset="0.568" stop-color="#fbf9b8"/><stop offset="0.571" stop-color="#feeea3"/><stop offset="0.578" stop-color="#fcc876"/><stop offset="0.585" stop-color="#f9a95e"/><stop offset="0.599" stop-color="#f06d43"/><stop offset="0.606" stop-color="#df514a"/><stop offset="0.620" stop-color="#c02a4e"/><stop offset="0.631" stop-color="#9b0848"/><stop offset="0.634" stop-color="#8e0044"/><stop offset="0.641" stop-color="#77003b"/><stop offset="0.652" stop-color="#6d0036"/><stop offset="0.659" stop-color="#700038"/><stop offset="0.672" stop-color="#960446"/><stop offset="0.679" stop-color="#ad154c"/><stop offset="0.690" stop-color="#d03e4f"/><stop offset="0.700" stop-color="#e25548"/><stop offset="0.707" stop-color="#f27445"/><stop offset="0.721" stop-color="#f8a35c"/><stop offset="0.735" stop-color="#fccc7a"/><stop offset="0.749" stop-color="#fde291"/><stop offset="0.760" stop-color="#fde392"/><stop offset="0.767" stop-color="#feeca0"/><stop offset="0.774" stop-color="#fdf6b2"/><stop offset="0.784" stop-color="#f9f8b7"/><stop offset="0.794" stop-color="#e3f1b2"/><stop offset="0.815" stop-color="#9ed4aa"/><stop offset="0.836" stop-color="#70c2a6"/><stop offset="0.850" stop-color="#5fb7a6"/><stop offset="0.861" stop-color="#52a6aa"/><stop offset="0.902" stop-color="#3e8bb8"/><stop offset="0.913" stop-color="#3b83bc"/><stop offset="0.927" stop-color="#3f71b5"/><stop offset="0.937" stop-color="#4863ad"/><stop offset="0.948" stop-color="#5a4e9f"/><stop offset="0.955" stop-color="#574a97"/><stop offset="0.962" stop-color="#4b4082"/><stop offset="0.979" stop-color="#413872"/><stop offset="1.000" stop-color="#383163"/></linearGradient><linearGradient id="hr9"><stop offset="0.000" stop-color="#4e9fac"/><stop offset="0.031" stop-color="#3e8bb8"/><stop offset="0.059" stop-color="#3b80bc"/><stop offset="0.073" stop-color="#3b7ebb"/><stop offset="0.084" stop-color="#3b7fbc"/><stop offset="0.101" stop-color="#4393b3"/><stop offset="0.122" stop-color="#57ada8"/><stop offset="0.132" stop-color="#64bca5"/><stop offset="0.150" stop-color="#6cc0a5"/><stop offset="0.185" stop-color="#79c6a6"/><stop offset="0.195" stop-color="#84caa7"/><stop offset="0.216" stop-color="#8bcda7"/><stop offset="0.230" stop-color="#7ac7a6"/><stop offset="0.258" stop-color="#6fc1a6"/><stop offset="0.268" stop-color="#63bca5"/><stop offset="0.282" stop-color="#5eb6a6"/><stop offset="0.293" stop-color="#58ada7"/><stop offset="0.331" stop-color="#56aba8"/><stop offset="0.341" stop-color="#5bb1a7"/><stop offset="0.366" stop-color="#4d9ead"/><stop offset="0.380" stop-color="#3e8bb8"/><stop offset="0.394" stop-color="#3b7ebb"/><stop offset="0.404" stop-color="#3e73b6"/><stop offset="0.415" stop-color="#4d5da9"/><stop offset="0.432" stop-color="#594d9e"/><stop offset="0.443" stop-color="#50448c"/><stop offset="0.453" stop-color="#483e7d"/><stop offset="0.460" stop-color="#4c4184"/><stop offset="0.467" stop-color="#574a98"/><stop offset="0.477" stop-color="#5752a2"/><stop offset="0.488" stop-color="#3e74b7"/><stop offset="0.498" stop-color="#3b85bb"/><stop offset="0.509" stop-color="#4798b0"/><stop offset="0.523" stop-color="#5bb2a7"/><stop offset="0.530" stop-color="#6cc0a5"/><stop offset="0.540" stop-color="#8bcda7"/><stop offset="0.564" stop-color="#eaf4b3"/><stop offset="0.568" stop-color="#f9f8b7"/><stop offset="0.571" stop-color="#fef2a9"/><stop offset="0.578" stop-color="#fccf7d"/><stop offset="0.585" stop-color="#f9af62"/><stop offset="0.599" stop-color="#f17245"/><stop offset="0.606" stop-color="#e25449"/><stop offset="0.617" stop-color="#cc394f"/><stop offset="0.627" stop-color="#af174c"/><stop offset="0.634" stop-color="#950346"/><stop offset="0.641" stop-color="#81003f"/><stop offset="0.655" stop-color="#76003a"/><stop offset="0.662" stop-color="#81003f"/><stop offset="0.672" stop-color="#9c0848"/><stop offset="0.679" stop-color="#b21b4c"/><stop offset="0.686" stop-color="#ca364f"/><stop offset="0.700" stop-color="#e45847"/><stop offset="0.707" stop-color="#f37746"/><stop offset="0.728" stop-color="#fbbb6c"/><stop offset="0.742" stop-color="#fddc8a"/><stop offset="0.753" stop-color="#fde494"/><stop offset="0.760" stop-color="#fde495"/><stop offset="0.774" stop-color="#fdf7b4"/><stop offset="0.784" stop-color="#f9f8b7"/><stop offset="0.794" stop-color="#e2f0b1"/><stop offset="0.815" stop-color="#9ed4aa"/><stop offset="0.836" stop-color="#70c2a6"/><stop offset="0.850" stop-color="#5fb7a6"/><stop offset="0.861" stop-color="#52a6aa"/><stop offset="0.902" stop-color="#3e8cb8"/><stop offset="0.913" stop-color="#3b84bc"/><stop offset="0.923" stop-color="#3d76b8"/><stop offset="0.934" stop-color="#406fb4"/><stop offset="0.951" stop-color="#5a4e9f"/><stop offset="0.976" stop-color="#4f4389"/><stop offset="0.986" stop-color="#473c7a"/><stop offset="1.000" stop-color="#413872"/></linearGradient><linearGradient id="hr10"><stop offset="0.000" stop-color="#4c9dad"/><stop offset="0.028" stop-color="#3d8bb8"/><stop offset="0.059" stop-color="#3c7cbb"/><stop offset="0.073" stop-color="#3c7aba"/><stop offset="0.084" stop-color="#3c7dbb"/><stop offset="0.098" stop-color="#3e8db7"/><stop offset="0.122" stop-color="#57aca8"/><stop offset="0.132" stop-color="#63bba5"/><stop offset="0.150" stop-color="#6cc0a5"/><stop offset="0.178" stop-color="#76c5a6"/><stop offset="0.195" stop-color="#85caa7"/><stop offset="0.216" stop-color="#8bcda7"/><stop offset="0.230" stop-color="#7ac7a6"/><stop offset="0.254" stop-color="#72c3a6"/><stop offset="0.268" stop-color="#62bba5"/><stop offset="0.282" stop-color="#5cb3a6"/><stop offset="0.293" stop-color="#55aaa8"/><stop offset="0.331" stop-color="#55aaa8"/><stop offset="0.341" stop-color="#5ab1a7"/><stop offset="0.366" stop-color="#4d9ead"/><stop offset="0.380" stop-color="#3e8cb8"/><stop offset="0.394" stop-color="#3b7fbb"/><stop offset="0.404" stop-color="#3e72b6"/><stop offset="0.415" stop-color="#4d5da9"/><stop offset="0.432" stop-color="#594e9e"/><stop offset="0.446" stop-color="#51458d"/><stop offset="0.453" stop-color="#4e4287"/><stop offset="0.460" stop-color="#52468f"/><stop offset="0.467" stop-color="#584b9a"/><stop offset="0.474" stop-color="#5a4e9f"/><stop offset="0.481" stop-color="#4c5eaa"/><stop offset="0.488" stop-color="#3e74b7"/><stop offset="0.498" stop-color="#3b85bc"/><stop offset="0.509" stop-color="#4797b1"/><stop offset="0.523" stop-color="#5bb2a7"/><stop offset="0.530" stop-color="#6bc0a5"/><stop offset="0.540" stop-color="#89cca7"/><stop offset="0.561" stop-color="#d5eaaf"/><stop offset="0.568" stop-color="#f6f8b6"/><stop offset="0.571" stop-color="#fef5ae"/><stop offset="0.582" stop-color="#fcc573"/><stop offset="0.592" stop-color="#f69656"/><stop offset="0.599" stop-color="#f37847"/><stop offset="0.603" stop-color="#ee6844"/><stop offset="0.606" stop-color="#e45847"/><stop offset="0.620" stop-color="#c9364f"/><stop offset="0.627" stop-color="#b61f4d"/><stop offset="0.634" stop-color="#9c0848"/><stop offset="0.641" stop-color="#8c0044"/><stop offset="0.655" stop-color="#81003f"/><stop offset="0.666" stop-color="#930246"/><stop offset="0.676" stop-color="#ac154c"/><stop offset="0.686" stop-color="#ce3b4f"/><stop offset="0.700" stop-color="#e65a46"/><stop offset="0.704" stop-color="#f06c43"/><stop offset="0.714" stop-color="#f69455"/><stop offset="0.725" stop-color="#fab366"/><stop offset="0.739" stop-color="#fdd886"/><stop offset="0.749" stop-color="#fde495"/><stop offset="0.760" stop-color="#fde697"/><stop offset="0.774" stop-color="#fdf8b5"/><stop offset="0.784" stop-color="#f8f8b7"/><stop offset="0.794" stop-color="#e1efb1"/><stop offset="0.815" stop-color="#9dd4aa"/><stop offset="0.836" stop-color="#70c2a6"/><stop offset="0.850" stop-color="#5eb6a6"/><stop offset="0.861" stop-color="#52a6aa"/><stop offset="0.906" stop-color="#3e8cb8"/><stop offset="0.920" stop-color="#3c7cba"/><stop offset="0.937" stop-color="#406fb4"/><stop offset="0.955" stop-color="#5950a0"/><stop offset="0.979" stop-color="#574a98"/><stop offset="1.000" stop-color="#4d4185"/></linearGradient><linearGradient id="hr11"><stop offset="0.000" stop-color="#4a9aaf"/><stop offset="0.021" stop-color="#3d8bb8"/><stop offset="0.045" stop-color="#3b7ebb"/><stop offset="0.059" stop-color="#3d78b8"/><stop offset="0.080" stop-color="#3d76b8"/><stop offset="0.091" stop-color="#3a82bd"/><stop offset="0.122" stop-color="#56aca8"/><stop offset="0.132" stop-color="#62bba5"/><stop offset="0.150" stop-color="#6cc0a5"/><stop offset="0.174" stop-color="#76c5a6"/><stop offset="0.185" stop-color="#7ac7a6"/><stop offset="0.195" stop-color="#85cba7"/><stop offset="0.216" stop-color="#8bcda7"/><stop offset="0.230" stop-color="#7cc7a6"/><stop offset="0.254" stop-color="#72c3a6"/><stop offset="0.268" stop-color="#61b9a5"/><stop offset="0.282" stop-color="#59afa7"/><stop offset="0.293" stop-color="#53a6a9"/><stop offset="0.331" stop-color="#55aaa8"/><stop offset="0.341" stop-color="#5ab1a7"/><stop offset="0.366" stop-color="#4c9dad"/><stop offset="0.380" stop-color="#3e8cb7"/><stop offset="0.394" stop-color="#3b7fbc"/><stop offset="0.404" stop-color="#3e73b6"/><stop offset="0.415" stop-color="#4c5ea9"/><stop offset="0.432" stop-color="#5a4e9f"/><stop offset="0.453" stop-color="#51458e"/><stop offset="0.474" stop-color="#5a4fa0"/><stop offset="0.488" stop-color="#3e74b7"/><stop offset="0.498" stop-color="#3b85bb"/><stop offset="0.509" stop-color="#4797b1"/><stop offset="0.523" stop-color="#5bb2a7"/><stop offset="0.530" stop-color="#6abfa5"/><stop offset="0.540" stop-color="#86cba7"/><stop offset="0.561" stop-color="#d0e8af"/><stop offset="0.568" stop-color="#f2f7b5"/><stop offset="0.571" stop-color="#fdf8b5"/><stop offset="0.578" stop-color="#fddf8d"/><stop offset="0.589" stop-color="#f9ac60"/><stop offset="0.603" stop-color="#f17044"/><stop offset="0.606" stop-color="#e85e45"/><stop offset="0.617" stop-color="#d5444e"/><stop offset="0.627" stop-color="#c02a4e"/><stop offset="0.634" stop-color="#a70f4b"/><stop offset="0.645" stop-color="#940346"/><stop offset="0.655" stop-color="#900045"/><stop offset="0.669" stop-color="#a40d4a"/><stop offset="0.676" stop-color="#b51e4d"/><stop offset="0.686" stop-color="#d3414f"/><stop offset="0.697" stop-color="#e35648"/><stop offset="0.704" stop-color="#f17245"/><stop offset="0.714" stop-color="#f79a58"/><stop offset="0.725" stop-color="#fab96a"/><stop offset="0.735" stop-color="#fdd583"/><stop offset="0.746" stop-color="#fde494"/><stop offset="0.760" stop-color="#fde799"/><stop offset="0.774" stop-color="#fdf8b6"/><stop offset="0.787" stop-color="#f2f7b5"/><stop offset="0.805" stop-color="#bde1ae"/><stop offset="0.812" stop-color="#a4d7ac"/><stop offset="0.829" stop-color="#7dc8a6"/><stop offset="0.840" stop-color="#6cc0a5"/><stop offset="0.850" stop-color="#5eb5a6"/><stop offset="0.861" stop-color="#52a6aa"/><stop offset="0.913" stop-color="#3c87ba"/><stop offset="0.927" stop-color="#3c7cba"/><stop offset="0.941" stop-color="#3f6fb5"/><stop offset="0.958" stop-color="#5455a4"/><stop offset="0.993" stop-color="#584c9c"/><stop offset="1.000" stop-color="#584b9a"/></linearGradient><linearGradient id="hr12"><stop offset="0.000" stop-color="#4696b1"/><stop offset="0.024" stop-color="#3b84bc"/><stop offset="0.056" stop-color="#3f70b5"/><stop offset="0.073" stop-color="#3f70b5"/><stop offset="0.084" stop-color="#3e75b7"/><stop offset="0.094" stop-color="#3b83bc"/><stop offset="0.122" stop-color="#56aba8"/><stop offset="0.132" stop-color="#62bba5"/><stop offset="0.171" stop-color="#77c5a6"/><stop offset="0.181" stop-color="#77c5a6"/><stop offset="0.195" stop-color="#86cba7"/><stop offset="0.216" stop-color="#8bcda7"/><stop offset="0.233" stop-color="#7cc7a6"/><stop offset="0.254" stop-color="#73c3a6"/><stop offset="0.268" stop-color="#5fb8a6"/><stop offset="0.282" stop-color="#56aba8"/><stop offset="0.296" stop-color="#50a2ab"/><stop offset="0.331" stop-color="#54a9a8"/><stop offset="0.341" stop-color="#5ab1a7"/><stop offset="0.366" stop-color="#4c9dad"/><stop offset="0.380" stop-color="#3e8cb7"/><stop offset="0.394" stop-color="#3b7fbc"/><stop offset="0.404" stop-color="#3e73b6"/><stop offset="0.415" stop-color="#4b5faa"/><stop offset="0.432" stop-color="#5a4e9f"/><stop offset="0.453" stop-color="#534690"/><stop offset="0.470" stop-color="#594d9e"/><stop offset="0.474" stop-color="#5a4fa0"/><stop offset="0.488" stop-color="#3e74b7"/><stop offset="0.498" stop-color="#3b85bb"/><stop offset="0.519" stop-color="#54a9a8"/><stop offset="0.526" stop-color="#62bba5"/><stop offset="0.537" stop-color="#77c6a6"/><stop offset="0.561" stop-color="#cbe7af"/><stop offset="0.568" stop-color="#edf6b4"/><stop offset="0.571" stop-color="#fbf9b7"/><stop offset="0.575" stop-color="#fef3ab"/><stop offset="0.585" stop-color="#fcc473"/><stop offset="0.592" stop-color="#f8a45c"/><stop offset="0.603" stop-color="#f37746"/><stop offset="0.610" stop-color="#e45847"/><stop offset="0.624" stop-color="#d03e4f"/><stop offset="0.638" stop-color="#a9114b"/><stop offset="0.652" stop-color="#9a0748"/><stop offset="0.662" stop-color="#a10b49"/><stop offset="0.672" stop-color="#b31c4c"/><stop offset="0.686" stop-color="#d6454e"/><stop offset="0.697" stop-color="#e65a46"/><stop offset="0.704" stop-color="#f37947"/><stop offset="0.714" stop-color="#f8a05b"/><stop offset="0.728" stop-color="#fcca78"/><stop offset="0.739" stop-color="#fddf8d"/><stop offset="0.749" stop-color="#fde89b"/><stop offset="0.760" stop-color="#fde89b"/><stop offset="0.774" stop-color="#fdf8b7"/><stop offset="0.787" stop-color="#f1f7b5"/><stop offset="0.801" stop-color="#c8e5ae"/><stop offset="0.812" stop-color="#a2d6ab"/><stop offset="0.826" stop-color="#86cba7"/><stop offset="0.836" stop-color="#6fc1a6"/><stop offset="0.847" stop-color="#63bba5"/><stop offset="0.861" stop-color="#52a6aa"/><stop offset="0.913" stop-color="#3d89b9"/><stop offset="0.927" stop-color="#3a80bc"/><stop offset="0.944" stop-color="#3e72b6"/><stop offset="0.958" stop-color="#4b5fab"/><stop offset="0.976" stop-color="#4d5da9"/><stop offset="0.990" stop-color="#5555a4"/><stop offset="1.000" stop-color="#5950a1"/></linearGradient><linearGradient id="hr13"><stop offset="0.000" stop-color="#4091b5"/><stop offset="0.021" stop-color="#3a80bc"/><stop offset="0.035" stop-color="#3e73b6"/><stop offset="0.056" stop-color="#4567af"/><stop offset="0.080" stop-color="#436bb2"/><stop offset="0.098" stop-color="#3b86bb"/><stop offset="0.122" stop-color="#55aaa8"/><stop offset="0.132" stop-color="#61baa5"/><stop offset="0.171" stop-color="#78c6a6"/><stop offset="0.181" stop-color="#77c6a6"/><stop offset="0.195" stop-color="#88cba7"/><stop offset="0.216" stop-color="#8bcda7"/><stop offset="0.240" stop-color="#79c6a6"/><stop offset="0.254" stop-color="#73c3a6"/><stop offset="0.268" stop-color="#5eb6a6"/><stop offset="0.293" stop-color="#4e9fac"/><stop offset="0.310" stop-color="#4fa2ab"/><stop offset="0.331" stop-color="#54a9a9"/><stop offset="0.341" stop-color="#5ab1a7"/><stop offset="0.366" stop-color="#4b9bae"/><stop offset="0.383" stop-color="#3c88ba"/><stop offset="0.397" stop-color="#3c7cbb"/><stop offset="0.408" stop-color="#426cb3"/><stop offset="0.418" stop-color="#4c5ea9"/><stop offset="0.432" stop-color="#5a4f9f"/><stop offset="0.453" stop-color="#52468f"/><stop offset="0.467" stop-color="#584c9c"/><stop offset="0.474" stop-color="#5a4e9f"/><stop offset="0.481" stop-color="#4b5eaa"/><stop offset="0.488" stop-color="#3e74b7"/><stop offset="0.498" stop-color="#3b85bb"/><stop offset="0.519" stop-color="#54a9a8"/><stop offset="0.526" stop-color="#62baa5"/><stop offset="0.540" stop-color="#80c9a7"/><stop offset="0.561" stop-color="#c6e5ae"/><stop offset="0.571" stop-color="#f6f8b6"/><stop offset="0.575" stop-color="#fdf6b2"/><stop offset="0.582" stop-color="#fdde8c"/><stop offset="0.589" stop-color="#fbbb6c"/><stop offset="0.596" stop-color="#f79d59"/><stop offset="0.606" stop-color="#f16f44"/><stop offset="0.610" stop-color="#e95f45"/><stop offset="0.620" stop-color="#da4a4d"/><stop offset="0.631" stop-color="#c7324e"/><stop offset="0.641" stop-color="#af184c"/><stop offset="0.652" stop-color="#a60e4a"/><stop offset="0.662" stop-color="#ac154c"/><stop offset="0.676" stop-color="#c42e4e"/><stop offset="0.686" stop-color="#d94a4d"/><stop offset="0.697" stop-color="#ea6145"/><stop offset="0.704" stop-color="#f47f49"/><stop offset="0.718" stop-color="#fab164"/><stop offset="0.732" stop-color="#fdd987"/><stop offset="0.746" stop-color="#feea9d"/><stop offset="0.760" stop-color="#feea9d"/><stop offset="0.774" stop-color="#fdf9b8"/><stop offset="0.787" stop-color="#f1f7b5"/><stop offset="0.801" stop-color="#c8e5ae"/><stop offset="0.812" stop-color="#a1d6ab"/><stop offset="0.826" stop-color="#85cba7"/><stop offset="0.836" stop-color="#6ec1a6"/><stop offset="0.847" stop-color="#62bba5"/><stop offset="0.861" stop-color="#52a6a9"/><stop offset="0.892" stop-color="#4494b3"/><stop offset="0.916" stop-color="#3c86bb"/><stop offset="0.941" stop-color="#3c7cbb"/><stop offset="0.962" stop-color="#436ab1"/><stop offset="0.972" stop-color="#416db3"/><stop offset="0.986" stop-color="#4961ac"/><stop offset="1.000" stop-color="#4d5da9"/></linearGradient><linearGradient id="hr14"><stop offset="0.000" stop-color="#3d8ab9"/><stop offset="0.017" stop-color="#3c7bba"/><stop offset="0.035" stop-color="#4468b0"/><stop offset="0.056" stop-color="#4d5ca9"/><stop offset="0.080" stop-color="#4863ad"/><stop offset="0.098" stop-color="#3a82bd"/><stop offset="0.125" stop-color="#5ab0a7"/><stop offset="0.136" stop-color="#62bba5"/><stop offset="0.171" stop-color="#7ac7a6"/><stop offset="0.181" stop-color="#79c6a6"/><stop offset="0.195" stop-color="#8acca7"/><stop offset="0.216" stop-color="#8ccda8"/><stop offset="0.247" stop-color="#78c6a6"/><stop offset="0.258" stop-color="#6cc0a5"/><stop offset="0.268" stop-color="#5cb4a6"/><stop offset="0.293" stop-color="#4b9cae"/><stop offset="0.307" stop-color="#4b9cad"/><stop offset="0.331" stop-color="#54a8a9"/><stop offset="0.341" stop-color="#5ab1a7"/><stop offset="0.366" stop-color="#4a9aaf"/><stop offset="0.383" stop-color="#3c88ba"/><stop offset="0.401" stop-color="#3d79b9"/><stop offset="0.415" stop-color="#4961ac"/><stop offset="0.432" stop-color="#5a4fa0"/><stop offset="0.446" stop-color="#554894"/><stop offset="0.453" stop-color="#51458d"/><stop offset="0.467" stop-color="#584c9b"/><stop offset="0.477" stop-color="#5653a3"/><stop offset="0.488" stop-color="#3e73b6"/><stop offset="0.498" stop-color="#3b85bb"/><stop offset="0.519" stop-color="#54a8a9"/><stop offset="0.526" stop-color="#61baa5"/><stop offset="0.540" stop-color="#7cc7a6"/><stop offset="0.551" stop-color="#9fd5ab"/><stop offset="0.561" stop-color="#c0e2ae"/><stop offset="0.571" stop-color="#f0f6b4"/><stop offset="0.575" stop-color="#fbf9b7"/><stop offset="0.578" stop-color="#fef4ac"/><stop offset="0.589" stop-color="#fcc473"/><stop offset="0.599" stop-color="#f79957"/><stop offset="0.610" stop-color="#ef6b43"/><stop offset="0.617" stop-color="#e35748"/><stop offset="0.631" stop-color="#d13f4f"/><stop offset="0.641" stop-color="#bf294e"/><stop offset="0.652" stop-color="#b51e4d"/><stop offset="0.669" stop-color="#c22d4e"/><stop offset="0.686" stop-color="#de504b"/><stop offset="0.693" stop-color="#e95f45"/><stop offset="0.700" stop-color="#f37947"/><stop offset="0.714" stop-color="#f9ae62"/><stop offset="0.728" stop-color="#fdda88"/><stop offset="0.746" stop-color="#feefa4"/><stop offset="0.760" stop-color="#feeda2"/><stop offset="0.770" stop-color="#fdf8b5"/><stop offset="0.784" stop-color="#f5f7b6"/><stop offset="0.794" stop-color="#deeeb0"/><stop offset="0.812" stop-color="#a0d5ab"/><stop offset="0.826" stop-color="#85caa7"/><stop offset="0.836" stop-color="#6ec1a6"/><stop offset="0.847" stop-color="#62bba5"/><stop offset="0.861" stop-color="#53a7a9"/><stop offset="0.892" stop-color="#4494b3"/><stop offset="0.927" stop-color="#3b84bc"/><stop offset="0.948" stop-color="#3c7ab9"/><stop offset="0.962" stop-color="#3f70b5"/><stop offset="0.972" stop-color="#3e73b6"/><stop offset="0.990" stop-color="#4567af"/><stop offset="1.000" stop-color="#4863ad"/></linearGradient><linearGradient id="hr15"><stop offset="0.000" stop-color="#3a82bd"/><stop offset="0.024" stop-color="#4468b0"/><stop offset="0.035" stop-color="#4d5ca9"/><stop offset="0.059" stop-color="#5653a3"/><stop offset="0.080" stop-color="#4f5ba8"/><stop offset="0.098" stop-color="#3c7cba"/><stop offset="0.105" stop-color="#3e8cb8"/><stop offset="0.122" stop-color="#53a7a9"/><stop offset="0.132" stop-color="#60b8a5"/><stop offset="0.171" stop-color="#7dc8a6"/><stop offset="0.181" stop-color="#7cc7a6"/><stop offset="0.195" stop-color="#8dcda8"/><stop offset="0.213" stop-color="#91cfa8"/><stop offset="0.247" stop-color="#78c6a6"/><stop offset="0.258" stop-color="#6cc0a5"/><stop offset="0.268" stop-color="#5bb2a7"/><stop offset="0.293" stop-color="#4798b0"/><stop offset="0.307" stop-color="#4999af"/><stop offset="0.324" stop-color="#50a3ab"/><stop offset="0.341" stop-color="#5ab1a7"/><stop offset="0.362" stop-color="#4d9eac"/><stop offset="0.380" stop-color="#3d8bb8"/><stop offset="0.390" stop-color="#3b7fbc"/><stop offset="0.404" stop-color="#3e74b7"/><stop offset="0.415" stop-color="#4961ac"/><stop offset="0.432" stop-color="#5a4fa0"/><stop offset="0.446" stop-color="#544792"/><stop offset="0.453" stop-color="#50448b"/><stop offset="0.467" stop-color="#584b9a"/><stop offset="0.477" stop-color="#5752a2"/><stop offset="0.488" stop-color="#3f71b6"/><stop offset="0.498" stop-color="#3b85bb"/><stop offset="0.516" stop-color="#4ea0ac"/><stop offset="0.530" stop-color="#66bda5"/><stop offset="0.540" stop-color="#79c6a6"/><stop offset="0.551" stop-color="#9bd3aa"/><stop offset="0.561" stop-color="#bae0ad"/><stop offset="0.575" stop-color="#f5f7b6"/><stop offset="0.578" stop-color="#fdf8b5"/><stop offset="0.585" stop-color="#fde18f"/><stop offset="0.592" stop-color="#fbc06f"/><stop offset="0.610" stop-color="#f37746"/><stop offset="0.617" stop-color="#ea6145"/><stop offset="0.641" stop-color="#cb374f"/><stop offset="0.652" stop-color="#c42f4e"/><stop offset="0.672" stop-color="#d03e4f"/><stop offset="0.690" stop-color="#e96045"/><stop offset="0.697" stop-color="#f27646"/><stop offset="0.714" stop-color="#fab668"/><stop offset="0.728" stop-color="#fde190"/><stop offset="0.746" stop-color="#fef3ab"/><stop offset="0.760" stop-color="#fef1a8"/><stop offset="0.770" stop-color="#fdf9b8"/><stop offset="0.787" stop-color="#eef6b4"/><stop offset="0.798" stop-color="#d3e9af"/><stop offset="0.808" stop-color="#a9d9ac"/><stop offset="0.826" stop-color="#84caa7"/><stop offset="0.836" stop-color="#6dc1a6"/><stop offset="0.850" stop-color="#5db4a6"/><stop offset="0.868" stop-color="#50a2ab"/><stop offset="0.889" stop-color="#4899b0"/><stop offset="0.902" stop-color="#3f90b6"/><stop offset="0.927" stop-color="#3b85bb"/><stop offset="0.948" stop-color="#3b7dbb"/><stop offset="0.958" stop-color="#3e73b6"/><stop offset="0.972" stop-color="#3d77b8"/><stop offset="0.997" stop-color="#436ab1"/><stop offset="1.000" stop-color="#4469b0"/></linearGradient><linearGradient id="hr16"><stop offset="0.000" stop-color="#3d79b9"/><stop offset="0.024" stop-color="#4d5da9"/><stop offset="0.035" stop-color="#5752a2"/><stop offset="0.070" stop-color="#5a4e9f"/><stop offset="0.080" stop-color="#5554a3"/><stop offset="0.094" stop-color="#406eb4"/><stop offset="0.101" stop-color="#3a81bd"/><stop offset="0.118" stop-color="#4d9fac"/><stop offset="0.132" stop-color="#60b8a5"/><stop offset="0.171" stop-color="#80c9a7"/><stop offset="0.181" stop-color="#7fc9a7"/><stop offset="0.195" stop-color="#91cfa8"/><stop offset="0.213" stop-color="#94d0a8"/><stop offset="0.244" stop-color="#78c6a6"/><stop offset="0.254" stop-color="#71c3a6"/><stop offset="0.268" stop-color="#59b0a7"/><stop offset="0.293" stop-color="#4595b2"/><stop offset="0.307" stop-color="#4697b1"/><stop offset="0.321" stop-color="#4fa2ab"/><stop offset="0.334" stop-color="#56aba8"/><stop offset="0.345" stop-color="#59afa7"/><stop offset="0.366" stop-color="#4898b0"/><stop offset="0.387" stop-color="#3a82bd"/><stop offset="0.404" stop-color="#3e74b7"/><stop offset="0.418" stop-color="#4b5faa"/><stop offset="0.432" stop-color="#5a4f9f"/><stop offset="0.443" stop-color="#574a98"/><stop offset="0.449" stop-color="#4f448a"/><stop offset="0.456" stop-color="#50448b"/><stop offset="0.463" stop-color="#574a98"/><stop offset="0.477" stop-color="#5951a1"/><stop offset="0.488" stop-color="#3f70b5"/><stop offset="0.498" stop-color="#3b84bc"/><stop offset="0.512" stop-color="#4899b0"/><stop offset="0.530" stop-color="#65bca5"/><stop offset="0.540" stop-color="#76c5a6"/><stop offset="0.554" stop-color="#a0d5ab"/><stop offset="0.561" stop-color="#b5dead"/><stop offset="0.575" stop-color="#eff6b4"/><stop offset="0.578" stop-color="#f8f8b7"/><stop offset="0.582" stop-color="#fef5af"/><stop offset="0.592" stop-color="#fccc7a"/><stop offset="0.603" stop-color="#f8a15b"/><stop offset="0.613" stop-color="#f37846"/><stop offset="0.624" stop-color="#e85e45"/><stop offset="0.638" stop-color="#d7474d"/><stop offset="0.652" stop-color="#cf3c4f"/><stop offset="0.676" stop-color="#db4b4c"/><stop offset="0.686" stop-color="#eb6245"/><stop offset="0.693" stop-color="#f27646"/><stop offset="0.711" stop-color="#fab365"/><stop offset="0.725" stop-color="#fde290"/><stop offset="0.735" stop-color="#feefa4"/><stop offset="0.749" stop-color="#fdf7b3"/><stop offset="0.760" stop-color="#fef5af"/><stop offset="0.767" stop-color="#fcf9b8"/><stop offset="0.787" stop-color="#e9f3b3"/><stop offset="0.798" stop-color="#d0e9af"/><stop offset="0.808" stop-color="#a7d8ac"/><stop offset="0.826" stop-color="#83caa7"/><stop offset="0.836" stop-color="#6dc0a5"/><stop offset="0.850" stop-color="#5db4a6"/><stop offset="0.875" stop-color="#4d9ead"/><stop offset="0.889" stop-color="#4899b0"/><stop offset="0.906" stop-color="#3f8fb6"/><stop offset="0.923" stop-color="#3b85bb"/><stop offset="0.948" stop-color="#3a80bc"/><stop offset="0.958" stop-color="#3d77b8"/><stop offset="0.972" stop-color="#3c7cba"/><stop offset="1.000" stop-color="#406eb4"/></linearGradient><linearGradient id="hr17"><stop offset="0.000" stop-color="#3f71b6"/><stop offset="0.014" stop-color="#4a60ab"/><stop offset="0.028" stop-color="#5a4fa0"/><stop offset="0.066" stop-color="#584c9b"/><stop offset="0.080" stop-color="#5a4fa0"/><stop offset="0.094" stop-color="#436ab1"/><stop offset="0.101" stop-color="#3b7fbc"/><stop offset="0.115" stop-color="#4798b0"/><stop offset="0.132" stop-color="#61b9a5"/><stop offset="0.160" stop-color="#7ac7a6"/><stop offset="0.171" stop-color="#84caa7"/><stop offset="0.181" stop-color="#84caa7"/><stop offset="0.195" stop-color="#96d1a9"/><stop offset="0.213" stop-color="#98d1a9"/><stop offset="0.237" stop-color="#7ec8a6"/><stop offset="0.254" stop-color="#71c2a6"/><stop offset="0.268" stop-color="#58aea7"/><stop offset="0.293" stop-color="#4293b4"/><stop offset="0.303" stop-color="#4191b5"/><stop offset="0.321" stop-color="#4ea1ac"/><stop offset="0.334" stop-color="#55aaa8"/><stop offset="0.345" stop-color="#58aea7"/><stop offset="0.362" stop-color="#4c9dad"/><stop offset="0.376" stop-color="#3e8db7"/><stop offset="0.390" stop-color="#3b7ebb"/><stop offset="0.404" stop-color="#3e74b7"/><stop offset="0.422" stop-color="#4e5ca8"/><stop offset="0.432" stop-color="#5a4e9f"/><stop offset="0.443" stop-color="#574a98"/><stop offset="0.449" stop-color="#4e4287"/><stop offset="0.456" stop-color="#4f4389"/><stop offset="0.463" stop-color="#564997"/><stop offset="0.477" stop-color="#5950a0"/><stop offset="0.488" stop-color="#406fb4"/><stop offset="0.498" stop-color="#3b84bc"/><stop offset="0.512" stop-color="#4797b1"/><stop offset="0.530" stop-color="#63bba5"/><stop offset="0.540" stop-color="#75c4a6"/><stop offset="0.554" stop-color="#9cd4aa"/><stop offset="0.561" stop-color="#b0dcad"/><stop offset="0.578" stop-color="#f2f7b5"/><stop offset="0.582" stop-color="#fcf9b8"/><stop offset="0.589" stop-color="#fde698"/><stop offset="0.603" stop-color="#f9ae62"/><stop offset="0.613" stop-color="#f5854d"/><stop offset="0.624" stop-color="#f06d43"/><stop offset="0.631" stop-color="#e55946"/><stop offset="0.648" stop-color="#d8484d"/><stop offset="0.672" stop-color="#de504b"/><stop offset="0.679" stop-color="#e65a46"/><stop offset="0.690" stop-color="#f37a47"/><stop offset="0.704" stop-color="#f8a55d"/><stop offset="0.714" stop-color="#fcc775"/><stop offset="0.721" stop-color="#fde190"/><stop offset="0.728" stop-color="#feefa5"/><stop offset="0.742" stop-color="#fdf9b7"/><stop offset="0.763" stop-color="#faf8b7"/><stop offset="0.787" stop-color="#e1f0b1"/><stop offset="0.798" stop-color="#cce7af"/><stop offset="0.808" stop-color="#a4d7ac"/><stop offset="0.826" stop-color="#82c9a7"/><stop offset="0.836" stop-color="#6cc0a5"/><stop offset="0.850" stop-color="#5cb4a6"/><stop offset="0.875" stop-color="#4c9dad"/><stop offset="0.889" stop-color="#4899b0"/><stop offset="0.906" stop-color="#3f8eb6"/><stop offset="0.927" stop-color="#3b86bb"/><stop offset="0.948" stop-color="#3a83bd"/><stop offset="0.962" stop-color="#3c7ab9"/><stop offset="0.972" stop-color="#3b7ebb"/><stop offset="1.000" stop-color="#3f71b6"/></linearGradient><linearGradient id="hr18"><stop offset="0.000" stop-color="#426cb2"/><stop offset="0.010" stop-color="#4d5da9"/><stop offset="0.028" stop-color="#594e9e"/><stop offset="0.059" stop-color="#574a97"/><stop offset="0.084" stop-color="#5852a2"/><stop offset="0.094" stop-color="#4568b0"/><stop offset="0.101" stop-color="#3b7ebb"/><stop offset="0.111" stop-color="#4293b4"/><stop offset="0.129" stop-color="#5eb5a6"/><stop offset="0.160" stop-color="#7cc7a6"/><stop offset="0.167" stop-color="#88cba7"/><stop offset="0.181" stop-color="#8acca7"/><stop offset="0.195" stop-color="#9bd3aa"/><stop offset="0.213" stop-color="#9cd4aa"/><stop offset="0.233" stop-color="#86cba7"/><stop offset="0.244" stop-color="#77c6a6"/><stop offset="0.254" stop-color="#70c2a6"/><stop offset="0.268" stop-color="#58ada7"/><stop offset="0.289" stop-color="#4292b4"/><stop offset="0.303" stop-color="#3f8eb6"/><stop offset="0.321" stop-color="#4d9fac"/><stop offset="0.345" stop-color="#58aea7"/><stop offset="0.359" stop-color="#50a3ab"/><stop offset="0.376" stop-color="#3e8db7"/><stop offset="0.390" stop-color="#3b7ebb"/><stop offset="0.404" stop-color="#3e74b7"/><stop offset="0.429" stop-color="#5851a1"/><stop offset="0.443" stop-color="#564996"/><stop offset="0.449" stop-color="#4d4185"/><stop offset="0.456" stop-color="#4d4286"/><stop offset="0.467" stop-color="#574a99"/><stop offset="0.477" stop-color="#5a4fa0"/><stop offset="0.488" stop-color="#416eb4"/><stop offset="0.498" stop-color="#3b83bc"/><stop offset="0.516" stop-color="#4b9cae"/><stop offset="0.530" stop-color="#62baa5"/><stop offset="0.544" stop-color="#7cc7a6"/><stop offset="0.561" stop-color="#aadaac"/><stop offset="0.582" stop-color="#f4f7b6"/><stop offset="0.585" stop-color="#fdf8b6"/><stop offset="0.596" stop-color="#fddc8a"/><stop offset="0.606" stop-color="#f9ad61"/><stop offset="0.613" stop-color="#f69354"/><stop offset="0.631" stop-color="#ee6944"/><stop offset="0.641" stop-color="#e35648"/><stop offset="0.655" stop-color="#df514a"/><stop offset="0.672" stop-color="#e65a46"/><stop offset="0.683" stop-color="#f27445"/><stop offset="0.700" stop-color="#f8a45d"/><stop offset="0.711" stop-color="#fcc775"/><stop offset="0.721" stop-color="#fde99c"/><stop offset="0.728" stop-color="#fef5af"/><stop offset="0.739" stop-color="#fbf9b8"/><stop offset="0.749" stop-color="#f4f7b6"/><stop offset="0.763" stop-color="#f4f7b6"/><stop offset="0.791" stop-color="#d5eaaf"/><stop offset="0.798" stop-color="#c7e5ae"/><stop offset="0.808" stop-color="#a1d6ab"/><stop offset="0.826" stop-color="#7fc9a7"/><stop offset="0.836" stop-color="#6bc0a5"/><stop offset="0.868" stop-color="#4fa2ab"/><stop offset="0.889" stop-color="#4899b0"/><stop offset="0.909" stop-color="#3e8cb7"/><stop offset="0.927" stop-color="#3b86bb"/><stop offset="0.948" stop-color="#3b84bc"/><stop offset="0.962" stop-color="#3c7ab9"/><stop offset="0.976" stop-color="#3c7cba"/><stop offset="1.000" stop-color="#3f71b6"/></linearGradient><linearGradient id="hr19"><stop offset="0.000" stop-color="#436ab1"/><stop offset="0.010" stop-color="#4f5ba8"/><stop offset="0.028" stop-color="#594d9d"/><stop offset="0.049" stop-color="#564997"/><stop offset="0.059" stop-color="#554894"/><stop offset="0.084" stop-color="#5852a2"/><stop offset="0.094" stop-color="#4468b0"/><stop offset="0.101" stop-color="#3b7fbc"/><stop offset="0.111" stop-color="#4394b3"/><stop offset="0.129" stop-color="#5fb7a6"/><stop offset="0.157" stop-color="#78c6a6"/><stop offset="0.167" stop-color="#8dcda8"/><stop offset="0.181" stop-color="#91cfa8"/><stop offset="0.195" stop-color="#a1d6ab"/><stop offset="0.213" stop-color="#a1d6ab"/><stop offset="0.233" stop-color="#88cca7"/><stop offset="0.244" stop-color="#78c6a6"/><stop offset="0.254" stop-color="#70c2a6"/><stop offset="0.265" stop-color="#5cb3a6"/><stop offset="0.289" stop-color="#4090b5"/><stop offset="0.303" stop-color="#3e8cb8"/><stop offset="0.321" stop-color="#4c9ead"/><stop offset="0.345" stop-color="#57ada7"/><stop offset="0.359" stop-color="#50a3ab"/><stop offset="0.376" stop-color="#3f8eb7"/><stop offset="0.390" stop-color="#3b7ebb"/><stop offset="0.404" stop-color="#3e74b7"/><stop offset="0.429" stop-color="#5a4fa0"/><stop offset="0.443" stop-color="#554894"/><stop offset="0.449" stop-color="#4b4083"/><stop offset="0.456" stop-color="#4c4184"/><stop offset="0.467" stop-color="#574a98"/><stop offset="0.477" stop-color="#5a4fa0"/><stop offset="0.488" stop-color="#416db3"/><stop offset="0.498" stop-color="#3b84bc"/><stop offset="0.516" stop-color="#4a9bae"/><stop offset="0.530" stop-color="#60b9a5"/><stop offset="0.544" stop-color="#79c6a6"/><stop offset="0.564" stop-color="#b0dcad"/><stop offset="0.585" stop-color="#f7f8b6"/><stop offset="0.589" stop-color="#fdf7b5"/><stop offset="0.599" stop-color="#fdde8c"/><stop offset="0.610" stop-color="#f9ad60"/><stop offset="0.634" stop-color="#f17044"/><stop offset="0.648" stop-color="#e65b46"/><stop offset="0.659" stop-color="#e95f45"/><stop offset="0.676" stop-color="#f17044"/><stop offset="0.700" stop-color="#fab265"/><stop offset="0.714" stop-color="#fde08e"/><stop offset="0.725" stop-color="#fdf6b2"/><stop offset="0.728" stop-color="#fdf9b8"/><stop offset="0.749" stop-color="#eff6b4"/><stop offset="0.763" stop-color="#eff6b4"/><stop offset="0.794" stop-color="#c9e6af"/><stop offset="0.801" stop-color="#b6dead"/><stop offset="0.812" stop-color="#95d0a9"/><stop offset="0.826" stop-color="#7dc8a6"/><stop offset="0.840" stop-color="#67bda5"/><stop offset="0.871" stop-color="#4d9eac"/><stop offset="0.889" stop-color="#4899b0"/><stop offset="0.913" stop-color="#3d8ab9"/><stop offset="0.948" stop-color="#3b84bc"/><stop offset="0.962" stop-color="#3c79b9"/><stop offset="0.976" stop-color="#3c7bba"/><stop offset="1.000" stop-color="#3f71b6"/></linearGradient><linearGradient id="hr20"><stop offset="0.000" stop-color="#416eb3"/><stop offset="0.014" stop-color="#4f5ba8"/><stop offset="0.028" stop-color="#594e9e"/><stop offset="0.059" stop-color="#574a97"/><stop offset="0.080" stop-color="#5a4fa0"/><stop offset="0.094" stop-color="#426bb2"/><stop offset="0.101" stop-color="#3a81bd"/><stop offset="0.122" stop-color="#54a9a8"/><stop offset="0.132" stop-color="#64bca5"/><stop offset="0.157" stop-color="#7dc8a6"/><stop offset="0.167" stop-color="#93cfa8"/><stop offset="0.181" stop-color="#98d2a9"/><stop offset="0.195" stop-color="#a8d9ac"/><stop offset="0.213" stop-color="#a7d8ac"/><stop offset="0.233" stop-color="#8bcda7"/><stop offset="0.244" stop-color="#7ac7a6"/><stop offset="0.254" stop-color="#71c3a6"/><stop offset="0.265" stop-color="#5cb3a6"/><stop offset="0.289" stop-color="#3f8eb7"/><stop offset="0.303" stop-color="#3d89b9"/><stop offset="0.321" stop-color="#4b9cae"/><stop offset="0.345" stop-color="#57ada8"/><stop offset="0.359" stop-color="#51a4aa"/><stop offset="0.380" stop-color="#3d8bb8"/><stop offset="0.390" stop-color="#3b7ebb"/><stop offset="0.404" stop-color="#3e74b7"/><stop offset="0.429" stop-color="#5a4fa0"/><stop offset="0.439" stop-color="#574b99"/><stop offset="0.449" stop-color="#4a3f80"/><stop offset="0.456" stop-color="#4b4082"/><stop offset="0.467" stop-color="#574a98"/><stop offset="0.477" stop-color="#5a4fa0"/><stop offset="0.488" stop-color="#416eb4"/><stop offset="0.498" stop-color="#3b84bc"/><stop offset="0.516" stop-color="#4a9aaf"/><stop offset="0.533" stop-color="#63bca5"/><stop offset="0.544" stop-color="#77c5a6"/><stop offset="0.564" stop-color="#aadaac"/><stop offset="0.589" stop-color="#f8f8b7"/><stop offset="0.592" stop-color="#fdf8b5"/><stop offset="0.599" stop-color="#feea9d"/><stop offset="0.606" stop-color="#fcca78"/><stop offset="0.613" stop-color="#f9af62"/><stop offset="0.638" stop-color="#f37846"/><stop offset="0.652" stop-color="#ef6943"/><stop offset="0.676" stop-color="#f47f49"/><stop offset="0.697" stop-color="#fab567"/><stop offset="0.711" stop-color="#fde291"/><stop offset="0.721" stop-color="#fdf7b3"/><stop offset="0.728" stop-color="#f7f8b6"/><stop offset="0.749" stop-color="#e9f4b3"/><stop offset="0.760" stop-color="#edf6b4"/><stop offset="0.794" stop-color="#c3e3ae"/><stop offset="0.805" stop-color="#a4d7ac"/><stop offset="0.815" stop-color="#8bcda7"/><stop offset="0.840" stop-color="#66bda5"/><stop offset="0.875" stop-color="#4b9cae"/><stop offset="0.889" stop-color="#4898b0"/><stop offset="0.916" stop-color="#3c88ba"/><stop offset="0.948" stop-color="#3b84bc"/><stop offset="0.962" stop-color="#3d78b8"/><stop offset="0.976" stop-color="#3c7ab9"/><stop offset="1.000" stop-color="#3e72b6"/></linearGradient><linearGradient id="hr21"><stop offset="0.000" stop-color="#3e74b7"/><stop offset="0.024" stop-color="#5356a5"/><stop offset="0.031" stop-color="#594e9f"/><stop offset="0.063" stop-color="#584c9b"/><stop offset="0.077" stop-color="#5a4fa0"/><stop offset="0.091" stop-color="#4567af"/><stop offset="0.101" stop-color="#3b84bc"/><stop offset="0.122" stop-color="#56aba8"/><stop offset="0.129" stop-color="#62bba5"/><stop offset="0.157" stop-color="#83caa7"/><stop offset="0.167" stop-color="#9ad3aa"/><stop offset="0.185" stop-color="#a5d8ac"/><stop offset="0.195" stop-color="#b1dcad"/><stop offset="0.213" stop-color="#aedbad"/><stop offset="0.233" stop-color="#8ecea8"/><stop offset="0.244" stop-color="#7cc7a6"/><stop offset="0.254" stop-color="#73c3a6"/><stop offset="0.265" stop-color="#5db4a6"/><stop offset="0.289" stop-color="#3e8cb7"/><stop offset="0.303" stop-color="#3c87ba"/><stop offset="0.321" stop-color="#4a9aaf"/><stop offset="0.345" stop-color="#57aca8"/><stop offset="0.359" stop-color="#51a5aa"/><stop offset="0.380" stop-color="#3d8bb8"/><stop offset="0.390" stop-color="#3b7ebb"/><stop offset="0.404" stop-color="#3e75b7"/><stop offset="0.429" stop-color="#5a4fa0"/><stop offset="0.439" stop-color="#574a98"/><stop offset="0.449" stop-color="#4a3f7f"/><stop offset="0.456" stop-color="#4a3f81"/><stop offset="0.467" stop-color="#574a98"/><stop offset="0.477" stop-color="#5a4fa0"/><stop offset="0.488" stop-color="#406eb4"/><stop offset="0.498" stop-color="#3b84bc"/><stop offset="0.516" stop-color="#4a9bae"/><stop offset="0.533" stop-color="#62bba5"/><stop offset="0.547" stop-color="#7fc8a7"/><stop offset="0.564" stop-color="#a4d7ac"/><stop offset="0.589" stop-color="#f1f7b5"/><stop offset="0.596" stop-color="#fdf9b8"/><stop offset="0.599" stop-color="#fef4ad"/><stop offset="0.606" stop-color="#fdda88"/><stop offset="0.610" stop-color="#fcc977"/><stop offset="0.620" stop-color="#f9ad61"/><stop offset="0.638" stop-color="#f5864d"/><stop offset="0.652" stop-color="#f37847"/><stop offset="0.676" stop-color="#f58d51"/><stop offset="0.697" stop-color="#fbc271"/><stop offset="0.707" stop-color="#fde595"/><stop offset="0.718" stop-color="#fdf7b4"/><stop offset="0.725" stop-color="#f5f7b6"/><stop offset="0.749" stop-color="#e3f1b2"/><stop offset="0.760" stop-color="#e8f3b3"/><stop offset="0.798" stop-color="#b5dead"/><stop offset="0.812" stop-color="#8ecda8"/><stop offset="0.840" stop-color="#65bda5"/><stop offset="0.875" stop-color="#4b9bae"/><stop offset="0.892" stop-color="#4495b2"/><stop offset="0.930" stop-color="#3c87ba"/><stop offset="0.948" stop-color="#3b84bc"/><stop offset="0.962" stop-color="#3d77b8"/><stop offset="0.976" stop-color="#3d79b9"/><stop offset="1.000" stop-color="#3e73b6"/></linearGradient><linearGradient id="hr22"><stop offset="0.000" stop-color="#3b7ebb"/><stop offset="0.024" stop-color="#4a61ab"/><stop offset="0.035" stop-color="#5554a3"/><stop offset="0.063" stop-color="#5a4fa0"/><stop offset="0.080" stop-color="#4e5ba8"/><stop offset="0.098" stop-color="#3b7fbc"/><stop offset="0.111" stop-color="#4a9aaf"/><stop offset="0.122" stop-color="#58ada7"/><stop offset="0.129" stop-color="#65bda5"/><stop offset="0.153" stop-color="#84caa7"/><stop offset="0.167" stop-color="#a2d6ab"/><stop offset="0.185" stop-color="#b0dcad"/><stop offset="0.195" stop-color="#bbe0ad"/><stop offset="0.213" stop-color="#b5dead"/><stop offset="0.244" stop-color="#7fc8a7"/><stop offset="0.254" stop-color="#74c4a6"/><stop offset="0.265" stop-color="#5db5a6"/><stop offset="0.282" stop-color="#4595b2"/><stop offset="0.293" stop-color="#3c88ba"/><stop offset="0.303" stop-color="#3b85bb"/><stop offset="0.321" stop-color="#4899b0"/><stop offset="0.345" stop-color="#57aca8"/><stop offset="0.359" stop-color="#52a5aa"/><stop offset="0.380" stop-color="#3d8ab8"/><stop offset="0.390" stop-color="#3b7ebb"/><stop offset="0.404" stop-color="#3e75b7"/><stop offset="0.422" stop-color="#5059a7"/><stop offset="0.429" stop-color="#5a4fa0"/><stop offset="0.439" stop-color="#574a98"/><stop offset="0.449" stop-color="#4a3f80"/><stop offset="0.456" stop-color="#4b4081"/><stop offset="0.467" stop-color="#574a98"/><stop offset="0.477" stop-color="#5a4fa0"/><stop offset="0.488" stop-color="#406fb4"/><stop offset="0.498" stop-color="#3b84bc"/><stop offset="0.519" stop-color="#4fa1ab"/><stop offset="0.533" stop-color="#61baa5"/><stop offset="0.547" stop-color="#7cc7a6"/><stop offset="0.564" stop-color="#a0d5ab"/><stop offset="0.589" stop-color="#e9f3b3"/><stop offset="0.599" stop-color="#fdf9b8"/><stop offset="0.603" stop-color="#fef3ab"/><stop offset="0.610" stop-color="#fdd886"/><stop offset="0.617" stop-color="#fbc271"/><stop offset="0.634" stop-color="#f79a58"/><stop offset="0.648" stop-color="#f5884e"/><stop offset="0.659" stop-color="#f58b50"/><stop offset="0.676" stop-color="#f79b58"/><stop offset="0.693" stop-color="#fcc675"/><stop offset="0.707" stop-color="#feefa4"/><stop offset="0.714" stop-color="#fdf8b6"/><stop offset="0.735" stop-color="#e8f3b3"/><stop offset="0.749" stop-color="#deeeb0"/><stop offset="0.760" stop-color="#e3f0b1"/><stop offset="0.798" stop-color="#afdbad"/><stop offset="0.812" stop-color="#8acca7"/><stop offset="0.840" stop-color="#65bda5"/><stop offset="0.875" stop-color="#4a9bae"/><stop offset="0.892" stop-color="#4494b3"/><stop offset="0.930" stop-color="#3c87ba"/><stop offset="0.948" stop-color="#3b84bc"/><stop offset="0.962" stop-color="#3d76b8"/><stop offset="0.976" stop-color="#3d78b8"/><stop offset="1.000" stop-color="#3e74b7"/></linearGradient><linearGradient id="hr23"><stop offset="0.000" stop-color="#3c87ba"/><stop offset="0.017" stop-color="#3d77b8"/><stop offset="0.035" stop-color="#4962ac"/><stop offset="0.056" stop-color="#5356a4"/><stop offset="0.080" stop-color="#4764ae"/><stop offset="0.098" stop-color="#3b84bc"/><stop offset="0.111" stop-color="#4c9dad"/><stop offset="0.122" stop-color="#5ab0a7"/><stop offset="0.129" stop-color="#68bea5"/><stop offset="0.150" stop-color="#86cba7"/><stop offset="0.171" stop-color="#b1dcad"/><stop offset="0.185" stop-color="#bde1ae"/><stop offset="0.195" stop-color="#c5e4ae"/><stop offset="0.213" stop-color="#bee1ae"/><stop offset="0.244" stop-color="#81c9a7"/><stop offset="0.254" stop-color="#76c5a6"/><stop offset="0.265" stop-color="#5eb6a6"/><stop offset="0.282" stop-color="#4596b2"/><stop offset="0.293" stop-color="#3c87ba"/><stop offset="0.303" stop-color="#3b85bc"/><stop offset="0.324" stop-color="#499aaf"/><stop offset="0.341" stop-color="#56aca8"/><stop offset="0.359" stop-color="#52a6aa"/><stop offset="0.380" stop-color="#3d8ab9"/><stop offset="0.390" stop-color="#3b7ebb"/><stop offset="0.404" stop-color="#3e75b7"/><stop offset="0.418" stop-color="#4d5da9"/><stop offset="0.429" stop-color="#5950a0"/><stop offset="0.439" stop-color="#574a99"/><stop offset="0.449" stop-color="#4b4082"/><stop offset="0.456" stop-color="#4c4183"/><stop offset="0.467" stop-color="#574a99"/><stop offset="0.477" stop-color="#5a4fa0"/><stop offset="0.488" stop-color="#3f6fb5"/><stop offset="0.498" stop-color="#3b84bc"/><stop offset="0.523" stop-color="#53a7a9"/><stop offset="0.540" stop-color="#6abfa5"/><stop offset="0.564" stop-color="#9bd3aa"/><stop offset="0.592" stop-color="#e8f3b3"/><stop offset="0.603" stop-color="#fdf8b7"/><stop offset="0.613" stop-color="#fdda88"/><stop offset="0.634" stop-color="#f9a85e"/><stop offset="0.648" stop-color="#f69756"/><stop offset="0.659" stop-color="#f79a58"/><stop offset="0.676" stop-color="#f9aa5f"/><stop offset="0.697" stop-color="#fdde8c"/><stop offset="0.707" stop-color="#fef6b1"/><stop offset="0.711" stop-color="#fcf9b8"/><stop offset="0.732" stop-color="#e3f0b2"/><stop offset="0.749" stop-color="#d7ebb0"/><stop offset="0.760" stop-color="#ddedb0"/><stop offset="0.780" stop-color="#c1e3ae"/><stop offset="0.801" stop-color="#a0d5ab"/><stop offset="0.815" stop-color="#81c9a7"/><stop offset="0.840" stop-color="#65bca5"/><stop offset="0.854" stop-color="#58afa7"/><stop offset="0.878" stop-color="#4a9bae"/><stop offset="0.902" stop-color="#4191b5"/><stop offset="0.927" stop-color="#3c87ba"/><stop offset="0.948" stop-color="#3b84bc"/><stop offset="0.962" stop-color="#3d76b8"/><stop offset="0.976" stop-color="#3d78b8"/><stop offset="1.000" stop-color="#3e74b7"/></linearGradient><linearGradient id="hr24"><stop offset="0.000" stop-color="#4090b5"/><stop offset="0.021" stop-color="#3b80bc"/><stop offset="0.038" stop-color="#3f71b5"/><stop offset="0.056" stop-color="#4863ad"/><stop offset="0.080" stop-color="#406eb4"/><stop offset="0.094" stop-color="#3a81bd"/><stop offset="0.105" stop-color="#4696b1"/><stop offset="0.118" stop-color="#55aaa8"/><stop offset="0.125" stop-color="#64bca5"/><stop offset="0.146" stop-color="#87cba7"/><stop offset="0.171" stop-color="#bce1ae"/><stop offset="0.192" stop-color="#d0e8af"/><stop offset="0.213" stop-color="#c7e5ae"/><stop offset="0.240" stop-color="#89cca7"/><stop offset="0.254" stop-color="#77c5a6"/><stop offset="0.268" stop-color="#59afa7"/><stop offset="0.282" stop-color="#4696b1"/><stop offset="0.289" stop-color="#3d8ab8"/><stop offset="0.303" stop-color="#3b85bb"/><stop offset="0.341" stop-color="#56aca8"/><stop offset="0.359" stop-color="#52a6aa"/><stop offset="0.380" stop-color="#3d8ab9"/><stop offset="0.390" stop-color="#3b7ebb"/><stop offset="0.404" stop-color="#3e74b7"/><stop offset="0.418" stop-color="#4d5da9"/><stop offset="0.432" stop-color="#594e9e"/><stop offset="0.443" stop-color="#554894"/><stop offset="0.449" stop-color="#4d4185"/><stop offset="0.456" stop-color="#4e4287"/><stop offset="0.463" stop-color="#564996"/><stop offset="0.477" stop-color="#5950a1"/><stop offset="0.488" stop-color="#3f70b5"/><stop offset="0.498" stop-color="#3b84bc"/><stop offset="0.526" stop-color="#57aca8"/><stop offset="0.540" stop-color="#68bea5"/><stop offset="0.554" stop-color="#84caa7"/><stop offset="0.564" stop-color="#98d1a9"/><stop offset="0.592" stop-color="#e0efb1"/><stop offset="0.603" stop-color="#f7f8b6"/><stop offset="0.606" stop-color="#fdf7b3"/><stop offset="0.613" stop-color="#fde697"/><stop offset="0.627" stop-color="#fcc977"/><stop offset="0.638" stop-color="#fab164"/><stop offset="0.652" stop-color="#f8a55d"/><stop offset="0.672" stop-color="#fab366"/><stop offset="0.683" stop-color="#fccc7a"/><stop offset="0.693" stop-color="#fde291"/><stop offset="0.704" stop-color="#fef6b1"/><stop offset="0.707" stop-color="#fbf9b7"/><stop offset="0.732" stop-color="#ddedb0"/><stop offset="0.749" stop-color="#d1e9af"/><stop offset="0.760" stop-color="#d6ebb0"/><stop offset="0.777" stop-color="#bce1ae"/><stop offset="0.798" stop-color="#a2d6ab"/><stop offset="0.815" stop-color="#7dc8a6"/><stop offset="0.840" stop-color="#65bca5"/><stop offset="0.850" stop-color="#5db4a6"/><stop offset="0.871" stop-color="#4d9fac"/><stop offset="0.902" stop-color="#4191b5"/><stop offset="0.927" stop-color="#3c87bb"/><stop offset="0.948" stop-color="#3a83bc"/><stop offset="0.962" stop-color="#3d76b8"/><stop offset="0.976" stop-color="#3d78b9"/><stop offset="1.000" stop-color="#3e75b7"/></linearGradient><linearGradient id="hr25"><stop offset="0.000" stop-color="#4899b0"/><stop offset="0.028" stop-color="#3b84bc"/><stop offset="0.056" stop-color="#3f71b5"/><stop offset="0.084" stop-color="#3d79b9"/><stop offset="0.094" stop-color="#3b86bb"/><stop offset="0.115" stop-color="#53a7a9"/><stop offset="0.129" stop-color="#70c2a6"/><stop offset="0.143" stop-color="#86cba7"/><stop offset="0.171" stop-color="#c7e5ae"/><stop offset="0.192" stop-color="#dbedb0"/><stop offset="0.213" stop-color="#d0e8af"/><stop offset="0.237" stop-color="#93d0a8"/><stop offset="0.258" stop-color="#70c2a6"/><stop offset="0.268" stop-color="#59afa7"/><stop offset="0.282" stop-color="#4697b1"/><stop offset="0.293" stop-color="#3c88ba"/><stop offset="0.307" stop-color="#3d89b9"/><stop offset="0.341" stop-color="#56aca8"/><stop offset="0.362" stop-color="#50a2ab"/><stop offset="0.380" stop-color="#3d8ab9"/><stop offset="0.390" stop-color="#3b7ebb"/><stop offset="0.404" stop-color="#3e74b7"/><stop offset="0.418" stop-color="#4d5da9"/><stop offset="0.432" stop-color="#594e9e"/><stop offset="0.443" stop-color="#564996"/><stop offset="0.453" stop-color="#4e4288"/><stop offset="0.467" stop-color="#584b9a"/><stop offset="0.477" stop-color="#5752a2"/><stop offset="0.488" stop-color="#3f71b5"/><stop offset="0.498" stop-color="#3a83bc"/><stop offset="0.530" stop-color="#59b0a7"/><stop offset="0.540" stop-color="#66bda5"/><stop offset="0.554" stop-color="#81c9a7"/><stop offset="0.564" stop-color="#95d0a9"/><stop offset="0.585" stop-color="#cae6af"/><stop offset="0.606" stop-color="#faf8b7"/><stop offset="0.617" stop-color="#feea9e"/><stop offset="0.627" stop-color="#fdd987"/><stop offset="0.634" stop-color="#fcc574"/><stop offset="0.652" stop-color="#fab366"/><stop offset="0.669" stop-color="#fbbe6e"/><stop offset="0.676" stop-color="#fcc775"/><stop offset="0.686" stop-color="#fde292"/><stop offset="0.704" stop-color="#fcf9b8"/><stop offset="0.732" stop-color="#d6ebb0"/><stop offset="0.749" stop-color="#cbe6af"/><stop offset="0.760" stop-color="#cfe8af"/><stop offset="0.777" stop-color="#b4dead"/><stop offset="0.798" stop-color="#9dd4aa"/><stop offset="0.815" stop-color="#7ac7a6"/><stop offset="0.840" stop-color="#64bca5"/><stop offset="0.850" stop-color="#5db4a6"/><stop offset="0.864" stop-color="#51a4aa"/><stop offset="0.899" stop-color="#4090b5"/><stop offset="0.913" stop-color="#3e8cb8"/><stop offset="0.927" stop-color="#3c86bb"/><stop offset="0.948" stop-color="#3a83bd"/><stop offset="0.962" stop-color="#3d77b8"/><stop offset="0.976" stop-color="#3c79b9"/><stop offset="1.000" stop-color="#3e75b7"/></linearGradient><linearGradient id="hr26"><stop offset="0.000" stop-color="#4fa1ac"/><stop offset="0.038" stop-color="#3c88ba"/><stop offset="0.056" stop-color="#3c7aba"/><stop offset="0.073" stop-color="#3c7cba"/><stop offset="0.084" stop-color="#3b7ebb"/><stop offset="0.098" stop-color="#3f8eb6"/><stop offset="0.111" stop-color="#52a5aa"/><stop offset="0.122" stop-color="#62bba5"/><stop offset="0.136" stop-color="#7fc8a7"/><stop offset="0.160" stop-color="#b9dfad"/><stop offset="0.171" stop-color="#d1e9af"/><stop offset="0.192" stop-color="#e4f1b2"/><stop offset="0.213" stop-color="#d9ecb0"/><stop offset="0.223" stop-color="#bce1ae"/><stop offset="0.233" stop-color="#9ed4aa"/><stop offset="0.258" stop-color="#70c2a6"/><stop offset="0.268" stop-color="#59afa7"/><stop offset="0.286" stop-color="#4192b4"/><stop offset="0.296" stop-color="#3d89b9"/><stop offset="0.310" stop-color="#3f8eb7"/><stop offset="0.341" stop-color="#56aba8"/><stop offset="0.362" stop-color="#50a2ab"/><stop offset="0.380" stop-color="#3d8ab9"/><stop offset="0.390" stop-color="#3b7fbc"/><stop offset="0.404" stop-color="#3e74b7"/><stop offset="0.415" stop-color="#4a60ab"/><stop offset="0.432" stop-color="#5a4e9f"/><stop offset="0.446" stop-color="#544792"/><stop offset="0.453" stop-color="#50448c"/><stop offset="0.467" stop-color="#584c9b"/><stop offset="0.477" stop-color="#5653a3"/><stop offset="0.488" stop-color="#3f71b6"/><stop offset="0.498" stop-color="#3a83bd"/><stop offset="0.530" stop-color="#58aea7"/><stop offset="0.544" stop-color="#6cc0a5"/><stop offset="0.564" stop-color="#92cfa8"/><stop offset="0.582" stop-color="#bce1ae"/><stop offset="0.603" stop-color="#e9f3b3"/><stop offset="0.610" stop-color="#faf8b7"/><stop offset="0.624" stop-color="#feeea3"/><stop offset="0.638" stop-color="#fcd07e"/><stop offset="0.655" stop-color="#fbc271"/><stop offset="0.672" stop-color="#fcd17f"/><stop offset="0.690" stop-color="#fef1a8"/><stop offset="0.700" stop-color="#fdf9b8"/><stop offset="0.714" stop-color="#e4f1b2"/><stop offset="0.739" stop-color="#cae6af"/><stop offset="0.749" stop-color="#c5e4ae"/><stop offset="0.760" stop-color="#c9e6af"/><stop offset="0.777" stop-color="#afdbad"/><stop offset="0.791" stop-color="#a3d7ab"/><stop offset="0.805" stop-color="#8dcda8"/><stop offset="0.815" stop-color="#78c6a6"/><stop offset="0.840" stop-color="#64bca5"/><stop offset="0.850" stop-color="#5db4a6"/><stop offset="0.861" stop-color="#52a6a9"/><stop offset="0.902" stop-color="#4090b5"/><stop offset="0.923" stop-color="#3b85bc"/><stop offset="0.948" stop-color="#3a82bd"/><stop offset="0.962" stop-color="#3d78b9"/><stop offset="0.976" stop-color="#3c7aba"/><stop offset="1.000" stop-color="#3e75b7"/></linearGradient><linearGradient id="hr27"><stop offset="0.000" stop-color="#53a6a9"/><stop offset="0.049" stop-color="#3c86bb"/><stop offset="0.059" stop-color="#3a82bd"/><stop offset="0.073" stop-color="#3a81bd"/><stop offset="0.084" stop-color="#3a81bd"/><stop offset="0.098" stop-color="#4090b5"/><stop offset="0.115" stop-color="#57ada8"/><stop offset="0.125" stop-color="#6ec1a6"/><stop offset="0.146" stop-color="#9cd3aa"/><stop offset="0.167" stop-color="#d3eaaf"/><stop offset="0.192" stop-color="#edf6b4"/><stop offset="0.213" stop-color="#e1efb1"/><stop offset="0.220" stop-color="#cfe8af"/><stop offset="0.233" stop-color="#a2d6ab"/><stop offset="0.258" stop-color="#71c2a6"/><stop offset="0.268" stop-color="#5ab0a7"/><stop offset="0.286" stop-color="#4393b3"/><stop offset="0.296" stop-color="#3d8bb8"/><stop offset="0.310" stop-color="#3f8fb6"/><stop offset="0.341" stop-color="#56aba8"/><stop offset="0.362" stop-color="#50a3ab"/><stop offset="0.380" stop-color="#3d8ab9"/><stop offset="0.394" stop-color="#3b7dbb"/><stop offset="0.404" stop-color="#3e74b7"/><stop offset="0.415" stop-color="#4a60ab"/><stop offset="0.432" stop-color="#5a4f9f"/><stop offset="0.453" stop-color="#534690"/><stop offset="0.474" stop-color="#5a4fa0"/><stop offset="0.488" stop-color="#3f71b6"/><stop offset="0.498" stop-color="#3a82bd"/><stop offset="0.526" stop-color="#54a8a9"/><stop offset="0.540" stop-color="#63bca5"/><stop offset="0.554" stop-color="#7cc7a6"/><stop offset="0.564" stop-color="#8dcda8"/><stop offset="0.578" stop-color="#aedbad"/><stop offset="0.603" stop-color="#dfefb1"/><stop offset="0.613" stop-color="#f8f8b7"/><stop offset="0.620" stop-color="#fdf9b8"/><stop offset="0.627" stop-color="#fef4ae"/><stop offset="0.638" stop-color="#fde392"/><stop offset="0.655" stop-color="#fdd583"/><stop offset="0.672" stop-color="#fde494"/><stop offset="0.686" stop-color="#fdf6b2"/><stop offset="0.697" stop-color="#faf8b7"/><stop offset="0.714" stop-color="#dbecb0"/><stop offset="0.739" stop-color="#c3e3ae"/><stop offset="0.753" stop-color="#c0e2ae"/><stop offset="0.760" stop-color="#c3e3ae"/><stop offset="0.774" stop-color="#addbac"/><stop offset="0.787" stop-color="#a6d8ac"/><stop offset="0.805" stop-color="#8ccda8"/><stop offset="0.815" stop-color="#77c5a6"/><stop offset="0.840" stop-color="#63bba5"/><stop offset="0.850" stop-color="#5cb3a6"/><stop offset="0.861" stop-color="#52a6aa"/><stop offset="0.902" stop-color="#4091b5"/><stop offset="0.923" stop-color="#3b84bc"/><stop offset="0.948" stop-color="#3a81bd"/><stop offset="0.962" stop-color="#3d79b9"/><stop offset="0.976" stop-color="#3c7bba"/><stop offset="1.000" stop-color="#3e75b7"/></linearGradient><linearGradient id="hr28"><stop offset="0.000" stop-color="#56aba8"/><stop offset="0.038" stop-color="#4494b3"/><stop offset="0.056" stop-color="#3c86bb"/><stop offset="0.070" stop-color="#3c87ba"/><stop offset="0.084" stop-color="#3b84bc"/><stop offset="0.098" stop-color="#4292b4"/><stop offset="0.118" stop-color="#5eb6a6"/><stop offset="0.132" stop-color="#81c9a7"/><stop offset="0.146" stop-color="#a0d5ab"/><stop offset="0.164" stop-color="#d2e9af"/><stop offset="0.174" stop-color="#e5f1b2"/><stop offset="0.192" stop-color="#f3f7b5"/><stop offset="0.213" stop-color="#e8f3b3"/><stop offset="0.220" stop-color="#d5eaaf"/><stop offset="0.233" stop-color="#a5d8ac"/><stop offset="0.258" stop-color="#72c3a6"/><stop offset="0.268" stop-color="#5bb1a7"/><stop offset="0.293" stop-color="#3e8db7"/><stop offset="0.310" stop-color="#4091b5"/><stop offset="0.341" stop-color="#56aba8"/><stop offset="0.362" stop-color="#50a3ab"/><stop offset="0.380" stop-color="#3d8ab8"/><stop offset="0.394" stop-color="#3b7dbb"/><stop offset="0.404" stop-color="#3e74b7"/><stop offset="0.415" stop-color="#4b5fab"/><stop offset="0.429" stop-color="#5554a3"/><stop offset="0.436" stop-color="#594d9d"/><stop offset="0.453" stop-color="#544893"/><stop offset="0.474" stop-color="#5a4fa0"/><stop offset="0.488" stop-color="#3f71b6"/><stop offset="0.498" stop-color="#3a82bd"/><stop offset="0.519" stop-color="#4ea0ac"/><stop offset="0.540" stop-color="#62bba5"/><stop offset="0.554" stop-color="#78c6a6"/><stop offset="0.564" stop-color="#88cba7"/><stop offset="0.575" stop-color="#a2d6ab"/><stop offset="0.596" stop-color="#c6e4ae"/><stop offset="0.613" stop-color="#eff6b4"/><stop offset="0.631" stop-color="#fdf8b6"/><stop offset="0.641" stop-color="#feefa4"/><stop offset="0.659" stop-color="#fde799"/><stop offset="0.683" stop-color="#fbf9b7"/><stop offset="0.700" stop-color="#edf5b4"/><stop offset="0.711" stop-color="#d4eaaf"/><stop offset="0.739" stop-color="#bbe0ae"/><stop offset="0.753" stop-color="#bae0ad"/><stop offset="0.760" stop-color="#bee1ae"/><stop offset="0.774" stop-color="#aad9ac"/><stop offset="0.787" stop-color="#a5d7ac"/><stop offset="0.805" stop-color="#8bcda7"/><stop offset="0.815" stop-color="#76c5a6"/><stop offset="0.840" stop-color="#61baa5"/><stop offset="0.850" stop-color="#5bb2a7"/><stop offset="0.861" stop-color="#51a5aa"/><stop offset="0.892" stop-color="#4596b2"/><stop offset="0.913" stop-color="#3e8cb8"/><stop offset="0.923" stop-color="#3b84bc"/><stop offset="0.948" stop-color="#3a80bc"/><stop offset="0.965" stop-color="#3c7ab9"/><stop offset="0.979" stop-color="#3c79b9"/><stop offset="1.000" stop-color="#3e75b7"/></linearGradient><linearGradient id="hr29"><stop offset="0.000" stop-color="#59afa7"/><stop offset="0.042" stop-color="#4595b2"/><stop offset="0.056" stop-color="#3d8ab9"/><stop offset="0.070" stop-color="#3d8ab9"/><stop offset="0.084" stop-color="#3b86bb"/><stop offset="0.098" stop-color="#4394b3"/><stop offset="0.118" stop-color="#5fb7a6"/><stop offset="0.136" stop-color="#8bcca7"/><stop offset="0.146" stop-color="#a4d7ac"/><stop offset="0.157" stop-color="#c7e5ae"/><stop offset="0.171" stop-color="#e7f2b2"/><stop offset="0.192" stop-color="#f7f8b7"/><stop offset="0.213" stop-color="#ecf5b4"/><stop offset="0.220" stop-color="#daecb0"/><stop offset="0.233" stop-color="#a9d9ac"/><stop offset="0.258" stop-color="#74c4a6"/><stop offset="0.268" stop-color="#5cb3a6"/><stop offset="0.293" stop-color="#3f8fb6"/><stop offset="0.310" stop-color="#4292b4"/><stop offset="0.341" stop-color="#56aca8"/><stop offset="0.362" stop-color="#50a3ab"/><stop offset="0.380" stop-color="#3d8bb8"/><stop offset="0.394" stop-color="#3b7dbb"/><stop offset="0.404" stop-color="#3e74b7"/><stop offset="0.415" stop-color="#4b5fab"/><stop offset="0.429" stop-color="#5555a4"/><stop offset="0.432" stop-color="#5a4fa0"/><stop offset="0.453" stop-color="#564996"/><stop offset="0.474" stop-color="#5950a1"/><stop offset="0.488" stop-color="#3f72b6"/><stop offset="0.498" stop-color="#3a82bd"/><stop offset="0.519" stop-color="#4ea0ac"/><stop offset="0.544" stop-color="#67bda5"/><stop offset="0.554" stop-color="#76c5a6"/><stop offset="0.564" stop-color="#83caa7"/><stop offset="0.575" stop-color="#9cd4aa"/><stop offset="0.592" stop-color="#b6dead"/><stop offset="0.613" stop-color="#e4f1b2"/><stop offset="0.631" stop-color="#f4f7b6"/><stop offset="0.641" stop-color="#fdf8b5"/><stop offset="0.659" stop-color="#fef4ad"/><stop offset="0.672" stop-color="#fcf9b8"/><stop offset="0.700" stop-color="#e2f0b1"/><stop offset="0.711" stop-color="#cae6af"/><stop offset="0.735" stop-color="#b5dead"/><stop offset="0.753" stop-color="#b5dead"/><stop offset="0.763" stop-color="#b7dfad"/><stop offset="0.774" stop-color="#a6d8ac"/><stop offset="0.787" stop-color="#a3d7ab"/><stop offset="0.805" stop-color="#8acca7"/><stop offset="0.815" stop-color="#75c4a6"/><stop offset="0.840" stop-color="#61b9a5"/><stop offset="0.850" stop-color="#5ab1a7"/><stop offset="0.861" stop-color="#51a4aa"/><stop offset="0.913" stop-color="#3e8db7"/><stop offset="0.923" stop-color="#3b85bc"/><stop offset="0.944" stop-color="#3a81bd"/><stop offset="0.965" stop-color="#3c7ab9"/><stop offset="0.979" stop-color="#3d79b9"/><stop offset="1.000" stop-color="#3e75b7"/></linearGradient><linearGradient id="hr30"><stop offset="0.000" stop-color="#5cb3a6"/><stop offset="0.042" stop-color="#4697b1"/><stop offset="0.056" stop-color="#3e8bb8"/><stop offset="0.073" stop-color="#3d8ab9"/><stop offset="0.084" stop-color="#3c87ba"/><stop offset="0.098" stop-color="#4495b2"/><stop offset="0.118" stop-color="#60b8a5"/><stop offset="0.136" stop-color="#8dcda8"/><stop offset="0.146" stop-color="#a7d8ac"/><stop offset="0.157" stop-color="#cbe6af"/><stop offset="0.171" stop-color="#ebf5b3"/><stop offset="0.192" stop-color="#fbf9b7"/><stop offset="0.213" stop-color="#eff6b4"/><stop offset="0.220" stop-color="#ddeeb0"/><stop offset="0.233" stop-color="#addbac"/><stop offset="0.258" stop-color="#75c5a6"/><stop offset="0.268" stop-color="#5db4a6"/><stop offset="0.293" stop-color="#4292b4"/><stop offset="0.310" stop-color="#4495b2"/><stop offset="0.341" stop-color="#57aca8"/><stop offset="0.366" stop-color="#4d9fac"/><stop offset="0.380" stop-color="#3d8bb8"/><stop offset="0.394" stop-color="#3b7ebb"/><stop offset="0.404" stop-color="#3e74b7"/><stop offset="0.418" stop-color="#4d5da9"/><stop offset="0.429" stop-color="#5455a4"/><stop offset="0.432" stop-color="#5a4fa0"/><stop offset="0.453" stop-color="#564997"/><stop offset="0.474" stop-color="#5851a1"/><stop offset="0.484" stop-color="#4468b0"/><stop offset="0.495" stop-color="#3b7dbb"/><stop offset="0.502" stop-color="#3c87ba"/><stop offset="0.519" stop-color="#4ea0ac"/><stop offset="0.544" stop-color="#65bda5"/><stop offset="0.554" stop-color="#74c4a6"/><stop offset="0.564" stop-color="#7fc8a7"/><stop offset="0.575" stop-color="#98d2a9"/><stop offset="0.592" stop-color="#addbad"/><stop offset="0.613" stop-color="#d9ecb0"/><stop offset="0.627" stop-color="#e2f0b1"/><stop offset="0.638" stop-color="#f3f7b5"/><stop offset="0.659" stop-color="#fbf9b7"/><stop offset="0.679" stop-color="#edf5b4"/><stop offset="0.693" stop-color="#dfefb1"/><stop offset="0.700" stop-color="#d8ebb0"/><stop offset="0.711" stop-color="#c0e2ae"/><stop offset="0.735" stop-color="#addbad"/><stop offset="0.753" stop-color="#b0dcad"/><stop offset="0.763" stop-color="#b3ddad"/><stop offset="0.774" stop-color="#a3d7ab"/><stop offset="0.787" stop-color="#a1d6ab"/><stop offset="0.805" stop-color="#88cba7"/><stop offset="0.815" stop-color="#74c4a6"/><stop offset="0.840" stop-color="#60b9a5"/><stop offset="0.850" stop-color="#5ab0a7"/><stop offset="0.861" stop-color="#50a3ab"/><stop offset="0.913" stop-color="#3f8eb7"/><stop offset="0.927" stop-color="#3b86bb"/><stop offset="0.951" stop-color="#3b7ebb"/><stop offset="0.965" stop-color="#3d79b9"/><stop offset="0.979" stop-color="#3d78b9"/><stop offset="1.000" stop-color="#3e75b7"/></linearGradient><linearGradient id="hr31"><stop offset="0.000" stop-color="#5db5a6"/><stop offset="0.042" stop-color="#4798b0"/><stop offset="0.056" stop-color="#3e8cb8"/><stop offset="0.073" stop-color="#3d8bb8"/><stop offset="0.084" stop-color="#3c88ba"/><stop offset="0.098" stop-color="#4596b2"/><stop offset="0.118" stop-color="#60b8a5"/><stop offset="0.136" stop-color="#8ecea8"/><stop offset="0.146" stop-color="#a8d9ac"/><stop offset="0.157" stop-color="#cde7af"/><stop offset="0.171" stop-color="#eef6b4"/><stop offset="0.195" stop-color="#fcf9b8"/><stop offset="0.213" stop-color="#f0f6b5"/><stop offset="0.220" stop-color="#dfeeb1"/><stop offset="0.233" stop-color="#aedbad"/><stop offset="0.258" stop-color="#77c5a6"/><stop offset="0.268" stop-color="#5eb6a6"/><stop offset="0.293" stop-color="#4494b2"/><stop offset="0.310" stop-color="#4797b1"/><stop offset="0.341" stop-color="#58ada7"/><stop offset="0.366" stop-color="#4d9fac"/><stop offset="0.380" stop-color="#3d8bb8"/><stop offset="0.394" stop-color="#3b7dbb"/><stop offset="0.404" stop-color="#3e74b7"/><stop offset="0.418" stop-color="#4d5da9"/><stop offset="0.429" stop-color="#5555a4"/><stop offset="0.432" stop-color="#5a4fa0"/><stop offset="0.453" stop-color="#574a97"/><stop offset="0.474" stop-color="#5851a1"/><stop offset="0.484" stop-color="#4468b0"/><stop offset="0.495" stop-color="#3b7dbb"/><stop offset="0.502" stop-color="#3c87ba"/><stop offset="0.519" stop-color="#4e9fac"/><stop offset="0.544" stop-color="#64bca5"/><stop offset="0.554" stop-color="#73c3a6"/><stop offset="0.564" stop-color="#7cc8a6"/><stop offset="0.575" stop-color="#95d0a9"/><stop offset="0.596" stop-color="#aedbad"/><stop offset="0.613" stop-color="#d1e9af"/><stop offset="0.627" stop-color="#d8ecb0"/><stop offset="0.641" stop-color="#edf6b4"/><stop offset="0.662" stop-color="#f2f7b5"/><stop offset="0.679" stop-color="#e6f2b2"/><stop offset="0.693" stop-color="#d8ebb0"/><stop offset="0.704" stop-color="#c9e6af"/><stop offset="0.714" stop-color="#b5dead"/><stop offset="0.739" stop-color="#a9d9ac"/><stop offset="0.753" stop-color="#addbac"/><stop offset="0.763" stop-color="#b0dcad"/><stop offset="0.774" stop-color="#a1d6ab"/><stop offset="0.787" stop-color="#9ed5aa"/><stop offset="0.805" stop-color="#85cba7"/><stop offset="0.815" stop-color="#73c3a6"/><stop offset="0.840" stop-color="#60b9a5"/><stop offset="0.850" stop-color="#5ab0a7"/><stop offset="0.861" stop-color="#50a3ab"/><stop offset="0.906" stop-color="#4292b4"/><stop offset="0.927" stop-color="#3c86bb"/><stop offset="0.951" stop-color="#3b7ebb"/><stop offset="0.965" stop-color="#3d78b9"/><stop offset="0.979" stop-color="#3d78b8"/><stop offset="1.000" stop-color="#3e75b7"/></linearGradient><linearGradient id="hr32"><stop offset="0.000" stop-color="#5eb6a6"/><stop offset="0.042" stop-color="#4899b0"/><stop offset="0.056" stop-color="#3e8cb7"/><stop offset="0.073" stop-color="#3d8bb8"/><stop offset="0.084" stop-color="#3d89b9"/><stop offset="0.098" stop-color="#4696b1"/><stop offset="0.118" stop-color="#60b8a6"/><stop offset="0.136" stop-color="#8ecda8"/><stop offset="0.146" stop-color="#a8d9ac"/><stop offset="0.157" stop-color="#cde7af"/><stop offset="0.171" stop-color="#f0f6b4"/><stop offset="0.195" stop-color="#fdf9b8"/><stop offset="0.213" stop-color="#f0f6b5"/><stop offset="0.220" stop-color="#deeeb1"/><stop offset="0.233" stop-color="#aedbad"/><stop offset="0.258" stop-color="#78c6a6"/><stop offset="0.268" stop-color="#5fb7a6"/><stop offset="0.293" stop-color="#4798b0"/><stop offset="0.310" stop-color="#4a9aaf"/><stop offset="0.345" stop-color="#58aea7"/><stop offset="0.366" stop-color="#4d9ead"/><stop offset="0.380" stop-color="#3d8ab8"/><stop offset="0.394" stop-color="#3b7dbb"/><stop offset="0.404" stop-color="#3e74b7"/><stop offset="0.418" stop-color="#4e5ba8"/><stop offset="0.432" stop-color="#5a4fa0"/><stop offset="0.453" stop-color="#564997"/><stop offset="0.474" stop-color="#5851a1"/><stop offset="0.484" stop-color="#4568b0"/><stop offset="0.495" stop-color="#3b7dbb"/><stop offset="0.502" stop-color="#3c87ba"/><stop offset="0.530" stop-color="#56aba8"/><stop offset="0.544" stop-color="#64bca5"/><stop offset="0.554" stop-color="#72c3a6"/><stop offset="0.564" stop-color="#7bc7a6"/><stop offset="0.575" stop-color="#93cfa8"/><stop offset="0.599" stop-color="#afdcad"/><stop offset="0.613" stop-color="#cce7af"/><stop offset="0.627" stop-color="#d2e9af"/><stop offset="0.641" stop-color="#e7f2b2"/><stop offset="0.659" stop-color="#eff6b4"/><stop offset="0.679" stop-color="#e1f0b1"/><stop offset="0.693" stop-color="#d3e9af"/><stop offset="0.704" stop-color="#c4e4ae"/><stop offset="0.714" stop-color="#b1dcad"/><stop offset="0.735" stop-color="#a6d8ac"/><stop offset="0.753" stop-color="#aadaac"/><stop offset="0.763" stop-color="#aedbad"/><stop offset="0.774" stop-color="#9ed4aa"/><stop offset="0.791" stop-color="#97d1a9"/><stop offset="0.815" stop-color="#72c3a6"/><stop offset="0.847" stop-color="#5eb6a6"/><stop offset="0.861" stop-color="#50a3ab"/><stop offset="0.902" stop-color="#4191b4"/><stop offset="0.916" stop-color="#3d8bb8"/><stop offset="0.951" stop-color="#3b7ebb"/><stop offset="0.965" stop-color="#3d78b8"/><stop offset="0.979" stop-color="#3d77b8"/><stop offset="1.000" stop-color="#3e75b7"/></linearGradient><linearGradient id="hr33"><stop offset="0.000" stop-color="#5fb7a6"/><stop offset="0.031" stop-color="#4fa1ab"/><stop offset="0.056" stop-color="#3e8db7"/><stop offset="0.084" stop-color="#3d89b9"/><stop offset="0.098" stop-color="#4696b1"/><stop offset="0.118" stop-color="#5fb7a6"/><stop offset="0.136" stop-color="#8ccda8"/><stop offset="0.146" stop-color="#a6d8ac"/><stop offset="0.160" stop-color="#d6ebb0"/><stop offset="0.171" stop-color="#eff6b4"/><stop offset="0.195" stop-color="#fdf9b8"/><stop offset="0.213" stop-color="#eff6b4"/><stop offset="0.220" stop-color="#ddedb0"/><stop offset="0.237" stop-color="#a3d7ab"/><stop offset="0.258" stop-color="#79c6a6"/><stop offset="0.268" stop-color="#60b9a5"/><stop offset="0.293" stop-color="#4a9bae"/><stop offset="0.310" stop-color="#4d9ead"/><stop offset="0.345" stop-color="#58afa7"/><stop offset="0.366" stop-color="#4c9dad"/><stop offset="0.380" stop-color="#3d8ab8"/><stop offset="0.390" stop-color="#3b7fbc"/><stop offset="0.404" stop-color="#3e74b7"/><stop offset="0.418" stop-color="#505aa7"/><stop offset="0.432" stop-color="#594e9e"/><stop offset="0.453" stop-color="#554894"/><stop offset="0.474" stop-color="#5851a1"/><stop offset="0.484" stop-color="#4567b0"/><stop offset="0.491" stop-color="#3d78b8"/><stop offset="0.498" stop-color="#3a82bd"/><stop offset="0.530" stop-color="#56aba8"/><stop offset="0.544" stop-color="#63bca5"/><stop offset="0.554" stop-color="#72c3a6"/><stop offset="0.564" stop-color="#7ac7a6"/><stop offset="0.578" stop-color="#95d0a9"/><stop offset="0.603" stop-color="#b0dcad"/><stop offset="0.613" stop-color="#c7e5ae"/><stop offset="0.627" stop-color="#cce7af"/><stop offset="0.641" stop-color="#e0efb1"/><stop offset="0.659" stop-color="#e8f3b3"/><stop offset="0.679" stop-color="#dcedb0"/><stop offset="0.690" stop-color="#cee8af"/><stop offset="0.700" stop-color="#c7e5ae"/><stop offset="0.714" stop-color="#addbad"/><stop offset="0.735" stop-color="#a5d7ac"/><stop offset="0.753" stop-color="#a7d8ac"/><stop offset="0.760" stop-color="#acdbac"/><stop offset="0.777" stop-color="#99d2a9"/><stop offset="0.791" stop-color="#94d0a8"/><stop offset="0.815" stop-color="#71c2a6"/><stop offset="0.847" stop-color="#5eb6a6"/><stop offset="0.861" stop-color="#50a3ab"/><stop offset="0.902" stop-color="#4191b5"/><stop offset="0.916" stop-color="#3d8bb8"/><stop offset="0.948" stop-color="#3a81bc"/><stop offset="0.962" stop-color="#3d75b7"/><stop offset="0.976" stop-color="#3d79b9"/><stop offset="1.000" stop-color="#3e73b7"/></linearGradient><linearGradient id="hr34"><stop offset="0.000" stop-color="#5fb7a6"/><stop offset="0.028" stop-color="#52a5aa"/><stop offset="0.059" stop-color="#3e8cb8"/><stop offset="0.084" stop-color="#3d89b9"/><stop offset="0.098" stop-color="#4596b2"/><stop offset="0.118" stop-color="#5fb6a6"/><stop offset="0.136" stop-color="#8bcda7"/><stop offset="0.146" stop-color="#a3d7ab"/><stop offset="0.167" stop-color="#e6f2b2"/><stop offset="0.174" stop-color="#f0f6b5"/><stop offset="0.195" stop-color="#fbf9b7"/><stop offset="0.213" stop-color="#ebf5b3"/><stop offset="0.223" stop-color="#cde7af"/><stop offset="0.237" stop-color="#a1d6ab"/><stop offset="0.258" stop-color="#79c6a6"/><stop offset="0.268" stop-color="#62baa5"/><stop offset="0.293" stop-color="#4e9fac"/><stop offset="0.310" stop-color="#4fa1ab"/><stop offset="0.334" stop-color="#55aaa8"/><stop offset="0.345" stop-color="#59afa7"/><stop offset="0.366" stop-color="#4c9dad"/><stop offset="0.380" stop-color="#3d8ab8"/><stop offset="0.390" stop-color="#3b7fbc"/><stop offset="0.404" stop-color="#3e73b6"/><stop offset="0.418" stop-color="#5257a5"/><stop offset="0.432" stop-color="#594d9c"/><stop offset="0.449" stop-color="#52468f"/><stop offset="0.474" stop-color="#5851a1"/><stop offset="0.484" stop-color="#4567af"/><stop offset="0.491" stop-color="#3d77b8"/><stop offset="0.502" stop-color="#3c86bb"/><stop offset="0.533" stop-color="#59afa7"/><stop offset="0.554" stop-color="#72c3a6"/><stop offset="0.564" stop-color="#7ac7a6"/><stop offset="0.578" stop-color="#93cfa8"/><stop offset="0.603" stop-color="#abdaac"/><stop offset="0.613" stop-color="#c1e3ae"/><stop offset="0.627" stop-color="#c6e4ae"/><stop offset="0.641" stop-color="#daecb0"/><stop offset="0.659" stop-color="#e1efb1"/><stop offset="0.679" stop-color="#d7ebb0"/><stop offset="0.690" stop-color="#c8e5ae"/><stop offset="0.700" stop-color="#c2e3ae"/><stop offset="0.714" stop-color="#abdaac"/><stop offset="0.735" stop-color="#a3d7ab"/><stop offset="0.753" stop-color="#a4d7ac"/><stop offset="0.763" stop-color="#a7d8ac"/><stop offset="0.777" stop-color="#95d0a9"/><stop offset="0.791" stop-color="#90cea8"/><stop offset="0.815" stop-color="#71c2a6"/><stop offset="0.829" stop-color="#6abfa5"/><stop offset="0.850" stop-color="#5bb1a7"/><stop offset="0.864" stop-color="#4fa1ab"/><stop offset="0.902" stop-color="#4090b5"/><stop offset="0.916" stop-color="#3d8ab9"/><stop offset="0.948" stop-color="#3b7dbb"/><stop offset="0.962" stop-color="#406fb4"/><stop offset="0.976" stop-color="#3e72b6"/><stop offset="0.990" stop-color="#426cb3"/><stop offset="1.000" stop-color="#436ab2"/></linearGradient><linearGradient id="hr35"><stop offset="0.000" stop-color="#60b8a6"/><stop offset="0.028" stop-color="#52a5aa"/><stop offset="0.059" stop-color="#3e8cb8"/><stop offset="0.084" stop-color="#3d89b9"/><stop offset="0.098" stop-color="#4595b2"/><stop offset="0.118" stop-color="#5eb6a6"/><stop offset="0.136" stop-color="#89cca7"/><stop offset="0.150" stop-color="#abdaac"/><stop offset="0.167" stop-color="#e2f0b1"/><stop offset="0.178" stop-color="#eef6b4"/><stop offset="0.195" stop-color="#f7f8b7"/><stop offset="0.213" stop-color="#e7f2b2"/><stop offset="0.240" stop-color="#97d1a9"/><stop offset="0.258" stop-color="#79c6a6"/><stop offset="0.268" stop-color="#63bca5"/><stop offset="0.293" stop-color="#50a3ab"/><stop offset="0.310" stop-color="#51a5aa"/><stop offset="0.324" stop-color="#54a8a9"/><stop offset="0.338" stop-color="#58aea7"/><stop offset="0.348" stop-color="#57ada8"/><stop offset="0.366" stop-color="#4b9cae"/><stop offset="0.380" stop-color="#3d8bb8"/><stop offset="0.390" stop-color="#3b7fbc"/><stop offset="0.404" stop-color="#3e73b6"/><stop offset="0.418" stop-color="#5555a4"/><stop offset="0.429" stop-color="#594d9c"/><stop offset="0.446" stop-color="#4e4388"/><stop offset="0.453" stop-color="#4f4389"/><stop offset="0.460" stop-color="#574a98"/><stop offset="0.474" stop-color="#5950a0"/><stop offset="0.484" stop-color="#4666af"/><stop offset="0.491" stop-color="#3d77b8"/><stop offset="0.502" stop-color="#3b86bb"/><stop offset="0.519" stop-color="#4b9cae"/><stop offset="0.544" stop-color="#64bca5"/><stop offset="0.554" stop-color="#72c3a6"/><stop offset="0.564" stop-color="#79c6a6"/><stop offset="0.578" stop-color="#90cea8"/><stop offset="0.603" stop-color="#a6d8ac"/><stop offset="0.613" stop-color="#bde1ae"/><stop offset="0.627" stop-color="#c2e3ae"/><stop offset="0.641" stop-color="#d6ebb0"/><stop offset="0.659" stop-color="#dbedb0"/><stop offset="0.679" stop-color="#d2e9af"/><stop offset="0.690" stop-color="#c3e3ae"/><stop offset="0.700" stop-color="#bde1ae"/><stop offset="0.714" stop-color="#a9d9ac"/><stop offset="0.735" stop-color="#a3d6ab"/><stop offset="0.753" stop-color="#a1d6ab"/><stop offset="0.763" stop-color="#a3d7ab"/><stop offset="0.777" stop-color="#91cfa8"/><stop offset="0.794" stop-color="#8acca7"/><stop offset="0.815" stop-color="#71c2a6"/><stop offset="0.829" stop-color="#6abfa5"/><stop offset="0.850" stop-color="#5ab1a7"/><stop offset="0.868" stop-color="#4d9fac"/><stop offset="0.913" stop-color="#3e8cb8"/><stop offset="0.927" stop-color="#3a83bd"/><stop offset="0.948" stop-color="#3d78b9"/><stop offset="0.962" stop-color="#4667af"/><stop offset="0.976" stop-color="#4469b1"/><stop offset="0.993" stop-color="#4961ac"/><stop offset="1.000" stop-color="#4b5faa"/></linearGradient><linearGradient id="hr36"><stop offset="0.000" stop-color="#60b8a6"/><stop offset="0.024" stop-color="#55a9a8"/><stop offset="0.059" stop-color="#3e8bb8"/><stop offset="0.084" stop-color="#3c88ba"/><stop offset="0.098" stop-color="#4595b2"/><stop offset="0.118" stop-color="#5eb5a6"/><stop offset="0.136" stop-color="#87cba7"/><stop offset="0.153" stop-color="#b0dcad"/><stop offset="0.167" stop-color="#dbedb0"/><stop offset="0.178" stop-color="#e6f2b2"/><stop offset="0.195" stop-color="#f3f7b5"/><stop offset="0.213" stop-color="#e1efb1"/><stop offset="0.240" stop-color="#94d0a8"/><stop offset="0.258" stop-color="#78c6a6"/><stop offset="0.268" stop-color="#65bca5"/><stop offset="0.293" stop-color="#53a7a9"/><stop offset="0.310" stop-color="#54a8a9"/><stop offset="0.321" stop-color="#56aca8"/><stop offset="0.334" stop-color="#56aba8"/><stop offset="0.345" stop-color="#59afa7"/><stop offset="0.366" stop-color="#4b9cae"/><stop offset="0.380" stop-color="#3e8bb8"/><stop offset="0.390" stop-color="#3b7fbc"/><stop offset="0.404" stop-color="#3e72b6"/><stop offset="0.418" stop-color="#5752a2"/><stop offset="0.429" stop-color="#584b9a"/><stop offset="0.443" stop-color="#4c4083"/><stop offset="0.453" stop-color="#4b4083"/><stop offset="0.463" stop-color="#584b9a"/><stop offset="0.474" stop-color="#5a4fa0"/><stop offset="0.484" stop-color="#4665ae"/><stop offset="0.491" stop-color="#3d76b8"/><stop offset="0.502" stop-color="#3b86bb"/><stop offset="0.519" stop-color="#4a9bae"/><stop offset="0.540" stop-color="#60b8a6"/><stop offset="0.554" stop-color="#71c3a6"/><stop offset="0.564" stop-color="#78c6a6"/><stop offset="0.582" stop-color="#91cfa8"/><stop offset="0.603" stop-color="#a3d7ab"/><stop offset="0.613" stop-color="#b9dfad"/><stop offset="0.627" stop-color="#bfe2ae"/><stop offset="0.641" stop-color="#d3e9af"/><stop offset="0.655" stop-color="#d7ebb0"/><stop offset="0.669" stop-color="#d2e9af"/><stop offset="0.679" stop-color="#cee7af"/><stop offset="0.690" stop-color="#bee1ae"/><stop offset="0.704" stop-color="#b3ddad"/><stop offset="0.718" stop-color="#a6d8ac"/><stop offset="0.753" stop-color="#9fd5ab"/><stop offset="0.763" stop-color="#a0d5ab"/><stop offset="0.777" stop-color="#8fcea8"/><stop offset="0.798" stop-color="#86cba7"/><stop offset="0.815" stop-color="#70c2a6"/><stop offset="0.829" stop-color="#6abfa5"/><stop offset="0.850" stop-color="#59b0a7"/><stop offset="0.875" stop-color="#499aaf"/><stop offset="0.892" stop-color="#4495b2"/><stop offset="0.916" stop-color="#3c87ba"/><stop offset="0.941" stop-color="#3c79b9"/><stop offset="0.955" stop-color="#4567b0"/><stop offset="0.962" stop-color="#4b5eaa"/><stop offset="0.976" stop-color="#4a60ab"/><stop offset="1.000" stop-color="#5555a4"/></linearGradient><linearGradient id="hr37"><stop offset="0.000" stop-color="#60b8a6"/><stop offset="0.024" stop-color="#54a9a8"/><stop offset="0.042" stop-color="#4a9bae"/><stop offset="0.059" stop-color="#3d8bb8"/><stop offset="0.080" stop-color="#3c87bb"/><stop offset="0.094" stop-color="#4090b5"/><stop offset="0.111" stop-color="#56aba8"/><stop offset="0.122" stop-color="#64bca5"/><stop offset="0.157" stop-color="#b2ddad"/><stop offset="0.167" stop-color="#d2e9af"/><stop offset="0.178" stop-color="#dcedb0"/><stop offset="0.195" stop-color="#ecf5b4"/><stop offset="0.213" stop-color="#daecb0"/><stop offset="0.244" stop-color="#8bcda7"/><stop offset="0.258" stop-color="#78c6a6"/><stop offset="0.268" stop-color="#66bda5"/><stop offset="0.296" stop-color="#54a9a8"/><stop offset="0.310" stop-color="#55aba8"/><stop offset="0.321" stop-color="#58aea7"/><stop offset="0.331" stop-color="#55a9a8"/><stop offset="0.345" stop-color="#59afa7"/><stop offset="0.366" stop-color="#4b9cae"/><stop offset="0.383" stop-color="#3c88ba"/><stop offset="0.401" stop-color="#3d77b8"/><stop offset="0.411" stop-color="#4a60ab"/><stop offset="0.418" stop-color="#5851a2"/><stop offset="0.429" stop-color="#574a99"/><stop offset="0.439" stop-color="#4b4082"/><stop offset="0.449" stop-color="#483d7d"/><stop offset="0.456" stop-color="#4e4287"/><stop offset="0.463" stop-color="#584b9a"/><stop offset="0.474" stop-color="#5a4fa0"/><stop offset="0.484" stop-color="#4666ae"/><stop offset="0.491" stop-color="#3d77b8"/><stop offset="0.498" stop-color="#3a82bd"/><stop offset="0.516" stop-color="#4696b1"/><stop offset="0.533" stop-color="#5ab1a7"/><stop offset="0.554" stop-color="#70c2a6"/><stop offset="0.568" stop-color="#7cc7a6"/><stop offset="0.592" stop-color="#98d2a9"/><stop offset="0.603" stop-color="#a0d5ab"/><stop offset="0.613" stop-color="#b6dead"/><stop offset="0.627" stop-color="#bde1ae"/><stop offset="0.641" stop-color="#cfe8af"/><stop offset="0.655" stop-color="#d3e9af"/><stop offset="0.669" stop-color="#cde7af"/><stop offset="0.679" stop-color="#c9e6af"/><stop offset="0.690" stop-color="#b9e0ad"/><stop offset="0.704" stop-color="#afdbad"/><stop offset="0.725" stop-color="#a0d6ab"/><stop offset="0.753" stop-color="#9dd4aa"/><stop offset="0.763" stop-color="#9ed4aa"/><stop offset="0.777" stop-color="#8dcda8"/><stop offset="0.801" stop-color="#80c9a7"/><stop offset="0.812" stop-color="#71c2a6"/><stop offset="0.829" stop-color="#69bea5"/><stop offset="0.854" stop-color="#55aaa8"/><stop offset="0.878" stop-color="#4899b0"/><stop offset="0.892" stop-color="#4495b2"/><stop offset="0.916" stop-color="#3b85bb"/><stop offset="0.948" stop-color="#406eb4"/><stop offset="0.962" stop-color="#5257a5"/><stop offset="0.976" stop-color="#5357a5"/><stop offset="0.990" stop-color="#5a4f9f"/><stop offset="1.000" stop-color="#594e9e"/></linearGradient><linearGradient id="hr38"><stop offset="0.000" stop-color="#60b8a6"/><stop offset="0.024" stop-color="#54a9a8"/><stop offset="0.038" stop-color="#4b9cae"/><stop offset="0.059" stop-color="#3d8bb8"/><stop offset="0.080" stop-color="#3c86bb"/><stop offset="0.094" stop-color="#4090b6"/><stop offset="0.111" stop-color="#55aaa8"/><stop offset="0.122" stop-color="#64bca5"/><stop offset="0.157" stop-color="#a9d9ac"/><stop offset="0.167" stop-color="#c8e5ae"/><stop offset="0.185" stop-color="#d8ebb0"/><stop offset="0.195" stop-color="#e2f0b1"/><stop offset="0.213" stop-color="#d2e9af"/><stop offset="0.244" stop-color="#8acca7"/><stop offset="0.258" stop-color="#78c6a6"/><stop offset="0.268" stop-color="#68bea5"/><stop offset="0.300" stop-color="#55aba8"/><stop offset="0.321" stop-color="#59afa7"/><stop offset="0.331" stop-color="#55aaa8"/><stop offset="0.345" stop-color="#59b0a7"/><stop offset="0.366" stop-color="#4b9cae"/><stop offset="0.387" stop-color="#3b84bc"/><stop offset="0.404" stop-color="#3e72b6"/><stop offset="0.418" stop-color="#5752a2"/><stop offset="0.429" stop-color="#574a99"/><stop offset="0.439" stop-color="#4b4083"/><stop offset="0.449" stop-color="#483d7d"/><stop offset="0.456" stop-color="#4e4287"/><stop offset="0.463" stop-color="#584b9a"/><stop offset="0.474" stop-color="#5a4f9f"/><stop offset="0.484" stop-color="#4666af"/><stop offset="0.491" stop-color="#3d77b8"/><stop offset="0.498" stop-color="#3a83bd"/><stop offset="0.516" stop-color="#4696b1"/><stop offset="0.533" stop-color="#5bb1a7"/><stop offset="0.554" stop-color="#6fc1a6"/><stop offset="0.568" stop-color="#7ac7a6"/><stop offset="0.592" stop-color="#96d1a9"/><stop offset="0.603" stop-color="#9ed4aa"/><stop offset="0.613" stop-color="#b2ddad"/><stop offset="0.627" stop-color="#bae0ad"/><stop offset="0.641" stop-color="#cce7af"/><stop offset="0.655" stop-color="#cee8af"/><stop offset="0.669" stop-color="#c9e6af"/><stop offset="0.676" stop-color="#c9e6af"/><stop offset="0.690" stop-color="#b5dead"/><stop offset="0.718" stop-color="#a2d6ab"/><stop offset="0.735" stop-color="#9fd5ab"/><stop offset="0.753" stop-color="#9bd3aa"/><stop offset="0.763" stop-color="#9cd3aa"/><stop offset="0.777" stop-color="#8bcda7"/><stop offset="0.801" stop-color="#7ec8a6"/><stop offset="0.812" stop-color="#6fc2a6"/><stop offset="0.826" stop-color="#6cc0a5"/><stop offset="0.843" stop-color="#5db4a6"/><stop offset="0.878" stop-color="#4999af"/><stop offset="0.892" stop-color="#4495b2"/><stop offset="0.916" stop-color="#3b84bc"/><stop offset="0.948" stop-color="#436ab1"/><stop offset="0.962" stop-color="#5752a2"/><stop offset="1.000" stop-color="#584b9a"/></linearGradient><linearGradient id="hr39"><stop offset="0.000" stop-color="#60b8a5"/><stop offset="0.024" stop-color="#54a8a9"/><stop offset="0.038" stop-color="#4b9cae"/><stop offset="0.059" stop-color="#3d8ab9"/><stop offset="0.080" stop-color="#3b85bb"/><stop offset="0.094" stop-color="#3f8fb6"/><stop offset="0.108" stop-color="#52a6aa"/><stop offset="0.118" stop-color="#5db4a6"/><stop offset="0.129" stop-color="#73c3a6"/><stop offset="0.157" stop-color="#a1d6ab"/><stop offset="0.167" stop-color="#bde1ae"/><stop offset="0.185" stop-color="#cce7af"/><stop offset="0.195" stop-color="#d6ebb0"/><stop offset="0.213" stop-color="#c9e6af"/><stop offset="0.244" stop-color="#89cca7"/><stop offset="0.254" stop-color="#7fc9a7"/><stop offset="0.268" stop-color="#69bea5"/><stop offset="0.300" stop-color="#58ada7"/><stop offset="0.317" stop-color="#5cb3a6"/><stop offset="0.331" stop-color="#57aca8"/><stop offset="0.345" stop-color="#5ab0a7"/><stop offset="0.366" stop-color="#4a9bae"/><stop offset="0.387" stop-color="#3b84bc"/><stop offset="0.404" stop-color="#3e73b6"/><stop offset="0.422" stop-color="#5a4fa0"/><stop offset="0.432" stop-color="#564996"/><stop offset="0.446" stop-color="#4b4081"/><stop offset="0.453" stop-color="#4b4082"/><stop offset="0.463" stop-color="#584b9a"/><stop offset="0.474" stop-color="#5a4f9f"/><stop offset="0.484" stop-color="#4567af"/><stop offset="0.491" stop-color="#3d78b9"/><stop offset="0.502" stop-color="#3c88ba"/><stop offset="0.516" stop-color="#4697b1"/><stop offset="0.533" stop-color="#5ab1a7"/><stop offset="0.554" stop-color="#6dc1a6"/><stop offset="0.568" stop-color="#78c6a6"/><stop offset="0.592" stop-color="#96d1a9"/><stop offset="0.603" stop-color="#9dd4aa"/><stop offset="0.613" stop-color="#b0dcad"/><stop offset="0.627" stop-color="#b8dfad"/><stop offset="0.641" stop-color="#cae6af"/><stop offset="0.655" stop-color="#cce7af"/><stop offset="0.666" stop-color="#c7e5ae"/><stop offset="0.676" stop-color="#c8e5ae"/><stop offset="0.690" stop-color="#b3ddad"/><stop offset="0.714" stop-color="#a1d6ab"/><stop offset="0.732" stop-color="#9dd4aa"/><stop offset="0.753" stop-color="#9bd3aa"/><stop offset="0.763" stop-color="#9ad3aa"/><stop offset="0.777" stop-color="#8acca7"/><stop offset="0.801" stop-color="#7bc7a6"/><stop offset="0.812" stop-color="#6ec1a6"/><stop offset="0.826" stop-color="#6abfa5"/><stop offset="0.843" stop-color="#5cb4a6"/><stop offset="0.878" stop-color="#499aaf"/><stop offset="0.892" stop-color="#4494b3"/><stop offset="0.916" stop-color="#3a81bd"/><stop offset="0.944" stop-color="#436ab1"/><stop offset="0.958" stop-color="#5851a1"/><stop offset="1.000" stop-color="#574a98"/></linearGradient><linearGradient id="hr40"><stop offset="0.000" stop-color="#60b8a5"/><stop offset="0.024" stop-color="#53a8a9"/><stop offset="0.038" stop-color="#4b9cae"/><stop offset="0.059" stop-color="#3d8ab9"/><stop offset="0.080" stop-color="#3b85bb"/><stop offset="0.094" stop-color="#3f8fb6"/><stop offset="0.108" stop-color="#52a5aa"/><stop offset="0.118" stop-color="#5cb3a6"/><stop offset="0.129" stop-color="#71c3a6"/><stop offset="0.157" stop-color="#9bd3aa"/><stop offset="0.167" stop-color="#b3ddad"/><stop offset="0.185" stop-color="#c0e2ae"/><stop offset="0.195" stop-color="#cbe6af"/><stop offset="0.213" stop-color="#c0e2ae"/><stop offset="0.244" stop-color="#88cca7"/><stop offset="0.254" stop-color="#7fc9a7"/><stop offset="0.268" stop-color="#6abfa5"/><stop offset="0.300" stop-color="#59b0a7"/><stop offset="0.317" stop-color="#5eb5a6"/><stop offset="0.331" stop-color="#58aea7"/><stop offset="0.345" stop-color="#5bb1a7"/><stop offset="0.369" stop-color="#4696b1"/><stop offset="0.390" stop-color="#3b80bc"/><stop offset="0.404" stop-color="#3e74b7"/><stop offset="0.418" stop-color="#5258a6"/><stop offset="0.425" stop-color="#5a4f9f"/><stop offset="0.439" stop-color="#544893"/><stop offset="0.449" stop-color="#4e4287"/><stop offset="0.456" stop-color="#52468f"/><stop offset="0.460" stop-color="#574a98"/><stop offset="0.474" stop-color="#5a4f9f"/><stop offset="0.484" stop-color="#4568b0"/><stop offset="0.495" stop-color="#3b7fbc"/><stop offset="0.516" stop-color="#4798b0"/><stop offset="0.533" stop-color="#5ab0a7"/><stop offset="0.551" stop-color="#6abfa5"/><stop offset="0.568" stop-color="#78c6a6"/><stop offset="0.592" stop-color="#95d0a9"/><stop offset="0.603" stop-color="#9dd4aa"/><stop offset="0.613" stop-color="#afdbad"/><stop offset="0.627" stop-color="#b6dead"/><stop offset="0.641" stop-color="#c8e5ae"/><stop offset="0.655" stop-color="#cae6af"/><stop offset="0.666" stop-color="#c5e4ae"/><stop offset="0.676" stop-color="#c7e5ae"/><stop offset="0.690" stop-color="#b2ddad"/><stop offset="0.714" stop-color="#a0d5ab"/><stop offset="0.732" stop-color="#9cd3aa"/><stop offset="0.753" stop-color="#9ad3aa"/><stop offset="0.763" stop-color="#99d2a9"/><stop offset="0.777" stop-color="#89cca7"/><stop offset="0.801" stop-color="#78c6a6"/><stop offset="0.812" stop-color="#6cc0a5"/><stop offset="0.826" stop-color="#69bfa5"/><stop offset="0.843" stop-color="#5db4a6"/><stop offset="0.878" stop-color="#499aaf"/><stop offset="0.892" stop-color="#4292b4"/><stop offset="0.913" stop-color="#3b7fbc"/><stop offset="0.937" stop-color="#4765ae"/><stop offset="0.951" stop-color="#5555a4"/><stop offset="0.955" stop-color="#5a4fa0"/><stop offset="0.993" stop-color="#554894"/><stop offset="1.000" stop-color="#52468f"/></linearGradient><linearGradient id="hr41"><stop offset="0.000" stop-color="#60b8a6"/><stop offset="0.024" stop-color="#53a7a9"/><stop offset="0.049" stop-color="#4393b3"/><stop offset="0.073" stop-color="#3b84bc"/><stop offset="0.094" stop-color="#3f8eb7"/><stop offset="0.108" stop-color="#51a4aa"/><stop offset="0.118" stop-color="#5ab1a7"/><stop offset="0.129" stop-color="#6fc1a6"/><stop offset="0.153" stop-color="#8fcea8"/><stop offset="0.167" stop-color="#a9d9ac"/><stop offset="0.181" stop-color="#b0dcad"/><stop offset="0.192" stop-color="#bfe2ae"/><stop offset="0.213" stop-color="#b7dfad"/><stop offset="0.244" stop-color="#87cba7"/><stop offset="0.254" stop-color="#7fc8a7"/><stop offset="0.268" stop-color="#6abfa5"/><stop offset="0.300" stop-color="#5bb2a7"/><stop offset="0.317" stop-color="#5fb7a6"/><stop offset="0.331" stop-color="#5ab1a7"/><stop offset="0.341" stop-color="#5db5a6"/><stop offset="0.362" stop-color="#4ea0ac"/><stop offset="0.380" stop-color="#3e8bb8"/><stop offset="0.390" stop-color="#3b7fbc"/><stop offset="0.404" stop-color="#3e74b7"/><stop offset="0.418" stop-color="#4f5ba8"/><stop offset="0.429" stop-color="#5a4e9f"/><stop offset="0.446" stop-color="#544893"/><stop offset="0.453" stop-color="#534690"/><stop offset="0.463" stop-color="#584c9b"/><stop offset="0.474" stop-color="#5a4fa0"/><stop offset="0.488" stop-color="#3e72b6"/><stop offset="0.498" stop-color="#3b84bc"/><stop offset="0.516" stop-color="#4898b0"/><stop offset="0.533" stop-color="#59b0a7"/><stop offset="0.551" stop-color="#69bfa5"/><stop offset="0.568" stop-color="#78c6a6"/><stop offset="0.589" stop-color="#93d0a8"/><stop offset="0.603" stop-color="#9dd4aa"/><stop offset="0.613" stop-color="#aedbad"/><stop offset="0.627" stop-color="#b5dead"/><stop offset="0.641" stop-color="#c5e4ae"/><stop offset="0.655" stop-color="#c7e5ae"/><stop offset="0.666" stop-color="#c4e4ae"/><stop offset="0.676" stop-color="#c5e4ae"/><stop offset="0.690" stop-color="#b1dcad"/><stop offset="0.714" stop-color="#9fd5ab"/><stop offset="0.732" stop-color="#9bd3aa"/><stop offset="0.753" stop-color="#99d2a9"/><stop offset="0.763" stop-color="#97d1a9"/><stop offset="0.777" stop-color="#87cba7"/><stop offset="0.801" stop-color="#76c5a6"/><stop offset="0.812" stop-color="#6abfa5"/><stop offset="0.826" stop-color="#68bea5"/><stop offset="0.875" stop-color="#4a9bae"/><stop offset="0.889" stop-color="#4494b3"/><stop offset="0.906" stop-color="#3a81bd"/><stop offset="0.923" stop-color="#4961ac"/><stop offset="0.948" stop-color="#5a4e9f"/><stop offset="0.965" stop-color="#584b99"/><stop offset="0.979" stop-color="#564997"/><stop offset="1.000" stop-color="#4e4287"/></linearGradient><linearGradient id="hr42"><stop offset="0.000" stop-color="#5fb8a6"/><stop offset="0.024" stop-color="#53a7a9"/><stop offset="0.049" stop-color="#4393b3"/><stop offset="0.077" stop-color="#3a83bc"/><stop offset="0.094" stop-color="#3e8db7"/><stop offset="0.108" stop-color="#50a3ab"/><stop offset="0.118" stop-color="#59b0a7"/><stop offset="0.129" stop-color="#6dc0a5"/><stop offset="0.150" stop-color="#84caa7"/><stop offset="0.167" stop-color="#a1d6ab"/><stop offset="0.181" stop-color="#a6d8ac"/><stop offset="0.192" stop-color="#b4dead"/><stop offset="0.213" stop-color="#afdbad"/><stop offset="0.244" stop-color="#85cba7"/><stop offset="0.254" stop-color="#7ec8a6"/><stop offset="0.265" stop-color="#6dc0a5"/><stop offset="0.296" stop-color="#5eb5a6"/><stop offset="0.317" stop-color="#60b9a5"/><stop offset="0.331" stop-color="#5cb3a6"/><stop offset="0.341" stop-color="#5eb6a6"/><stop offset="0.366" stop-color="#499aaf"/><stop offset="0.387" stop-color="#3a82bd"/><stop offset="0.404" stop-color="#3e74b7"/><stop offset="0.418" stop-color="#4c5ea9"/><stop offset="0.432" stop-color="#5a4e9f"/><stop offset="0.453" stop-color="#564996"/><stop offset="0.474" stop-color="#5a4fa0"/><stop offset="0.488" stop-color="#3e72b6"/><stop offset="0.498" stop-color="#3b84bc"/><stop offset="0.516" stop-color="#4898b0"/><stop offset="0.533" stop-color="#59afa7"/><stop offset="0.551" stop-color="#69bfa5"/><stop offset="0.564" stop-color="#73c4a6"/><stop offset="0.589" stop-color="#93cfa8"/><stop offset="0.603" stop-color="#9dd4aa"/><stop offset="0.613" stop-color="#addbac"/><stop offset="0.624" stop-color="#aedbad"/><stop offset="0.641" stop-color="#c3e3ae"/><stop offset="0.655" stop-color="#c4e4ae"/><stop offset="0.666" stop-color="#c2e3ae"/><stop offset="0.676" stop-color="#c3e3ae"/><stop offset="0.690" stop-color="#b1dcad"/><stop offset="0.714" stop-color="#9ed5aa"/><stop offset="0.732" stop-color="#9ad3aa"/><stop offset="0.753" stop-color="#98d2a9"/><stop offset="0.763" stop-color="#95d0a9"/><stop offset="0.774" stop-color="#86cba7"/><stop offset="0.798" stop-color="#78c6a6"/><stop offset="0.812" stop-color="#68bea5"/><stop offset="0.826" stop-color="#66bda5"/><stop offset="0.854" stop-color="#56aba8"/><stop offset="0.889" stop-color="#4393b3"/><stop offset="0.902" stop-color="#3a82bd"/><stop offset="0.913" stop-color="#3f6fb5"/><stop offset="0.923" stop-color="#4f5ba8"/><stop offset="0.941" stop-color="#594e9f"/><stop offset="0.962" stop-color="#544792"/><stop offset="0.972" stop-color="#574a98"/><stop offset="0.990" stop-color="#4e4287"/><stop offset="1.000" stop-color="#4a3f80"/></linearGradient><linearGradient id="hr43"><stop offset="0.000" stop-color="#5fb7a6"/><stop offset="0.024" stop-color="#53a7a9"/><stop offset="0.049" stop-color="#4393b4"/><stop offset="0.077" stop-color="#3a83bd"/><stop offset="0.094" stop-color="#3e8db7"/><stop offset="0.108" stop-color="#4fa2ab"/><stop offset="0.118" stop-color="#59afa7"/><stop offset="0.129" stop-color="#6bc0a5"/><stop offset="0.150" stop-color="#81c9a7"/><stop offset="0.167" stop-color="#9dd4aa"/><stop offset="0.181" stop-color="#a1d6ab"/><stop offset="0.192" stop-color="#aedbad"/><stop offset="0.213" stop-color="#aadaac"/><stop offset="0.244" stop-color="#84caa7"/><stop offset="0.254" stop-color="#7dc8a6"/><stop offset="0.265" stop-color="#6dc0a5"/><stop offset="0.300" stop-color="#5eb6a6"/><stop offset="0.317" stop-color="#61baa5"/><stop offset="0.328" stop-color="#5cb3a6"/><stop offset="0.341" stop-color="#5fb7a6"/><stop offset="0.366" stop-color="#499aaf"/><stop offset="0.387" stop-color="#3a82bd"/><stop offset="0.404" stop-color="#3e74b7"/><stop offset="0.418" stop-color="#4b5faa"/><stop offset="0.432" stop-color="#5a4fa0"/><stop offset="0.453" stop-color="#574a98"/><stop offset="0.474" stop-color="#5a4fa0"/><stop offset="0.488" stop-color="#3e72b6"/><stop offset="0.498" stop-color="#3b84bc"/><stop offset="0.516" stop-color="#4898b0"/><stop offset="0.533" stop-color="#58aea7"/><stop offset="0.551" stop-color="#69bfa5"/><stop offset="0.564" stop-color="#73c4a6"/><stop offset="0.589" stop-color="#92cfa8"/><stop offset="0.603" stop-color="#9dd4aa"/><stop offset="0.613" stop-color="#abdaac"/><stop offset="0.624" stop-color="#acdbac"/><stop offset="0.638" stop-color="#bfe2ae"/><stop offset="0.655" stop-color="#c3e3ae"/><stop offset="0.666" stop-color="#c1e3ae"/><stop offset="0.676" stop-color="#c1e3ae"/><stop offset="0.690" stop-color="#b0dcad"/><stop offset="0.704" stop-color="#a4d7ac"/><stop offset="0.732" stop-color="#99d2a9"/><stop offset="0.749" stop-color="#95d0a9"/><stop offset="0.760" stop-color="#97d1a9"/><stop offset="0.774" stop-color="#85caa7"/><stop offset="0.798" stop-color="#77c5a6"/><stop offset="0.812" stop-color="#68bea5"/><stop offset="0.826" stop-color="#66bda5"/><stop offset="0.850" stop-color="#59afa7"/><stop offset="0.889" stop-color="#4393b3"/><stop offset="0.906" stop-color="#3b80bc"/><stop offset="0.923" stop-color="#4b5fab"/><stop offset="0.944" stop-color="#5a4e9f"/><stop offset="0.962" stop-color="#554894"/><stop offset="0.972" stop-color="#574a98"/><stop offset="0.986" stop-color="#4d4285"/><stop offset="1.000" stop-color="#483d7c"/></linearGradient><linearGradient id="hr44"><stop offset="0.000" stop-color="#5fb7a6"/><stop offset="0.024" stop-color="#53a7a9"/><stop offset="0.049" stop-color="#4393b4"/><stop offset="0.077" stop-color="#3a83bd"/><stop offset="0.094" stop-color="#3e8db7"/><stop offset="0.108" stop-color="#4fa2ab"/><stop offset="0.118" stop-color="#59afa7"/><stop offset="0.129" stop-color="#6bc0a5"/><stop offset="0.150" stop-color="#81c9a7"/><stop offset="0.167" stop-color="#9dd4aa"/><stop offset="0.181" stop-color="#a1d6ab"/><stop offset="0.192" stop-color="#aedbad"/><stop offset="0.213" stop-color="#aadaac"/><stop offset="0.244" stop-color="#84caa7"/><stop offset="0.254" stop-color="#7dc8a6"/><stop offset="0.265" stop-color="#6dc0a5"/><stop offset="0.300" stop-color="#5eb6a6"/><stop offset="0.317" stop-color="#61baa5"/><stop offset="0.328" stop-color="#5cb3a6"/><stop offset="0.341" stop-color="#5fb7a6"/><stop offset="0.366" stop-color="#499aaf"/><stop offset="0.387" stop-color="#3a82bd"/><stop offset="0.404" stop-color="#3e74b7"/><stop offset="0.418" stop-color="#4b5faa"/><stop offset="0.432" stop-color="#5a4fa0"/><stop offset="0.453" stop-color="#574a98"/><stop offset="0.474" stop-color="#5a4fa0"/><stop offset="0.488" stop-color="#3e72b6"/><stop offset="0.498" stop-color="#3b84bc"/><stop offset="0.516" stop-color="#4898b0"/><stop offset="0.533" stop-color="#58aea7"/><stop offset="0.551" stop-color="#69bfa5"/><stop offset="0.564" stop-color="#73c4a6"/><stop offset="0.589" stop-color="#92cfa8"/><stop offset="0.603" stop-color="#9dd4aa"/><stop offset="0.613" stop-color="#abdaac"/><stop offset="0.624" stop-color="#acdbac"/><stop offset="0.638" stop-color="#bfe2ae"/><stop offset="0.655" stop-color="#c3e3ae"/><stop offset="0.666" stop-color="#c1e3ae"/><stop offset="0.676" stop-color="#c1e3ae"/><stop offset="0.690" stop-color="#b0dcad"/><stop offset="0.704" stop-color="#a4d7ac"/><stop offset="0.732" stop-color="#99d2a9"/><stop offset="0.749" stop-color="#95d0a9"/><stop offset="0.760" stop-color="#97d1a9"/><stop offset="0.774" stop-color="#85caa7"/><stop offset="0.798" stop-color="#77c5a6"/><stop offset="0.812" stop-color="#68bea5"/><stop offset="0.826" stop-color="#66bda5"/><stop offset="0.850" stop-color="#59afa7"/><stop offset="0.889" stop-color="#4393b3"/><stop offset="0.906" stop-color="#3b80bc"/><stop offset="0.923" stop-color="#4b5fab"/><stop offset="0.944" stop-color="#5a4e9f"/><stop offset="0.962" stop-color="#554894"/><stop offset="0.972" stop-color="#574a98"/><stop offset="0.986" stop-color="#4d4285"/><stop offset="1.000" stop-color="#483d7c"/></linearGradient><clipPath id="cphr"><rect x="822.4" y="826.2" width="287.60" height="337.50"/></clipPath><linearGradient id="cbar" x1="0" y1="0" x2="0" y2="1"><stop offset="0.0000" stop-color="#430022"/><stop offset="0.0172" stop-color="#430022"/><stop offset="0.0172" stop-color="#4f0027"/><stop offset="0.0345" stop-color="#4f0027"/><stop offset="0.0345" stop-color="#5d002e"/><stop offset="0.0517" stop-color="#5d002e"/><stop offset="0.0517" stop-color="#6d0036"/><stop offset="0.0690" stop-color="#6d0036"/><stop offset="0.0690" stop-color="#7e003e"/><stop offset="0.0862" stop-color="#7e003e"/><stop offset="0.0862" stop-color="#900045"/><stop offset="0.1034" stop-color="#900045"/><stop offset="0.1034" stop-color="#9c0848"/><stop offset="0.1207" stop-color="#9c0848"/><stop offset="0.1207" stop-color="#a8104b"/><stop offset="0.1379" stop-color="#a8104b"/><stop offset="0.1379" stop-color="#b41d4d"/><stop offset="0.1552" stop-color="#b41d4d"/><stop offset="0.1552" stop-color="#c02a4e"/><stop offset="0.1724" stop-color="#c02a4e"/><stop offset="0.1724" stop-color="#c8344e"/><stop offset="0.1897" stop-color="#c8344e"/><stop offset="0.1897" stop-color="#d03e4f"/><stop offset="0.2069" stop-color="#d03e4f"/><stop offset="0.2069" stop-color="#d6454e"/><stop offset="0.2241" stop-color="#d6454e"/><stop offset="0.2241" stop-color="#db4b4c"/><stop offset="0.2414" stop-color="#db4b4c"/><stop offset="0.2414" stop-color="#e0524a"/><stop offset="0.2586" stop-color="#e0524a"/><stop offset="0.2586" stop-color="#e55947"/><stop offset="0.2759" stop-color="#e55947"/><stop offset="0.2759" stop-color="#eb6344"/><stop offset="0.2931" stop-color="#eb6344"/><stop offset="0.2931" stop-color="#f16f44"/><stop offset="0.3103" stop-color="#f16f44"/><stop offset="0.3103" stop-color="#f37a47"/><stop offset="0.3276" stop-color="#f37a47"/><stop offset="0.3276" stop-color="#f5864d"/><stop offset="0.3448" stop-color="#f5864d"/><stop offset="0.3448" stop-color="#f69153"/><stop offset="0.3621" stop-color="#f69153"/><stop offset="0.3621" stop-color="#f79d59"/><stop offset="0.3793" stop-color="#f79d59"/><stop offset="0.3793" stop-color="#f9a95f"/><stop offset="0.3966" stop-color="#f9a95f"/><stop offset="0.3966" stop-color="#fab668"/><stop offset="0.4138" stop-color="#fab668"/><stop offset="0.4138" stop-color="#fcc473"/><stop offset="0.4310" stop-color="#fcc473"/><stop offset="0.4310" stop-color="#fdd482"/><stop offset="0.4483" stop-color="#fdd482"/><stop offset="0.4483" stop-color="#fde493"/><stop offset="0.4655" stop-color="#fde493"/><stop offset="0.4655" stop-color="#fef0a7"/><stop offset="0.4828" stop-color="#fef0a7"/><stop offset="0.4828" stop-color="#fdf8b7"/><stop offset="0.5000" stop-color="#fdf8b7"/><stop offset="0.5000" stop-color="#f4f7b6"/><stop offset="0.5172" stop-color="#f4f7b6"/><stop offset="0.5172" stop-color="#e8f3b3"/><stop offset="0.5345" stop-color="#e8f3b3"/><stop offset="0.5345" stop-color="#d9ecb0"/><stop offset="0.5517" stop-color="#d9ecb0"/><stop offset="0.5517" stop-color="#cae6af"/><stop offset="0.5690" stop-color="#cae6af"/><stop offset="0.5690" stop-color="#bbe0ad"/><stop offset="0.5862" stop-color="#bbe0ad"/><stop offset="0.5862" stop-color="#abdaac"/><stop offset="0.6034" stop-color="#abdaac"/><stop offset="0.6034" stop-color="#9dd4aa"/><stop offset="0.6207" stop-color="#9dd4aa"/><stop offset="0.6207" stop-color="#8fcea8"/><stop offset="0.6379" stop-color="#8fcea8"/><stop offset="0.6379" stop-color="#80c9a7"/><stop offset="0.6552" stop-color="#80c9a7"/><stop offset="0.6552" stop-color="#73c4a6"/><stop offset="0.6724" stop-color="#73c4a6"/><stop offset="0.6724" stop-color="#68bea5"/><stop offset="0.6897" stop-color="#68bea5"/><stop offset="0.6897" stop-color="#5eb6a6"/><stop offset="0.7069" stop-color="#5eb6a6"/><stop offset="0.7069" stop-color="#56aba8"/><stop offset="0.7241" stop-color="#56aba8"/><stop offset="0.7241" stop-color="#4fa2ab"/><stop offset="0.7414" stop-color="#4fa2ab"/><stop offset="0.7414" stop-color="#4899b0"/><stop offset="0.7586" stop-color="#4899b0"/><stop offset="0.7586" stop-color="#3f8fb6"/><stop offset="0.7759" stop-color="#3f8fb6"/><stop offset="0.7759" stop-color="#3c87ba"/><stop offset="0.7931" stop-color="#3c87ba"/><stop offset="0.7931" stop-color="#3b7dbb"/><stop offset="0.8103" stop-color="#3b7dbb"/><stop offset="0.8103" stop-color="#3e73b6"/><stop offset="0.8276" stop-color="#3e73b6"/><stop offset="0.8276" stop-color="#4567af"/><stop offset="0.8448" stop-color="#4567af"/><stop offset="0.8448" stop-color="#4f5ba8"/><stop offset="0.8621" stop-color="#4f5ba8"/><stop offset="0.8621" stop-color="#5950a1"/><stop offset="0.8793" stop-color="#5950a1"/><stop offset="0.8793" stop-color="#584c9b"/><stop offset="0.8966" stop-color="#584c9b"/><stop offset="0.8966" stop-color="#534690"/><stop offset="0.9138" stop-color="#534690"/><stop offset="0.9138" stop-color="#483e7d"/><stop offset="0.9310" stop-color="#483e7d"/><stop offset="0.9310" stop-color="#40376f"/><stop offset="0.9483" stop-color="#40376f"/><stop offset="0.9483" stop-color="#373163"/><stop offset="0.9655" stop-color="#373163"/><stop offset="0.9655" stop-color="#312c58"/><stop offset="0.9828" stop-color="#312c58"/><stop offset="0.9828" stop-color="#2b274e"/><stop offset="1.0000" stop-color="#2b274e"/></linearGradient></defs>
<rect width="1200" height="1244" fill="#fff"/>
<text x="-0.50" y="19.60" font-size="27.00" font-weight="bold">a</text>
<line x1="30.25" y1="100.35" x2="53.11" y2="113.55" stroke="#111" stroke-width="1.45" stroke-linecap="butt"/>
<line x1="53.11" y1="113.55" x2="53.11" y2="139.95" stroke="#111" stroke-width="1.45" stroke-linecap="butt"/>
<line x1="53.11" y1="139.95" x2="30.25" y2="153.15" stroke="#111" stroke-width="1.45" stroke-linecap="butt"/>
<line x1="30.25" y1="153.15" x2="7.39" y2="139.95" stroke="#111" stroke-width="1.45" stroke-linecap="butt"/>
<line x1="7.39" y1="139.95" x2="7.39" y2="113.55" stroke="#111" stroke-width="1.45" stroke-linecap="butt"/>
<line x1="7.39" y1="113.55" x2="30.25" y2="100.35" stroke="#111" stroke-width="1.45" stroke-linecap="butt"/>
<line x1="11.79" y1="116.55" x2="11.79" y2="136.95" stroke="#111" stroke-width="1.45" stroke-linecap="butt"/>
<line x1="30.65" y1="105.66" x2="48.31" y2="115.86" stroke="#111" stroke-width="1.45" stroke-linecap="butt"/>
<line x1="30.65" y1="147.84" x2="48.31" y2="137.64" stroke="#111" stroke-width="1.45" stroke-linecap="butt"/>
<line x1="182.35" y1="100.35" x2="205.21" y2="113.55" stroke="#111" stroke-width="1.45" stroke-linecap="butt"/>
<line x1="205.21" y1="113.55" x2="205.21" y2="139.95" stroke="#111" stroke-width="1.45" stroke-linecap="butt"/>
<line x1="205.21" y1="139.95" x2="182.35" y2="153.15" stroke="#111" stroke-width="1.45" stroke-linecap="butt"/>
<line x1="182.35" y1="153.15" x2="159.49" y2="139.95" stroke="#111" stroke-width="1.45" stroke-linecap="butt"/>
<line x1="159.49" y1="139.95" x2="159.49" y2="113.55" stroke="#111" stroke-width="1.45" stroke-linecap="butt"/>
<line x1="159.49" y1="113.55" x2="182.35" y2="100.35" stroke="#111" stroke-width="1.45" stroke-linecap="butt"/>
<line x1="163.89" y1="116.55" x2="163.89" y2="136.95" stroke="#111" stroke-width="1.45" stroke-linecap="butt"/>
<line x1="182.75" y1="105.66" x2="200.41" y2="115.86" stroke="#111" stroke-width="1.45" stroke-linecap="butt"/>
<line x1="182.75" y1="147.84" x2="200.41" y2="137.64" stroke="#111" stroke-width="1.45" stroke-linecap="butt"/>
<line x1="53.11" y1="113.55" x2="77.90" y2="105.90" stroke="#111" stroke-width="1.45" stroke-linecap="butt"/>
<line x1="77.90" y1="105.90" x2="93.50" y2="126.60" stroke="#111" stroke-width="1.45" stroke-linecap="butt"/>
<line x1="93.50" y1="126.60" x2="82.98" y2="139.74" stroke="#111" stroke-width="1.45" stroke-linecap="butt"/>
<line x1="53.11" y1="139.95" x2="70.76" y2="143.59" stroke="#111" stroke-width="1.45" stroke-linecap="butt"/>
<line x1="120.00" y1="126.60" x2="131.13" y2="109.20" stroke="#111" stroke-width="1.45" stroke-linecap="butt"/>
<line x1="159.49" y1="113.55" x2="142.28" y2="106.38" stroke="#111" stroke-width="1.45" stroke-linecap="butt"/>
<line x1="120.00" y1="126.60" x2="134.30" y2="147.60" stroke="#111" stroke-width="1.45" stroke-linecap="butt"/>
<line x1="134.30" y1="147.60" x2="159.49" y2="139.95" stroke="#111" stroke-width="1.45" stroke-linecap="butt"/>
<line x1="93.50" y1="126.60" x2="120.00" y2="126.60" stroke="#111" stroke-width="1.45" stroke-linecap="butt"/>
<line x1="95.30" y1="123.00" x2="118.20" y2="123.00" stroke="#111" stroke-width="1.45" stroke-linecap="butt"/>
<line x1="79.92" y1="106.46" x2="85.21" y2="87.43" stroke="#111" stroke-width="1.45" stroke-linecap="butt"/><line x1="75.88" y1="105.34" x2="81.17" y2="86.31" stroke="#111" stroke-width="1.45" stroke-linecap="butt"/>
<line x1="132.30" y1="146.97" x2="127.35" y2="162.66" stroke="#111" stroke-width="1.45" stroke-linecap="butt"/><line x1="136.30" y1="148.23" x2="131.36" y2="163.92" stroke="#111" stroke-width="1.45" stroke-linecap="butt"/>
<text x="78.60" y="150.20" font-size="14.50" text-anchor="middle">N</text>
<text x="78.00" y="163.10" font-size="14.50" text-anchor="middle">H</text>
<text x="134.90" y="108.30" font-size="14.50" text-anchor="middle">N</text>
<text x="134.90" y="95.00" font-size="14.50" text-anchor="middle">H</text>
<text x="85.60" y="83.20" font-size="14.50" text-anchor="middle">O</text>
<text x="126.80" y="176.40" font-size="14.50" text-anchor="middle">O</text>
<line x1="308.65" y1="101.25" x2="331.51" y2="114.45" stroke="#111" stroke-width="1.45" stroke-linecap="butt"/>
<line x1="331.51" y1="114.45" x2="331.51" y2="140.85" stroke="#111" stroke-width="1.45" stroke-linecap="butt"/>
<line x1="331.51" y1="140.85" x2="308.65" y2="154.05" stroke="#111" stroke-width="1.45" stroke-linecap="butt"/>
<line x1="308.65" y1="154.05" x2="285.79" y2="140.85" stroke="#111" stroke-width="1.45" stroke-linecap="butt"/>
<line x1="285.79" y1="140.85" x2="285.79" y2="114.45" stroke="#111" stroke-width="1.45" stroke-linecap="butt"/>
<line x1="285.79" y1="114.45" x2="308.65" y2="101.25" stroke="#111" stroke-width="1.45" stroke-linecap="butt"/>
<line x1="290.19" y1="117.45" x2="290.19" y2="137.85" stroke="#111" stroke-width="1.45" stroke-linecap="butt"/>
<line x1="309.05" y1="106.56" x2="326.71" y2="116.76" stroke="#111" stroke-width="1.45" stroke-linecap="butt"/>
<line x1="309.05" y1="148.74" x2="326.71" y2="138.54" stroke="#111" stroke-width="1.45" stroke-linecap="butt"/>
<line x1="460.75" y1="101.25" x2="483.61" y2="114.45" stroke="#111" stroke-width="1.45" stroke-linecap="butt"/>
<line x1="483.61" y1="114.45" x2="483.61" y2="140.85" stroke="#111" stroke-width="1.45" stroke-linecap="butt"/>
<line x1="483.61" y1="140.85" x2="460.75" y2="154.05" stroke="#111" stroke-width="1.45" stroke-linecap="butt"/>
<line x1="460.75" y1="154.05" x2="437.89" y2="140.85" stroke="#111" stroke-width="1.45" stroke-linecap="butt"/>
<line x1="437.89" y1="140.85" x2="437.89" y2="114.45" stroke="#111" stroke-width="1.45" stroke-linecap="butt"/>
<line x1="437.89" y1="114.45" x2="460.75" y2="101.25" stroke="#111" stroke-width="1.45" stroke-linecap="butt"/>
<line x1="442.29" y1="117.45" x2="442.29" y2="137.85" stroke="#111" stroke-width="1.45" stroke-linecap="butt"/>
<line x1="461.15" y1="106.56" x2="478.81" y2="116.76" stroke="#111" stroke-width="1.45" stroke-linecap="butt"/>
<line x1="461.15" y1="148.74" x2="478.81" y2="138.54" stroke="#111" stroke-width="1.45" stroke-linecap="butt"/>
<line x1="331.51" y1="114.45" x2="356.30" y2="106.80" stroke="#111" stroke-width="1.45" stroke-linecap="butt"/>
<line x1="356.30" y1="106.80" x2="371.90" y2="127.50" stroke="#111" stroke-width="1.45" stroke-linecap="butt"/>
<line x1="371.90" y1="127.50" x2="361.38" y2="140.64" stroke="#111" stroke-width="1.45" stroke-linecap="butt"/>
<line x1="331.51" y1="140.85" x2="349.16" y2="144.49" stroke="#111" stroke-width="1.45" stroke-linecap="butt"/>
<line x1="398.40" y1="127.50" x2="409.53" y2="110.10" stroke="#111" stroke-width="1.45" stroke-linecap="butt"/>
<line x1="437.89" y1="114.45" x2="420.68" y2="107.28" stroke="#111" stroke-width="1.45" stroke-linecap="butt"/>
<line x1="398.40" y1="127.50" x2="412.70" y2="148.50" stroke="#111" stroke-width="1.45" stroke-linecap="butt"/>
<line x1="412.70" y1="148.50" x2="437.89" y2="140.85" stroke="#111" stroke-width="1.45" stroke-linecap="butt"/>
<line x1="371.90" y1="127.50" x2="398.40" y2="127.50" stroke="#111" stroke-width="1.45" stroke-linecap="butt"/>
<line x1="354.45" y1="111.32" x2="367.04" y2="128.03" stroke="#111" stroke-width="1.45" stroke-linecap="butt"/>
<line x1="403.28" y1="127.20" x2="414.76" y2="144.07" stroke="#111" stroke-width="1.45" stroke-linecap="butt"/>
<line x1="356.30" y1="106.80" x2="361.59" y2="87.77" stroke="#111" stroke-width="1.45" stroke-linecap="butt"/>
<line x1="412.70" y1="148.50" x2="407.75" y2="164.19" stroke="#111" stroke-width="1.45" stroke-linecap="butt"/>
<text x="357.00" y="151.10" font-size="14.50" text-anchor="middle">N</text>
<text x="356.40" y="164.00" font-size="14.50" text-anchor="middle">H</text>
<text x="413.30" y="109.20" font-size="14.50" text-anchor="middle">N</text>
<text x="413.30" y="95.90" font-size="14.50" text-anchor="middle">H</text>
<text x="364.00" y="84.10" font-size="14.50" text-anchor="middle">O</text>
<text x="405.20" y="177.30" font-size="14.50" text-anchor="middle">O</text>
<line x1="371.00" y1="71.90" x2="375.60" y2="71.90" stroke="#111" stroke-width="1.45" stroke-linecap="butt"/>
<line x1="414.80" y1="180.00" x2="419.60" y2="180.00" stroke="#111" stroke-width="1.45" stroke-linecap="butt"/>
<line x1="585.65" y1="104.35" x2="608.51" y2="117.55" stroke="#111" stroke-width="1.45" stroke-linecap="butt"/>
<line x1="608.51" y1="117.55" x2="608.51" y2="143.95" stroke="#111" stroke-width="1.45" stroke-linecap="butt"/>
<line x1="608.51" y1="143.95" x2="585.65" y2="157.15" stroke="#111" stroke-width="1.45" stroke-linecap="butt"/>
<line x1="585.65" y1="157.15" x2="562.79" y2="143.95" stroke="#111" stroke-width="1.45" stroke-linecap="butt"/>
<line x1="562.79" y1="143.95" x2="562.79" y2="117.55" stroke="#111" stroke-width="1.45" stroke-linecap="butt"/>
<line x1="562.79" y1="117.55" x2="585.65" y2="104.35" stroke="#111" stroke-width="1.45" stroke-linecap="butt"/>
<line x1="567.19" y1="120.55" x2="567.19" y2="140.95" stroke="#111" stroke-width="1.45" stroke-linecap="butt"/>
<line x1="586.05" y1="109.66" x2="603.71" y2="119.86" stroke="#111" stroke-width="1.45" stroke-linecap="butt"/>
<line x1="586.05" y1="151.84" x2="603.71" y2="141.64" stroke="#111" stroke-width="1.45" stroke-linecap="butt"/>
<line x1="737.75" y1="104.35" x2="760.61" y2="117.55" stroke="#111" stroke-width="1.45" stroke-linecap="butt"/>
<line x1="760.61" y1="117.55" x2="760.61" y2="143.95" stroke="#111" stroke-width="1.45" stroke-linecap="butt"/>
<line x1="760.61" y1="143.95" x2="737.75" y2="157.15" stroke="#111" stroke-width="1.45" stroke-linecap="butt"/>
<line x1="737.75" y1="157.15" x2="714.89" y2="143.95" stroke="#111" stroke-width="1.45" stroke-linecap="butt"/>
<line x1="714.89" y1="143.95" x2="714.89" y2="117.55" stroke="#111" stroke-width="1.45" stroke-linecap="butt"/>
<line x1="714.89" y1="117.55" x2="737.75" y2="104.35" stroke="#111" stroke-width="1.45" stroke-linecap="butt"/>
<line x1="719.29" y1="120.55" x2="719.29" y2="140.95" stroke="#111" stroke-width="1.45" stroke-linecap="butt"/>
<line x1="738.15" y1="109.66" x2="755.81" y2="119.86" stroke="#111" stroke-width="1.45" stroke-linecap="butt"/>
<line x1="738.15" y1="151.84" x2="755.81" y2="141.64" stroke="#111" stroke-width="1.45" stroke-linecap="butt"/>
<line x1="608.51" y1="117.55" x2="633.30" y2="109.90" stroke="#111" stroke-width="1.45" stroke-linecap="butt"/>
<line x1="633.30" y1="109.90" x2="648.90" y2="130.60" stroke="#111" stroke-width="1.45" stroke-linecap="butt"/>
<line x1="648.90" y1="130.60" x2="638.38" y2="143.74" stroke="#111" stroke-width="1.45" stroke-linecap="butt"/>
<line x1="608.51" y1="143.95" x2="626.16" y2="147.59" stroke="#111" stroke-width="1.45" stroke-linecap="butt"/>
<line x1="675.40" y1="130.60" x2="686.53" y2="113.20" stroke="#111" stroke-width="1.45" stroke-linecap="butt"/>
<line x1="714.89" y1="117.55" x2="697.68" y2="110.38" stroke="#111" stroke-width="1.45" stroke-linecap="butt"/>
<line x1="675.40" y1="130.60" x2="689.70" y2="151.60" stroke="#111" stroke-width="1.45" stroke-linecap="butt"/>
<line x1="689.70" y1="151.60" x2="714.89" y2="143.95" stroke="#111" stroke-width="1.45" stroke-linecap="butt"/>
<line x1="648.90" y1="130.60" x2="675.40" y2="130.60" stroke="#111" stroke-width="1.45" stroke-linecap="butt"/>
<line x1="631.45" y1="114.42" x2="644.04" y2="131.13" stroke="#111" stroke-width="1.45" stroke-linecap="butt"/>
<line x1="680.28" y1="130.30" x2="691.76" y2="147.17" stroke="#111" stroke-width="1.45" stroke-linecap="butt"/>
<line x1="633.30" y1="109.90" x2="638.59" y2="90.87" stroke="#111" stroke-width="1.45" stroke-linecap="butt"/>
<line x1="689.70" y1="151.60" x2="684.75" y2="167.29" stroke="#111" stroke-width="1.45" stroke-linecap="butt"/>
<text x="634.00" y="154.20" font-size="14.50" text-anchor="middle">N</text>
<text x="633.40" y="167.10" font-size="14.50" text-anchor="middle">H</text>
<text x="690.30" y="112.30" font-size="14.50" text-anchor="middle">N</text>
<text x="690.30" y="99.00" font-size="14.50" text-anchor="middle">H</text>
<text x="641.00" y="87.20" font-size="14.50" text-anchor="middle">O</text>
<text x="682.20" y="180.40" font-size="14.50" text-anchor="middle">O</text>
<line x1="636.26" y1="77.05" x2="624.25" y2="64.00" stroke="#111" stroke-width="1.45" stroke-linecap="butt"/>
<line x1="624.04" y1="62.11" x2="605.25" y2="64.19" stroke="#111" stroke-width="1.45" stroke-linecap="butt"/><line x1="624.46" y1="65.89" x2="605.66" y2="67.96" stroke="#111" stroke-width="1.45" stroke-linecap="butt"/>
<line x1="624.25" y1="64.00" x2="630.80" y2="44.96" stroke="#111" stroke-width="1.45" stroke-linecap="butt"/>
<text x="598.00" y="71.90" font-size="14.50" text-anchor="middle">O</text>
<text x="633.40" y="42.40" font-size="14.50" text-anchor="middle">O</text>
<line x1="640.90" y1="31.80" x2="645.40" y2="31.80" stroke="#111" stroke-width="1.45" stroke-linecap="butt"/>
<line x1="686.89" y1="180.87" x2="699.00" y2="195.00" stroke="#111" stroke-width="1.45" stroke-linecap="butt"/>
<line x1="699.42" y1="196.85" x2="717.71" y2="192.71" stroke="#111" stroke-width="1.45" stroke-linecap="butt"/><line x1="698.58" y1="193.15" x2="716.87" y2="189.00" stroke="#111" stroke-width="1.45" stroke-linecap="butt"/>
<line x1="699.00" y1="195.00" x2="693.15" y2="212.68" stroke="#111" stroke-width="1.45" stroke-linecap="butt"/>
<text x="724.60" y="194.20" font-size="14.50" text-anchor="middle">O</text>
<text x="690.80" y="224.80" font-size="14.50" text-anchor="middle">O</text>
<line x1="701.30" y1="218.20" x2="705.80" y2="218.20" stroke="#111" stroke-width="1.45" stroke-linecap="butt"/>
<line x1="215.00" y1="127.00" x2="271.00" y2="127.00" stroke="#111" stroke-width="1.2"/><path d="M263.10,122.70 L271.00,127.00 L263.10,131.50" fill="none" stroke="#111" stroke-width="1.2"/>
<line x1="493.80" y1="127.00" x2="549.80" y2="127.00" stroke="#111" stroke-width="1.2"/><path d="M541.90,122.70 L549.80,127.00 L541.90,131.50" fill="none" stroke="#111" stroke-width="1.2"/>
<text x="227.00" y="111.90" font-size="14.20" textLength="24.00" lengthAdjust="spacingAndGlyphs">+2e</text>
<line x1="252.00" y1="104.00" x2="256.20" y2="104.00" stroke="#111" stroke-width="1.1"/>
<text x="497.30" y="110.60" font-size="14.20" textLength="38.50" lengthAdjust="spacingAndGlyphs">+2CO</text>
<text x="536.20" y="113.30" font-size="8.50">2</text>
<text x="52.50" y="284.20" font-size="24.20" textLength="109.50" lengthAdjust="spacingAndGlyphs">indigo (Id)</text>
<text x="367.00" y="283.20" font-size="24.20" textLength="19.80" lengthAdjust="spacingAndGlyphs">Id</text>
<text x="387.20" y="275.20" font-size="13.50" textLength="17.20" lengthAdjust="spacingAndGlyphs">2−</text>
<text x="566.80" y="283.30" font-size="24.20" textLength="79.00" lengthAdjust="spacingAndGlyphs">Id-2CO</text>
<text x="646.60" y="291.60" font-size="12.00" textLength="7.50" lengthAdjust="spacingAndGlyphs">2</text>
<text x="655.00" y="276.00" font-size="12.00" textLength="16.00" lengthAdjust="spacingAndGlyphs">2−</text>
<text x="679.60" y="283.30" font-size="24.20" textLength="75.80" lengthAdjust="spacingAndGlyphs">adduct</text>
<text x="792.50" y="20.40" font-size="27.00" font-weight="bold">b</text>
<path d="M914.70,155.00 C915.42,154.00 917.45,150.57 919.00,149.00 C920.55,147.43 920.50,147.18 924.00,145.60 C927.50,144.02 935.12,141.77 940.00,139.50 C944.88,137.23 949.30,135.03 953.30,132.00 C957.30,128.97 960.88,124.88 964.00,121.30 C967.12,117.72 970.00,113.00 972.00,110.50 C974.00,108.00 974.67,107.35 976.00,106.30 C977.33,105.25 978.33,104.53 980.00,104.20 C981.67,103.87 983.78,104.00 986.00,104.30 C988.22,104.60 989.18,105.35 993.30,106.00 C997.42,106.65 1005.92,107.95 1010.70,108.20 C1015.48,108.45 1019.12,108.03 1022.00,107.50 C1024.88,106.97 1026.33,106.17 1028.00,105.00 C1029.67,103.83 1030.75,102.33 1032.00,100.50 C1033.25,98.67 1034.38,96.50 1035.50,94.00 C1036.62,91.50 1037.70,88.67 1038.70,85.50 C1039.70,82.33 1040.57,78.17 1041.50,75.00 C1042.43,71.83 1043.38,68.67 1044.30,66.50 C1045.22,64.33 1045.97,63.02 1047.00,62.00 C1048.03,60.98 1049.33,60.40 1050.50,60.40 C1051.67,60.40 1052.70,61.15 1054.00,62.00 C1055.30,62.85 1056.30,63.87 1058.30,65.50 C1060.30,67.13 1063.63,69.97 1066.00,71.80 C1068.37,73.63 1070.17,75.13 1072.50,76.50 C1074.83,77.87 1077.17,78.92 1080.00,80.00 C1082.83,81.08 1083.67,82.02 1089.50,83.00 C1095.33,83.98 1106.03,85.23 1115.00,85.90 C1123.97,86.57 1134.97,86.85 1143.30,87.00 C1151.63,87.15 1160.27,86.90 1165.00,86.80 C1169.73,86.70 1170.12,86.60 1171.70,86.40 C1173.28,86.20 1173.95,86.28 1174.50,85.60 C1175.05,84.92 1174.92,82.85 1175.00,82.30" fill="none" stroke="#c4c4c4" stroke-width="1.3" stroke-linejoin="round"/>
<path d="M1175.00,86.00 C1174.88,86.53 1175.05,88.15 1174.30,89.20 C1173.55,90.25 1172.12,91.32 1170.50,92.30 C1168.88,93.28 1169.13,93.69 1164.60,95.10 C1160.07,96.51 1151.57,99.10 1143.30,100.75 C1135.03,102.40 1124.43,103.74 1115.00,105.00 C1105.57,106.26 1094.53,107.43 1086.70,108.30 C1078.87,109.17 1072.45,109.62 1068.00,110.20 C1063.55,110.78 1062.08,111.00 1060.00,111.80 C1057.92,112.60 1056.75,113.55 1055.50,115.00 C1054.25,116.45 1053.42,118.17 1052.50,120.50 C1051.58,122.83 1050.75,126.08 1050.00,129.00 C1049.25,131.92 1048.65,135.03 1048.00,138.00 C1047.35,140.97 1046.83,143.72 1046.10,146.80 C1045.37,149.88 1044.45,153.80 1043.60,156.50 C1042.75,159.20 1041.72,161.68 1041.00,163.00 C1040.28,164.32 1039.93,164.43 1039.30,164.40 C1038.67,164.37 1037.98,163.68 1037.20,162.80 C1036.42,161.92 1036.07,161.20 1034.60,159.10 C1033.13,157.00 1030.83,152.78 1028.40,150.20 C1025.97,147.62 1023.07,145.40 1020.00,143.60 C1016.93,141.80 1012.88,140.28 1010.00,139.40 C1007.12,138.52 1005.48,138.30 1002.70,138.30 C999.92,138.30 996.42,138.62 993.30,139.40 C990.18,140.18 986.72,141.47 984.00,143.00 C981.28,144.53 979.22,146.65 977.00,148.60 C974.78,150.55 973.03,152.93 970.70,154.70 C968.37,156.47 965.23,158.25 963.00,159.20 C960.77,160.15 959.63,160.43 957.30,160.40 C954.97,160.37 951.88,159.70 949.00,159.00 C946.12,158.30 943.72,157.12 940.00,156.20 C936.28,155.28 930.92,153.70 926.70,153.50 C922.48,153.30 916.70,154.75 914.70,155.00" fill="none" stroke="#c4c4c4" stroke-width="1.3" stroke-linejoin="round"/>
<path d="M914.40,154.20 C915.08,152.75 916.90,147.78 918.50,145.50 C920.10,143.22 921.53,142.15 924.00,140.50 C926.47,138.85 928.42,137.20 933.30,135.60 C938.18,134.00 945.52,132.37 953.30,130.90 C961.08,129.43 971.10,128.07 980.00,126.80 C988.90,125.53 998.37,124.37 1006.70,123.30 C1015.03,122.23 1024.37,121.18 1030.00,120.40 C1035.63,119.62 1037.75,119.37 1040.50,118.60 C1043.25,117.83 1044.67,117.15 1046.50,115.80 C1048.33,114.45 1050.00,112.47 1051.50,110.50 C1053.00,108.53 1054.32,106.42 1055.50,104.00 C1056.68,101.58 1057.18,100.55 1058.60,96.00 C1060.02,91.45 1062.15,84.17 1064.00,76.70 C1065.85,69.23 1068.12,57.48 1069.70,51.20 C1071.28,44.92 1072.37,41.95 1073.50,39.00 C1074.63,36.05 1075.48,34.67 1076.50,33.50 C1077.52,32.33 1078.43,32.05 1079.60,32.00 C1080.77,31.95 1082.10,32.37 1083.50,33.20 C1084.90,34.03 1085.58,34.48 1088.00,37.00 C1090.42,39.52 1094.67,44.87 1098.00,48.30 C1101.33,51.73 1105.17,55.38 1108.00,57.60 C1110.83,59.82 1111.47,60.05 1115.00,61.60 C1118.53,63.15 1124.48,65.23 1129.20,66.90 C1133.92,68.57 1138.58,70.32 1143.30,71.60 C1148.02,72.88 1153.30,73.87 1157.50,74.60 C1161.70,75.33 1165.83,75.63 1168.50,76.00 C1171.17,76.37 1172.38,76.38 1173.50,76.80 C1174.62,77.22 1174.92,78.22 1175.20,78.50" fill="none" stroke="#f0466f" stroke-width="1.7" stroke-linejoin="round"/>
<path d="M1175.20,78.50 C1174.75,78.95 1173.87,80.20 1172.50,81.20 C1171.13,82.20 1169.50,83.37 1167.00,84.50 C1164.50,85.63 1163.80,86.00 1157.50,88.00 C1151.20,90.00 1138.65,93.90 1129.20,96.50 C1119.75,99.10 1108.00,101.68 1100.80,103.60 C1093.60,105.52 1089.72,106.68 1086.00,108.00 C1082.28,109.32 1080.67,110.12 1078.50,111.50 C1076.33,112.88 1074.67,114.47 1073.00,116.30 C1071.33,118.13 1070.02,119.72 1068.50,122.50 C1066.98,125.28 1065.37,128.12 1063.90,133.00 C1062.43,137.88 1061.10,143.45 1059.70,151.80 C1058.30,160.15 1056.68,174.15 1055.50,183.10 C1054.32,192.05 1053.47,200.02 1052.60,205.50 C1051.73,210.98 1050.90,213.72 1050.30,216.00 C1049.70,218.28 1049.45,219.28 1049.00,219.20 C1048.55,219.12 1048.10,217.52 1047.60,215.50 C1047.10,213.48 1046.95,211.63 1046.00,207.10 C1045.05,202.57 1043.45,194.03 1041.90,188.30 C1040.35,182.57 1038.62,176.95 1036.70,172.70 C1034.78,168.45 1032.73,165.12 1030.40,162.80 C1028.07,160.48 1025.55,160.18 1022.70,158.80 C1019.85,157.42 1017.08,156.03 1013.30,154.50 C1009.52,152.97 1005.55,150.98 1000.00,149.60 C994.45,148.22 986.67,146.87 980.00,146.20 C973.33,145.53 966.67,145.43 960.00,145.60 C953.33,145.77 945.55,146.47 940.00,147.20 C934.45,147.93 930.97,148.83 926.70,150.00 C922.43,151.17 916.45,153.50 914.40,154.20" fill="none" stroke="#f0466f" stroke-width="1.7" stroke-linejoin="round"/>
<rect x="893.6" y="19.2" width="303.9999999999999" height="216.3" fill="none" stroke="#111" stroke-width="1.5"/>
<line x1="893.60" y1="62.24" x2="905.80" y2="62.24" stroke="#111" stroke-width="1.5"/>
<line x1="893.60" y1="105.50" x2="905.80" y2="105.50" stroke="#111" stroke-width="1.5"/>
<line x1="893.60" y1="148.76" x2="905.80" y2="148.76" stroke="#111" stroke-width="1.5"/>
<line x1="893.60" y1="192.02" x2="905.80" y2="192.02" stroke="#111" stroke-width="1.5"/>
<line x1="924.30" y1="235.50" x2="924.30" y2="223.30" stroke="#111" stroke-width="1.5"/>
<line x1="985.46" y1="235.50" x2="985.46" y2="223.30" stroke="#111" stroke-width="1.5"/>
<line x1="1046.62" y1="235.50" x2="1046.62" y2="223.30" stroke="#111" stroke-width="1.5"/>
<line x1="1107.78" y1="235.50" x2="1107.78" y2="223.30" stroke="#111" stroke-width="1.5"/>
<line x1="1168.94" y1="235.50" x2="1168.94" y2="223.30" stroke="#111" stroke-width="1.5"/>
<text x="885.80" y="24.88" font-size="24.00" text-anchor="end">4</text>
<text x="885.80" y="68.14" font-size="24.00" text-anchor="end">2</text>
<text x="885.80" y="111.40" font-size="24.00" text-anchor="end">0</text>
<text x="885.80" y="154.66" font-size="24.00" text-anchor="end">−2</text>
<text x="885.80" y="197.92" font-size="24.00" text-anchor="end">−4</text>
<text x="885.80" y="241.18" font-size="24.00" text-anchor="end">−6</text>
<text x="940.70" y="263.60" font-size="24.00" text-anchor="end">−2.0</text>
<text x="1001.86" y="263.60" font-size="24.00" text-anchor="end">−1.6</text>
<text x="1063.02" y="263.60" font-size="24.00" text-anchor="end">−1.2</text>
<text x="1124.18" y="263.60" font-size="24.00" text-anchor="end">−0.8</text>
<text x="1185.34" y="263.60" font-size="24.00" text-anchor="end">−0.4</text>
<text x="834.40" y="192.50" font-size="25.00" textLength="129.50" lengthAdjust="spacingAndGlyphs" transform="rotate(-90.00 834.40 192.50)">Current (μA)</text>
<text x="936.00" y="305.30" font-size="24.50" textLength="191.00" lengthAdjust="spacingAndGlyphs">Potential (V vs. Fc</text>
<text x="1128.00" y="298.30" font-size="14.00" textLength="22.00" lengthAdjust="spacingAndGlyphs">0/+</text>
<text x="1150.30" y="305.30" font-size="24.50">)</text>
<text x="1006.30" y="55.00" font-size="22.00" fill="#c8c8c8" textLength="17.50" lengthAdjust="spacingAndGlyphs">N</text>
<text x="1024.00" y="64.00" font-size="14.00" fill="#c8c8c8">2</text>
<text x="1131.30" y="55.00" font-size="22.00" fill="#f0466f" textLength="39.50" lengthAdjust="spacingAndGlyphs">CO</text>
<text x="1170.00" y="64.00" font-size="14.00" fill="#f0466f">2</text>
<text x="-0.50" y="358.40" font-size="27.00" font-weight="bold">c</text>
<line x1="76.50" y1="476.00" x2="62.35" y2="486.60" stroke="#5f5f5f" stroke-width="5.2"/>
<line x1="62.35" y1="486.60" x2="48.20" y2="497.20" stroke="#5f5f5f" stroke-width="5.2"/>
<line x1="48.20" y1="497.20" x2="48.90" y2="512.10" stroke="#5f5f5f" stroke-width="5.2"/>
<line x1="48.90" y1="512.10" x2="49.60" y2="527.00" stroke="#5f5f5f" stroke-width="5.2"/>
<line x1="49.60" y1="527.00" x2="63.75" y2="534.75" stroke="#5f5f5f" stroke-width="5.2"/>
<line x1="63.75" y1="534.75" x2="77.90" y2="542.50" stroke="#5f5f5f" stroke-width="5.2"/>
<line x1="77.90" y1="542.50" x2="91.35" y2="534.00" stroke="#5f5f5f" stroke-width="5.2"/>
<line x1="91.35" y1="534.00" x2="104.80" y2="525.50" stroke="#5f5f5f" stroke-width="5.2"/>
<line x1="104.80" y1="525.50" x2="105.55" y2="509.95" stroke="#5f5f5f" stroke-width="5.2"/>
<line x1="105.55" y1="509.95" x2="106.30" y2="494.40" stroke="#5f5f5f" stroke-width="5.2"/>
<line x1="106.30" y1="494.40" x2="91.40" y2="485.20" stroke="#5f5f5f" stroke-width="5.2"/>
<line x1="91.40" y1="485.20" x2="76.50" y2="476.00" stroke="#5f5f5f" stroke-width="5.2"/>
<line x1="106.30" y1="494.40" x2="123.05" y2="488.55" stroke="#5f5f5f" stroke-width="5.2"/>
<line x1="123.05" y1="488.55" x2="139.80" y2="482.70" stroke="#5f5f5f" stroke-width="5.2"/>
<line x1="139.80" y1="482.70" x2="149.55" y2="496.05" stroke="#5f5f5f" stroke-width="5.2"/>
<line x1="149.55" y1="496.05" x2="159.30" y2="509.40" stroke="#5f5f5f" stroke-width="5.2"/>
<line x1="159.30" y1="509.40" x2="149.55" y2="522.80" stroke="#5f5f5f" stroke-width="5.2"/>
<line x1="149.55" y1="522.80" x2="139.80" y2="536.20" stroke="#2e6fd6" stroke-width="5.2"/>
<line x1="139.80" y1="536.20" x2="122.30" y2="530.85" stroke="#2e6fd6" stroke-width="5.2"/>
<line x1="122.30" y1="530.85" x2="104.80" y2="525.50" stroke="#5f5f5f" stroke-width="5.2"/>
<line x1="159.30" y1="509.40" x2="176.30" y2="511.60" stroke="#5f5f5f" stroke-width="5.2"/>
<line x1="176.30" y1="511.60" x2="193.30" y2="513.80" stroke="#5f5f5f" stroke-width="5.2"/>
<line x1="193.30" y1="513.80" x2="203.05" y2="500.05" stroke="#5f5f5f" stroke-width="5.2"/>
<line x1="203.05" y1="500.05" x2="212.80" y2="486.30" stroke="#2e6fd6" stroke-width="5.2"/>
<line x1="212.80" y1="486.30" x2="228.25" y2="491.75" stroke="#2e6fd6" stroke-width="5.2"/>
<line x1="228.25" y1="491.75" x2="243.70" y2="497.20" stroke="#5f5f5f" stroke-width="5.2"/>
<line x1="243.70" y1="497.20" x2="245.10" y2="511.35" stroke="#5f5f5f" stroke-width="5.2"/>
<line x1="245.10" y1="511.35" x2="246.50" y2="525.50" stroke="#5f5f5f" stroke-width="5.2"/>
<line x1="246.50" y1="525.50" x2="229.50" y2="532.60" stroke="#5f5f5f" stroke-width="5.2"/>
<line x1="229.50" y1="532.60" x2="212.50" y2="539.70" stroke="#5f5f5f" stroke-width="5.2"/>
<line x1="212.50" y1="539.70" x2="202.90" y2="526.75" stroke="#5f5f5f" stroke-width="5.2"/>
<line x1="202.90" y1="526.75" x2="193.30" y2="513.80" stroke="#5f5f5f" stroke-width="5.2"/>
<line x1="243.70" y1="497.20" x2="257.85" y2="487.25" stroke="#5f5f5f" stroke-width="5.2"/>
<line x1="257.85" y1="487.25" x2="272.00" y2="477.30" stroke="#5f5f5f" stroke-width="5.2"/>
<line x1="272.00" y1="477.30" x2="286.90" y2="485.85" stroke="#5f5f5f" stroke-width="5.2"/>
<line x1="286.90" y1="485.85" x2="301.80" y2="494.40" stroke="#5f5f5f" stroke-width="5.2"/>
<line x1="301.80" y1="494.40" x2="303.20" y2="509.95" stroke="#5f5f5f" stroke-width="5.2"/>
<line x1="303.20" y1="509.95" x2="304.60" y2="525.50" stroke="#5f5f5f" stroke-width="5.2"/>
<line x1="304.60" y1="525.50" x2="291.15" y2="535.45" stroke="#5f5f5f" stroke-width="5.2"/>
<line x1="291.15" y1="535.45" x2="277.70" y2="545.40" stroke="#5f5f5f" stroke-width="5.2"/>
<line x1="277.70" y1="545.40" x2="262.10" y2="535.45" stroke="#5f5f5f" stroke-width="5.2"/>
<line x1="262.10" y1="535.45" x2="246.50" y2="525.50" stroke="#5f5f5f" stroke-width="5.2"/>
<line x1="76.50" y1="476.00" x2="75.80" y2="464.65" stroke="#5f5f5f" stroke-width="5.2"/>
<line x1="75.80" y1="464.65" x2="75.10" y2="453.30" stroke="#dcdcdc" stroke-width="5.2"/>
<line x1="48.20" y1="497.20" x2="36.85" y2="490.80" stroke="#5f5f5f" stroke-width="5.2"/>
<line x1="36.85" y1="490.80" x2="25.50" y2="484.40" stroke="#dcdcdc" stroke-width="5.2"/>
<line x1="49.60" y1="527.00" x2="38.25" y2="533.35" stroke="#5f5f5f" stroke-width="5.2"/>
<line x1="38.25" y1="533.35" x2="26.90" y2="539.70" stroke="#dcdcdc" stroke-width="5.2"/>
<line x1="77.90" y1="542.50" x2="79.35" y2="554.55" stroke="#5f5f5f" stroke-width="5.2"/>
<line x1="79.35" y1="554.55" x2="80.80" y2="566.60" stroke="#dcdcdc" stroke-width="5.2"/>
<line x1="139.80" y1="536.20" x2="145.00" y2="545.75" stroke="#2e6fd6" stroke-width="5.2"/>
<line x1="145.00" y1="545.75" x2="150.20" y2="555.30" stroke="#dcdcdc" stroke-width="5.2"/>
<line x1="212.80" y1="486.30" x2="207.40" y2="475.10" stroke="#2e6fd6" stroke-width="5.2"/>
<line x1="207.40" y1="475.10" x2="202.00" y2="463.90" stroke="#dcdcdc" stroke-width="5.2"/>
<line x1="272.00" y1="477.30" x2="272.00" y2="464.55" stroke="#5f5f5f" stroke-width="5.2"/>
<line x1="272.00" y1="464.55" x2="272.00" y2="451.80" stroke="#dcdcdc" stroke-width="5.2"/>
<line x1="301.80" y1="494.40" x2="313.85" y2="487.30" stroke="#5f5f5f" stroke-width="5.2"/>
<line x1="313.85" y1="487.30" x2="325.90" y2="480.20" stroke="#dcdcdc" stroke-width="5.2"/>
<line x1="304.60" y1="525.50" x2="316.65" y2="531.90" stroke="#5f5f5f" stroke-width="5.2"/>
<line x1="316.65" y1="531.90" x2="328.70" y2="538.30" stroke="#dcdcdc" stroke-width="5.2"/>
<line x1="277.70" y1="545.40" x2="278.40" y2="558.85" stroke="#5f5f5f" stroke-width="5.2"/>
<line x1="278.40" y1="558.85" x2="279.10" y2="572.30" stroke="#dcdcdc" stroke-width="5.2"/>
<line x1="139.80" y1="482.70" x2="143.75" y2="468.60" stroke="#5f5f5f" stroke-width="5.2"/>
<line x1="143.75" y1="468.60" x2="147.70" y2="454.50" stroke="#e0531c" stroke-width="5.2"/>
<line x1="147.70" y1="454.50" x2="154.20" y2="440.75" stroke="#e0531c" stroke-width="5.2"/>
<line x1="154.20" y1="440.75" x2="160.70" y2="427.00" stroke="#5f5f5f" stroke-width="5.2"/>
<line x1="160.70" y1="427.00" x2="157.45" y2="413.25" stroke="#5f5f5f" stroke-width="5.2"/>
<line x1="157.45" y1="413.25" x2="154.20" y2="399.50" stroke="#e0531c" stroke-width="5.2"/>
<line x1="160.70" y1="427.00" x2="168.70" y2="431.00" stroke="#5f5f5f" stroke-width="5.2"/>
<line x1="168.70" y1="431.00" x2="176.70" y2="435.00" stroke="#e0531c" stroke-width="5.2"/>
<line x1="212.50" y1="539.70" x2="209.70" y2="556.00" stroke="#5f5f5f" stroke-width="5.2"/>
<line x1="209.70" y1="556.00" x2="206.90" y2="572.30" stroke="#e0531c" stroke-width="5.2"/>
<line x1="206.90" y1="572.30" x2="199.80" y2="584.35" stroke="#e0531c" stroke-width="5.2"/>
<line x1="199.80" y1="584.35" x2="192.70" y2="596.40" stroke="#5f5f5f" stroke-width="5.2"/>
<line x1="192.70" y1="596.40" x2="183.50" y2="590.00" stroke="#5f5f5f" stroke-width="5.2"/>
<line x1="183.50" y1="590.00" x2="174.30" y2="583.60" stroke="#e0531c" stroke-width="5.2"/>
<line x1="192.70" y1="596.40" x2="194.80" y2="610.55" stroke="#5f5f5f" stroke-width="5.2"/>
<line x1="194.80" y1="610.55" x2="196.90" y2="624.70" stroke="#e0531c" stroke-width="5.2"/>
<circle cx="75.10" cy="453.30" r="5.90" fill="url(#gH)"/>
<circle cx="25.50" cy="484.40" r="5.90" fill="url(#gH)"/>
<circle cx="26.90" cy="539.70" r="5.90" fill="url(#gH)"/>
<circle cx="80.80" cy="566.60" r="5.90" fill="url(#gH)"/>
<circle cx="150.20" cy="555.30" r="5.90" fill="url(#gH)"/>
<circle cx="202.00" cy="463.90" r="5.90" fill="url(#gH)"/>
<circle cx="272.00" cy="451.80" r="5.90" fill="url(#gH)"/>
<circle cx="325.90" cy="480.20" r="5.90" fill="url(#gH)"/>
<circle cx="328.70" cy="538.30" r="5.90" fill="url(#gH)"/>
<circle cx="279.10" cy="572.30" r="5.90" fill="url(#gH)"/>
<circle cx="174.30" cy="583.60" r="9.80" fill="url(#gO)"/>
<circle cx="76.50" cy="476.00" r="11.40" fill="url(#gC)"/>
<circle cx="48.20" cy="497.20" r="11.40" fill="url(#gC)"/>
<circle cx="49.60" cy="527.00" r="11.40" fill="url(#gC)"/>
<circle cx="77.90" cy="542.50" r="11.40" fill="url(#gC)"/>
<circle cx="104.80" cy="525.50" r="11.40" fill="url(#gC)"/>
<circle cx="106.30" cy="494.40" r="11.40" fill="url(#gC)"/>
<circle cx="139.80" cy="482.70" r="11.40" fill="url(#gC)"/>
<circle cx="159.30" cy="509.40" r="11.40" fill="url(#gC)"/>
<circle cx="139.80" cy="536.20" r="10.40" fill="url(#gN)"/>
<circle cx="193.30" cy="513.80" r="11.40" fill="url(#gC)"/>
<circle cx="212.80" cy="486.30" r="10.40" fill="url(#gN)"/>
<circle cx="243.70" cy="497.20" r="11.40" fill="url(#gC)"/>
<circle cx="246.50" cy="525.50" r="11.40" fill="url(#gC)"/>
<circle cx="212.50" cy="539.70" r="11.40" fill="url(#gC)"/>
<circle cx="272.00" cy="477.30" r="11.40" fill="url(#gC)"/>
<circle cx="301.80" cy="494.40" r="11.40" fill="url(#gC)"/>
<circle cx="304.60" cy="525.50" r="11.40" fill="url(#gC)"/>
<circle cx="277.70" cy="545.40" r="11.40" fill="url(#gC)"/>
<circle cx="160.70" cy="427.00" r="11.40" fill="url(#gC)"/>
<circle cx="192.70" cy="596.40" r="11.40" fill="url(#gC)"/>
<circle cx="147.70" cy="454.50" r="9.80" fill="url(#gO)"/>
<circle cx="154.20" cy="399.50" r="9.80" fill="url(#gO)"/>
<circle cx="176.70" cy="435.00" r="9.80" fill="url(#gO)"/>
<circle cx="206.90" cy="572.30" r="9.80" fill="url(#gO)"/>
<circle cx="196.90" cy="624.70" r="9.80" fill="url(#gO)"/>
<line x1="137.40" y1="412.20" x2="148.80" y2="415.00" stroke="#333" stroke-width="1.3"/>
<line x1="178.50" y1="422.10" x2="194.10" y2="413.60" stroke="#333" stroke-width="1.3"/>
<line x1="134.60" y1="434.80" x2="145.90" y2="439.10" stroke="#333" stroke-width="1.3"/>
<line x1="208.30" y1="587.90" x2="219.60" y2="595.00" stroke="#333" stroke-width="1.3"/>
<line x1="167.20" y1="606.30" x2="177.10" y2="596.40" stroke="#333" stroke-width="1.3"/>
<line x1="204.00" y1="609.10" x2="219.60" y2="619.00" stroke="#333" stroke-width="1.3"/>
<text x="174.30" y="386.70" font-size="20.50" fill="#5a5a5a" textLength="140.50" lengthAdjust="spacingAndGlyphs">O−C−O: 132.4°</text>
<text x="46.80" y="409.30" font-size="20.50" fill="#5a5a5a" font-style="italic">b</text>
<text x="58.00" y="409.30" font-size="20.50" fill="#5a5a5a" textLength="74.00" lengthAdjust="spacingAndGlyphs">: 1.236Å</text>
<text x="201.20" y="417.80" font-size="20.50" fill="#5a5a5a" font-style="italic">a</text>
<text x="212.50" y="417.80" font-size="20.50" fill="#5a5a5a" textLength="72.50" lengthAdjust="spacingAndGlyphs">: 1.261Å</text>
<text x="46.80" y="440.50" font-size="20.50" fill="#5a5a5a" font-style="italic">c</text>
<text x="56.50" y="440.50" font-size="20.50" fill="#5a5a5a" textLength="72.50" lengthAdjust="spacingAndGlyphs">: 1.487Å</text>
<text x="223.90" y="600.60" font-size="20.50" fill="#5a5a5a" font-style="italic">c′</text>
<text x="237.50" y="600.60" font-size="20.50" fill="#5a5a5a" textLength="74.00" lengthAdjust="spacingAndGlyphs">: 1.486Å</text>
<text x="68.00" y="613.40" font-size="20.50" fill="#5a5a5a" font-style="italic">a′</text>
<text x="83.00" y="613.40" font-size="20.50" fill="#5a5a5a" textLength="73.00" lengthAdjust="spacingAndGlyphs">: 1.260Å</text>
<text x="223.90" y="634.60" font-size="20.50" fill="#5a5a5a" font-style="italic">b′</text>
<text x="240.00" y="634.60" font-size="20.50" fill="#5a5a5a" textLength="74.50" lengthAdjust="spacingAndGlyphs">: 1.237Å</text>
<text x="17.00" y="646.00" font-size="20.50" fill="#5a5a5a" textLength="139.00" lengthAdjust="spacingAndGlyphs">O−C−O: 132.4°</text>
<text x="351.00" y="360.00" font-size="27.00" font-weight="bold">d</text>
<path d="M483.00,421.20 C486.80,420.13 497.97,416.60 505.80,414.80 C513.63,413.00 524.27,411.27 530.00,410.40 C535.73,409.53 536.60,409.57 540.20,409.60 C543.80,409.63 546.65,409.67 551.60,410.60 C556.55,411.53 562.70,411.75 569.90,415.20 C577.10,418.65 586.75,426.07 594.80,431.30 C602.85,436.53 607.18,440.23 618.20,446.60 C629.22,452.97 653.78,465.68 660.90,469.50" fill="none" stroke="#828282" stroke-width="1.4"/>
<path d="M483.00,393.70 C488.92,392.77 506.22,389.53 518.50,388.10 C530.78,386.67 544.83,385.82 556.70,385.10 C568.57,384.38 579.12,383.85 589.70,383.80 C600.28,383.75 612.15,384.38 620.20,384.80 C628.25,385.22 629.53,384.68 638.00,386.30 C646.47,387.92 660.67,391.68 671.00,394.50 C681.33,397.32 691.73,400.68 700.00,403.20 C708.27,405.72 717.17,408.53 720.60,409.60" fill="none" stroke="#f2476f" stroke-width="1.5"/>
<line x1="483.00" y1="402.60" x2="483.00" y2="440.20" stroke="#828282" stroke-width="1.25"/><line x1="479.25" y1="402.60" x2="486.75" y2="402.60" stroke="#828282" stroke-width="1.25"/><line x1="479.25" y1="440.20" x2="486.75" y2="440.20" stroke="#828282" stroke-width="1.25"/>
<circle cx="483.00" cy="421.20" r="4.75" fill="#c0c0c0" stroke="#828282" stroke-width="1.2"/>
<line x1="540.20" y1="383.80" x2="540.20" y2="432.60" stroke="#828282" stroke-width="1.25"/><line x1="536.45" y1="383.80" x2="543.95" y2="383.80" stroke="#828282" stroke-width="1.25"/><line x1="536.45" y1="432.60" x2="543.95" y2="432.60" stroke="#828282" stroke-width="1.25"/>
<circle cx="540.20" cy="408.00" r="4.75" fill="#c0c0c0" stroke="#828282" stroke-width="1.2"/>
<line x1="569.90" y1="393.20" x2="569.90" y2="435.20" stroke="#828282" stroke-width="1.25"/><line x1="566.15" y1="393.20" x2="573.65" y2="393.20" stroke="#828282" stroke-width="1.25"/><line x1="566.15" y1="435.20" x2="573.65" y2="435.20" stroke="#828282" stroke-width="1.25"/><line x1="566.50" y1="414.30" x2="573.30" y2="414.30" stroke="#828282" stroke-width="1.25"/><line x1="566.50" y1="410.55" x2="566.50" y2="418.05" stroke="#828282" stroke-width="1.25"/><line x1="573.30" y1="410.55" x2="573.30" y2="418.05" stroke="#828282" stroke-width="1.25"/>
<circle cx="569.90" cy="414.30" r="4.75" fill="#c0c0c0" stroke="#828282" stroke-width="1.2"/>
<line x1="618.20" y1="437.70" x2="618.20" y2="456.25" stroke="#828282" stroke-width="1.25"/><line x1="614.45" y1="437.70" x2="621.95" y2="437.70" stroke="#828282" stroke-width="1.25"/><line x1="614.45" y1="456.25" x2="621.95" y2="456.25" stroke="#828282" stroke-width="1.25"/><line x1="610.00" y1="446.60" x2="626.60" y2="446.60" stroke="#828282" stroke-width="1.25"/><line x1="610.00" y1="442.85" x2="610.00" y2="450.35" stroke="#828282" stroke-width="1.25"/><line x1="626.60" y1="442.85" x2="626.60" y2="450.35" stroke="#828282" stroke-width="1.25"/>
<circle cx="618.20" cy="446.60" r="4.75" fill="#c0c0c0" stroke="#828282" stroke-width="1.2"/>
<line x1="660.90" y1="453.70" x2="660.90" y2="486.50" stroke="#828282" stroke-width="1.25"/><line x1="657.15" y1="453.70" x2="664.65" y2="453.70" stroke="#828282" stroke-width="1.25"/><line x1="657.15" y1="486.50" x2="664.65" y2="486.50" stroke="#828282" stroke-width="1.25"/><line x1="648.70" y1="469.50" x2="673.60" y2="469.50" stroke="#828282" stroke-width="1.25"/><line x1="648.70" y1="465.75" x2="648.70" y2="473.25" stroke="#828282" stroke-width="1.25"/><line x1="673.60" y1="465.75" x2="673.60" y2="473.25" stroke="#828282" stroke-width="1.25"/>
<circle cx="660.90" cy="469.50" r="4.75" fill="#c0c0c0" stroke="#828282" stroke-width="1.2"/>
<line x1="483.00" y1="375.40" x2="483.00" y2="411.50" stroke="#f2476f" stroke-width="1.25"/><line x1="479.25" y1="375.40" x2="486.75" y2="375.40" stroke="#f2476f" stroke-width="1.25"/><line x1="479.25" y1="411.50" x2="486.75" y2="411.50" stroke="#f2476f" stroke-width="1.25"/>
<circle cx="483.00" cy="393.70" r="4.75" fill="#fcc0d0" stroke="#f2476f" stroke-width="1.2"/>
<line x1="544.50" y1="369.80" x2="544.50" y2="400.30" stroke="#f2476f" stroke-width="1.25"/><line x1="540.75" y1="369.80" x2="548.25" y2="369.80" stroke="#f2476f" stroke-width="1.25"/><line x1="540.75" y1="400.30" x2="548.25" y2="400.30" stroke="#f2476f" stroke-width="1.25"/><line x1="531.30" y1="385.10" x2="558.00" y2="385.10" stroke="#f2476f" stroke-width="1.25"/><line x1="531.30" y1="381.35" x2="531.30" y2="388.85" stroke="#f2476f" stroke-width="1.25"/><line x1="558.00" y1="381.35" x2="558.00" y2="388.85" stroke="#f2476f" stroke-width="1.25"/>
<circle cx="544.50" cy="385.10" r="4.75" fill="#fcc0d0" stroke="#f2476f" stroke-width="1.2"/>
<line x1="637.30" y1="364.70" x2="637.30" y2="398.30" stroke="#f2476f" stroke-width="1.25"/><line x1="633.55" y1="364.70" x2="641.05" y2="364.70" stroke="#f2476f" stroke-width="1.25"/><line x1="633.55" y1="398.30" x2="641.05" y2="398.30" stroke="#f2476f" stroke-width="1.25"/><line x1="619.00" y1="381.80" x2="655.80" y2="381.80" stroke="#f2476f" stroke-width="1.25"/><line x1="619.00" y1="378.05" x2="619.00" y2="385.55" stroke="#f2476f" stroke-width="1.25"/><line x1="655.80" y1="378.05" x2="655.80" y2="385.55" stroke="#f2476f" stroke-width="1.25"/>
<circle cx="637.30" cy="381.80" r="4.75" fill="#fcc0d0" stroke="#f2476f" stroke-width="1.2"/>
<line x1="720.60" y1="393.70" x2="720.60" y2="425.00" stroke="#f2476f" stroke-width="1.25"/><line x1="716.85" y1="393.70" x2="724.35" y2="393.70" stroke="#f2476f" stroke-width="1.25"/><line x1="716.85" y1="425.00" x2="724.35" y2="425.00" stroke="#f2476f" stroke-width="1.25"/><line x1="707.40" y1="409.20" x2="734.10" y2="409.20" stroke="#f2476f" stroke-width="1.25"/><line x1="707.40" y1="405.45" x2="707.40" y2="412.95" stroke="#f2476f" stroke-width="1.25"/><line x1="734.10" y1="405.45" x2="734.10" y2="412.95" stroke="#f2476f" stroke-width="1.25"/>
<circle cx="720.60" cy="409.20" r="4.75" fill="#fcc0d0" stroke="#f2476f" stroke-width="1.2"/>
<polyline points="455.7,356.2 455.7,633.7 759.5,633.7" fill="none" stroke="#111" stroke-width="1.5"/>
<line x1="454.95" y1="356.20" x2="759.50" y2="356.20" stroke="#111" stroke-width="1.5"/>
<line x1="759.50" y1="356.20" x2="759.50" y2="633.70" stroke="#111" stroke-width="1.5"/>
<line x1="455.70" y1="425.57" x2="467.70" y2="425.57" stroke="#111" stroke-width="1.5"/>
<line x1="455.70" y1="494.95" x2="467.70" y2="494.95" stroke="#111" stroke-width="1.5"/>
<line x1="455.70" y1="564.33" x2="467.70" y2="564.33" stroke="#111" stroke-width="1.5"/>
<line x1="502.56" y1="633.70" x2="502.56" y2="626.70" stroke="#111" stroke-width="1.5"/>
<line x1="549.43" y1="633.70" x2="549.43" y2="621.20" stroke="#111" stroke-width="1.5"/>
<line x1="596.29" y1="633.70" x2="596.29" y2="626.70" stroke="#111" stroke-width="1.5"/>
<line x1="643.16" y1="633.70" x2="643.16" y2="621.20" stroke="#111" stroke-width="1.5"/>
<line x1="690.02" y1="633.70" x2="690.02" y2="626.70" stroke="#111" stroke-width="1.5"/>
<line x1="736.89" y1="633.70" x2="736.89" y2="621.20" stroke="#111" stroke-width="1.5"/>
<text x="446.60" y="361.80" font-size="24.00" text-anchor="end">100</text>
<text x="446.60" y="431.18" font-size="24.00" text-anchor="end">90</text>
<text x="446.60" y="500.55" font-size="24.00" text-anchor="end">80</text>
<text x="446.60" y="569.93" font-size="24.00" text-anchor="end">70</text>
<text x="446.60" y="639.30" font-size="24.00" text-anchor="end">60</text>
<text x="453.30" y="660.00" font-size="24.00" text-anchor="middle">0</text>
<text x="550.93" y="660.00" font-size="24.00" text-anchor="middle">100</text>
<text x="644.66" y="660.00" font-size="24.00" text-anchor="middle">200</text>
<text x="738.39" y="660.00" font-size="24.00" text-anchor="middle">300</text>
<text x="392.80" y="563.00" font-size="25.00" textLength="137.50" lengthAdjust="spacingAndGlyphs" transform="rotate(-90.00 392.80 563.00)">FE of CO (%)</text>
<text x="534.00" y="695.80" font-size="24.00" font-style="italic">j</text>
<text x="543.20" y="703.30" font-size="14.50" textLength="27.80" lengthAdjust="spacingAndGlyphs">total</text>
<text x="579.50" y="695.80" font-size="24.00" textLength="82.00" lengthAdjust="spacingAndGlyphs">(mA cm</text>
<text x="662.30" y="687.50" font-size="14.00" textLength="15.50" lengthAdjust="spacingAndGlyphs">−2</text>
<text x="678.80" y="695.80" font-size="24.00">)</text>
<text x="653.00" y="443.80" font-size="22.00" fill="#f2476f" textLength="103.00" lengthAdjust="spacingAndGlyphs">AgNP+Id</text>
<text x="652.30" y="513.80" font-size="22.00" fill="#8f8f8f" textLength="65.50" lengthAdjust="spacingAndGlyphs">AgNP</text>
<text x="792.00" y="359.20" font-size="27.00" font-weight="bold">e</text>
<polyline points="967.50,609.25 1042.50,556.75 1084.25,530.50 1126.75,494.25 1165.00,463.75" fill="none" stroke="#828282" stroke-width="1.4"/>
<path d="M920.00,608.00 C924.33,603.33 937.33,589.67 946.00,580.00 C954.67,570.33 963.00,562.33 972.00,550.00 C981.00,537.67 990.54,520.88 1000.00,506.00 C1009.46,491.12 1020.92,474.08 1028.75,460.75 C1036.58,447.42 1041.29,437.50 1047.00,426.00 C1052.71,414.50 1060.33,397.46 1063.00,391.75" fill="none" stroke="#f2476f" stroke-width="1.5"/>
<line x1="961.25" y1="609.25" x2="974.50" y2="609.25" stroke="#828282" stroke-width="1.25"/><line x1="961.25" y1="605.50" x2="961.25" y2="613.00" stroke="#828282" stroke-width="1.25"/><line x1="974.50" y1="605.50" x2="974.50" y2="613.00" stroke="#828282" stroke-width="1.25"/>
<circle cx="967.50" cy="609.25" r="4.75" fill="#c0c0c0" stroke="#828282" stroke-width="1.2"/>
<line x1="1037.50" y1="556.75" x2="1048.00" y2="556.75" stroke="#828282" stroke-width="1.25"/><line x1="1037.50" y1="553.00" x2="1037.50" y2="560.50" stroke="#828282" stroke-width="1.25"/><line x1="1048.00" y1="553.00" x2="1048.00" y2="560.50" stroke="#828282" stroke-width="1.25"/>
<circle cx="1042.50" cy="556.75" r="4.75" fill="#c0c0c0" stroke="#828282" stroke-width="1.2"/>
<line x1="1076.75" y1="530.50" x2="1092.50" y2="530.50" stroke="#828282" stroke-width="1.25"/><line x1="1076.75" y1="526.75" x2="1076.75" y2="534.25" stroke="#828282" stroke-width="1.25"/><line x1="1092.50" y1="526.75" x2="1092.50" y2="534.25" stroke="#828282" stroke-width="1.25"/>
<circle cx="1084.25" cy="530.50" r="4.75" fill="#c0c0c0" stroke="#828282" stroke-width="1.2"/>
<line x1="1126.75" y1="485.75" x2="1126.75" y2="503.00" stroke="#828282" stroke-width="1.25"/><line x1="1123.00" y1="485.75" x2="1130.50" y2="485.75" stroke="#828282" stroke-width="1.25"/><line x1="1123.00" y1="503.00" x2="1130.50" y2="503.00" stroke="#828282" stroke-width="1.25"/><line x1="1121.75" y1="494.25" x2="1132.50" y2="494.25" stroke="#828282" stroke-width="1.25"/><line x1="1121.75" y1="490.50" x2="1121.75" y2="498.00" stroke="#828282" stroke-width="1.25"/><line x1="1132.50" y1="490.50" x2="1132.50" y2="498.00" stroke="#828282" stroke-width="1.25"/>
<circle cx="1126.75" cy="494.25" r="4.75" fill="#c0c0c0" stroke="#828282" stroke-width="1.2"/>
<line x1="1165.00" y1="451.25" x2="1165.00" y2="476.75" stroke="#828282" stroke-width="1.25"/><line x1="1161.25" y1="451.25" x2="1168.75" y2="451.25" stroke="#828282" stroke-width="1.25"/><line x1="1161.25" y1="476.75" x2="1168.75" y2="476.75" stroke="#828282" stroke-width="1.25"/><line x1="1150.00" y1="463.75" x2="1180.50" y2="463.75" stroke="#828282" stroke-width="1.25"/><line x1="1150.00" y1="460.00" x2="1150.00" y2="467.50" stroke="#828282" stroke-width="1.25"/><line x1="1180.50" y1="460.00" x2="1180.50" y2="467.50" stroke="#828282" stroke-width="1.25"/>
<circle cx="1165.00" cy="463.75" r="4.75" fill="#c0c0c0" stroke="#828282" stroke-width="1.2"/>
<line x1="920.00" y1="603.50" x2="920.00" y2="612.50" stroke="#f2476f" stroke-width="1.25"/><line x1="916.25" y1="603.50" x2="923.75" y2="603.50" stroke="#f2476f" stroke-width="1.25"/><line x1="916.25" y1="612.50" x2="923.75" y2="612.50" stroke="#f2476f" stroke-width="1.25"/><line x1="913.75" y1="608.00" x2="927.00" y2="608.00" stroke="#f2476f" stroke-width="1.25"/><line x1="913.75" y1="604.25" x2="913.75" y2="611.75" stroke="#f2476f" stroke-width="1.25"/><line x1="927.00" y1="604.25" x2="927.00" y2="611.75" stroke="#f2476f" stroke-width="1.25"/>
<circle cx="920.00" cy="608.00" r="4.75" fill="#fcc0d0" stroke="#f2476f" stroke-width="1.2"/>
<line x1="972.00" y1="538.75" x2="972.00" y2="561.25" stroke="#f2476f" stroke-width="1.25"/><line x1="968.25" y1="538.75" x2="975.75" y2="538.75" stroke="#f2476f" stroke-width="1.25"/><line x1="968.25" y1="561.25" x2="975.75" y2="561.25" stroke="#f2476f" stroke-width="1.25"/><line x1="968.00" y1="550.00" x2="976.25" y2="550.00" stroke="#f2476f" stroke-width="1.25"/><line x1="968.00" y1="546.25" x2="968.00" y2="553.75" stroke="#f2476f" stroke-width="1.25"/><line x1="976.25" y1="546.25" x2="976.25" y2="553.75" stroke="#f2476f" stroke-width="1.25"/>
<circle cx="972.00" cy="550.00" r="4.75" fill="#fcc0d0" stroke="#f2476f" stroke-width="1.2"/>
<line x1="1028.75" y1="443.75" x2="1028.75" y2="477.50" stroke="#f2476f" stroke-width="1.25"/><line x1="1025.00" y1="443.75" x2="1032.50" y2="443.75" stroke="#f2476f" stroke-width="1.25"/><line x1="1025.00" y1="477.50" x2="1032.50" y2="477.50" stroke="#f2476f" stroke-width="1.25"/><line x1="1019.25" y1="460.75" x2="1038.75" y2="460.75" stroke="#f2476f" stroke-width="1.25"/><line x1="1019.25" y1="457.00" x2="1019.25" y2="464.50" stroke="#f2476f" stroke-width="1.25"/><line x1="1038.75" y1="457.00" x2="1038.75" y2="464.50" stroke="#f2476f" stroke-width="1.25"/>
<circle cx="1028.75" cy="460.75" r="4.75" fill="#fcc0d0" stroke="#f2476f" stroke-width="1.2"/>
<line x1="1063.00" y1="373.75" x2="1063.00" y2="410.00" stroke="#f2476f" stroke-width="1.25"/><line x1="1059.25" y1="373.75" x2="1066.75" y2="373.75" stroke="#f2476f" stroke-width="1.25"/><line x1="1059.25" y1="410.00" x2="1066.75" y2="410.00" stroke="#f2476f" stroke-width="1.25"/><line x1="1058.75" y1="391.75" x2="1067.50" y2="391.75" stroke="#f2476f" stroke-width="1.25"/><line x1="1058.75" y1="388.00" x2="1058.75" y2="395.50" stroke="#f2476f" stroke-width="1.25"/><line x1="1067.50" y1="388.00" x2="1067.50" y2="395.50" stroke="#f2476f" stroke-width="1.25"/>
<circle cx="1063.00" cy="391.75" r="4.75" fill="#fcc0d0" stroke="#f2476f" stroke-width="1.2"/>
<rect x="894.3" y="355.6" width="304.0" height="277.79999999999995" fill="none" stroke="#111" stroke-width="1.5"/>
<line x1="894.30" y1="401.90" x2="905.80" y2="401.90" stroke="#111" stroke-width="1.5"/>
<line x1="894.30" y1="448.20" x2="905.80" y2="448.20" stroke="#111" stroke-width="1.5"/>
<line x1="894.30" y1="494.50" x2="905.80" y2="494.50" stroke="#111" stroke-width="1.5"/>
<line x1="894.30" y1="540.80" x2="905.80" y2="540.80" stroke="#111" stroke-width="1.5"/>
<line x1="894.30" y1="587.10" x2="905.80" y2="587.10" stroke="#111" stroke-width="1.5"/>
<line x1="911.45" y1="633.40" x2="911.45" y2="626.90" stroke="#111" stroke-width="1.5"/>
<line x1="945.20" y1="633.40" x2="945.20" y2="621.20" stroke="#111" stroke-width="1.5"/>
<line x1="978.95" y1="633.40" x2="978.95" y2="626.90" stroke="#111" stroke-width="1.5"/>
<line x1="1012.70" y1="633.40" x2="1012.70" y2="621.20" stroke="#111" stroke-width="1.5"/>
<line x1="1046.45" y1="633.40" x2="1046.45" y2="626.90" stroke="#111" stroke-width="1.5"/>
<line x1="1080.20" y1="633.40" x2="1080.20" y2="621.20" stroke="#111" stroke-width="1.5"/>
<line x1="1113.95" y1="633.40" x2="1113.95" y2="626.90" stroke="#111" stroke-width="1.5"/>
<line x1="1147.70" y1="633.40" x2="1147.70" y2="621.20" stroke="#111" stroke-width="1.5"/>
<line x1="1181.45" y1="633.40" x2="1181.45" y2="626.90" stroke="#111" stroke-width="1.5"/>
<text x="886.70" y="361.20" font-size="24.00" text-anchor="end">300</text>
<text x="886.70" y="407.50" font-size="24.00" text-anchor="end">250</text>
<text x="886.70" y="453.80" font-size="24.00" text-anchor="end">200</text>
<text x="886.70" y="500.10" font-size="24.00" text-anchor="end">150</text>
<text x="886.70" y="546.40" font-size="24.00" text-anchor="end">100</text>
<text x="886.70" y="592.70" font-size="24.00" text-anchor="end">50</text>
<text x="886.70" y="639.00" font-size="24.00" text-anchor="end">0</text>
<text x="961.50" y="660.00" font-size="24.00" text-anchor="end">−0.4</text>
<text x="1029.00" y="660.00" font-size="24.00" text-anchor="end">−0.5</text>
<text x="1096.50" y="660.00" font-size="24.00" text-anchor="end">−0.6</text>
<text x="1164.00" y="660.00" font-size="24.00" text-anchor="end">−0.7</text>
<text x="833.00" y="564.50" font-size="24.00" font-style="italic" transform="rotate(-90.00 833.00 564.50)">j</text>
<text x="839.50" y="551.00" font-size="14.50" textLength="19.50" lengthAdjust="spacingAndGlyphs" transform="rotate(-90.00 839.50 551.00)">CO</text>
<text x="833.00" y="526.40" font-size="24.00" textLength="84.40" lengthAdjust="spacingAndGlyphs" transform="rotate(-90.00 833.00 526.40)">(mA cm</text>
<text x="822.50" y="441.20" font-size="14.00" textLength="13.00" lengthAdjust="spacingAndGlyphs" transform="rotate(-90.00 822.50 441.20)">−2</text>
<text x="833.00" y="427.00" font-size="24.00" transform="rotate(-90.00 833.00 427.00)">)</text>
<text x="936.80" y="695.90" font-size="24.50" textLength="219.50" lengthAdjust="spacingAndGlyphs">Potential (V vs. RHE)</text>
<text x="926.80" y="436.30" font-size="22.00" fill="#f2476f" textLength="101.50" lengthAdjust="spacingAndGlyphs">AgNP+Id</text>
<text x="1123.50" y="436.30" font-size="22.00" fill="#8f8f8f" textLength="64.00" lengthAdjust="spacingAndGlyphs">AgNP</text>
<text x="0.00" y="789.30" font-size="27.00" font-weight="bold">f</text>
<circle cx="112.90" cy="839.20" r="19.0" fill="url(#gAg)"/>
<circle cx="149.65" cy="839.20" r="19.0" fill="url(#gAg)"/>
<circle cx="186.40" cy="839.20" r="19.0" fill="url(#gAg)"/>
<circle cx="223.15" cy="839.20" r="19.0" fill="url(#gAg)"/>
<circle cx="259.90" cy="839.20" r="19.0" fill="url(#gAg)"/>
<circle cx="296.65" cy="839.20" r="19.0" fill="url(#gAg)"/>
<circle cx="333.40" cy="839.20" r="19.0" fill="url(#gAg)"/>
<circle cx="370.15" cy="839.20" r="19.0" fill="url(#gAg)"/>
<circle cx="94.30" cy="862.40" r="19.0" fill="url(#gAg)"/>
<circle cx="131.05" cy="862.40" r="19.0" fill="url(#gAg)"/>
<circle cx="167.80" cy="862.40" r="19.0" fill="url(#gAg)"/>
<circle cx="204.55" cy="862.40" r="19.0" fill="url(#gAg)"/>
<circle cx="241.30" cy="862.40" r="19.0" fill="url(#gAg)"/>
<circle cx="278.05" cy="862.40" r="19.0" fill="url(#gAg)"/>
<circle cx="314.80" cy="862.40" r="19.0" fill="url(#gAg)"/>
<circle cx="351.55" cy="862.40" r="19.0" fill="url(#gAg)"/>
<circle cx="75.70" cy="885.60" r="19.0" fill="url(#gAg)"/>
<circle cx="112.45" cy="885.60" r="19.0" fill="url(#gAg)"/>
<circle cx="149.20" cy="885.60" r="19.0" fill="url(#gAg)"/>
<circle cx="185.95" cy="885.60" r="19.0" fill="url(#gAg)"/>
<circle cx="222.70" cy="885.60" r="19.0" fill="url(#gAg)"/>
<circle cx="259.45" cy="885.60" r="19.0" fill="url(#gAg)"/>
<circle cx="296.20" cy="885.60" r="19.0" fill="url(#gAg)"/>
<circle cx="332.95" cy="885.60" r="19.0" fill="url(#gAg)"/>
<circle cx="57.10" cy="908.80" r="19.0" fill="url(#gAg)"/>
<circle cx="93.85" cy="908.80" r="19.0" fill="url(#gAg)"/>
<circle cx="130.60" cy="908.80" r="19.0" fill="url(#gAg)"/>
<circle cx="167.35" cy="908.80" r="19.0" fill="url(#gAg)"/>
<circle cx="204.10" cy="908.80" r="19.0" fill="url(#gAg)"/>
<circle cx="240.85" cy="908.80" r="19.0" fill="url(#gAg)"/>
<circle cx="277.60" cy="908.80" r="19.0" fill="url(#gAg)"/>
<circle cx="314.35" cy="908.80" r="19.0" fill="url(#gAg)"/>
<circle cx="38.50" cy="932.00" r="19.0" fill="url(#gAg)"/>
<circle cx="75.25" cy="932.00" r="19.0" fill="url(#gAg)"/>
<circle cx="112.00" cy="932.00" r="19.0" fill="url(#gAg)"/>
<circle cx="148.75" cy="932.00" r="19.0" fill="url(#gAg)"/>
<circle cx="185.50" cy="932.00" r="19.0" fill="url(#gAg)"/>
<circle cx="222.25" cy="932.00" r="19.0" fill="url(#gAg)"/>
<circle cx="259.00" cy="932.00" r="19.0" fill="url(#gAg)"/>
<circle cx="295.75" cy="932.00" r="19.0" fill="url(#gAg)"/>
<line x1="166.92" y1="845.70" x2="158.47" y2="848.16" stroke="#5f5f5f" stroke-width="2.8"/>
<line x1="158.47" y1="848.16" x2="150.03" y2="850.61" stroke="#5f5f5f" stroke-width="2.8"/>
<line x1="150.03" y1="850.61" x2="148.69" y2="855.61" stroke="#5f5f5f" stroke-width="2.8"/>
<line x1="148.69" y1="855.61" x2="147.36" y2="860.61" stroke="#5f5f5f" stroke-width="2.8"/>
<line x1="147.36" y1="860.61" x2="153.72" y2="864.25" stroke="#5f5f5f" stroke-width="2.8"/>
<line x1="153.72" y1="864.25" x2="160.08" y2="867.89" stroke="#5f5f5f" stroke-width="2.8"/>
<line x1="160.08" y1="867.89" x2="167.93" y2="866.08" stroke="#5f5f5f" stroke-width="2.8"/>
<line x1="167.93" y1="866.08" x2="175.78" y2="864.27" stroke="#5f5f5f" stroke-width="2.8"/>
<line x1="175.78" y1="864.27" x2="177.93" y2="859.16" stroke="#5f5f5f" stroke-width="2.8"/>
<line x1="177.93" y1="859.16" x2="180.07" y2="854.05" stroke="#5f5f5f" stroke-width="2.8"/>
<line x1="180.07" y1="854.05" x2="173.50" y2="849.88" stroke="#5f5f5f" stroke-width="2.8"/>
<line x1="173.50" y1="849.88" x2="166.92" y2="845.70" stroke="#5f5f5f" stroke-width="2.8"/>
<line x1="180.07" y1="854.05" x2="189.31" y2="853.37" stroke="#5f5f5f" stroke-width="2.8"/>
<line x1="189.31" y1="853.37" x2="198.54" y2="852.69" stroke="#5f5f5f" stroke-width="2.8"/>
<line x1="198.54" y1="852.69" x2="202.02" y2="857.86" stroke="#5f5f5f" stroke-width="2.8"/>
<line x1="202.02" y1="857.86" x2="205.49" y2="863.02" stroke="#5f5f5f" stroke-width="2.8"/>
<line x1="205.49" y1="863.02" x2="198.98" y2="866.74" stroke="#5f5f5f" stroke-width="2.8"/>
<line x1="198.98" y1="866.74" x2="192.47" y2="870.45" stroke="#2e6fd6" stroke-width="2.8"/>
<line x1="192.47" y1="870.45" x2="184.12" y2="867.36" stroke="#2e6fd6" stroke-width="2.8"/>
<line x1="184.12" y1="867.36" x2="175.78" y2="864.27" stroke="#5f5f5f" stroke-width="2.8"/>
<line x1="205.49" y1="863.02" x2="213.94" y2="865.03" stroke="#5f5f5f" stroke-width="2.8"/>
<line x1="213.94" y1="865.03" x2="222.39" y2="867.04" stroke="#5f5f5f" stroke-width="2.8"/>
<line x1="222.39" y1="867.04" x2="228.94" y2="863.21" stroke="#5f5f5f" stroke-width="2.8"/>
<line x1="228.94" y1="863.21" x2="235.49" y2="859.38" stroke="#2e6fd6" stroke-width="2.8"/>
<line x1="235.49" y1="859.38" x2="242.78" y2="862.35" stroke="#2e6fd6" stroke-width="2.8"/>
<line x1="242.78" y1="862.35" x2="250.06" y2="865.32" stroke="#5f5f5f" stroke-width="2.8"/>
<line x1="250.06" y1="865.32" x2="249.17" y2="870.13" stroke="#5f5f5f" stroke-width="2.8"/>
<line x1="249.17" y1="870.13" x2="248.28" y2="874.93" stroke="#5f5f5f" stroke-width="2.8"/>
<line x1="248.28" y1="874.93" x2="238.78" y2="876.01" stroke="#5f5f5f" stroke-width="2.8"/>
<line x1="238.78" y1="876.01" x2="229.27" y2="877.09" stroke="#5f5f5f" stroke-width="2.8"/>
<line x1="229.27" y1="877.09" x2="225.83" y2="872.06" stroke="#5f5f5f" stroke-width="2.8"/>
<line x1="225.83" y1="872.06" x2="222.39" y2="867.04" stroke="#5f5f5f" stroke-width="2.8"/>
<line x1="250.06" y1="865.32" x2="258.43" y2="863.08" stroke="#5f5f5f" stroke-width="2.8"/>
<line x1="258.43" y1="863.08" x2="266.80" y2="860.84" stroke="#5f5f5f" stroke-width="2.8"/>
<line x1="266.80" y1="860.84" x2="273.46" y2="864.80" stroke="#5f5f5f" stroke-width="2.8"/>
<line x1="273.46" y1="864.80" x2="280.11" y2="868.76" stroke="#5f5f5f" stroke-width="2.8"/>
<line x1="280.11" y1="868.76" x2="279.06" y2="874.03" stroke="#5f5f5f" stroke-width="2.8"/>
<line x1="279.06" y1="874.03" x2="278.01" y2="879.30" stroke="#5f5f5f" stroke-width="2.8"/>
<line x1="278.01" y1="879.30" x2="270.00" y2="881.59" stroke="#5f5f5f" stroke-width="2.8"/>
<line x1="270.00" y1="881.59" x2="261.99" y2="883.88" stroke="#5f5f5f" stroke-width="2.8"/>
<line x1="261.99" y1="883.88" x2="255.14" y2="879.41" stroke="#5f5f5f" stroke-width="2.8"/>
<line x1="255.14" y1="879.41" x2="248.28" y2="874.93" stroke="#5f5f5f" stroke-width="2.8"/>
<line x1="166.92" y1="845.70" x2="167.85" y2="841.88" stroke="#5f5f5f" stroke-width="2.8"/>
<line x1="167.85" y1="841.88" x2="168.78" y2="838.06" stroke="#dcdcdc" stroke-width="2.8"/>
<line x1="150.03" y1="850.61" x2="144.95" y2="847.63" stroke="#5f5f5f" stroke-width="2.8"/>
<line x1="144.95" y1="847.63" x2="139.87" y2="844.65" stroke="#dcdcdc" stroke-width="2.8"/>
<line x1="147.36" y1="860.61" x2="140.83" y2="861.87" stroke="#5f5f5f" stroke-width="2.8"/>
<line x1="140.83" y1="861.87" x2="134.30" y2="863.12" stroke="#dcdcdc" stroke-width="2.8"/>
<line x1="160.08" y1="867.89" x2="159.46" y2="872.00" stroke="#5f5f5f" stroke-width="2.8"/>
<line x1="159.46" y1="872.00" x2="158.83" y2="876.11" stroke="#dcdcdc" stroke-width="2.8"/>
<line x1="192.47" y1="870.45" x2="194.05" y2="874.02" stroke="#2e6fd6" stroke-width="2.8"/>
<line x1="194.05" y1="874.02" x2="195.62" y2="877.58" stroke="#dcdcdc" stroke-width="2.8"/>
<line x1="235.49" y1="859.38" x2="234.00" y2="855.25" stroke="#2e6fd6" stroke-width="2.8"/>
<line x1="234.00" y1="855.25" x2="232.50" y2="851.13" stroke="#dcdcdc" stroke-width="2.8"/>
<line x1="266.80" y1="860.84" x2="268.25" y2="856.61" stroke="#5f5f5f" stroke-width="2.8"/>
<line x1="268.25" y1="856.61" x2="269.70" y2="852.38" stroke="#dcdcdc" stroke-width="2.8"/>
<line x1="280.11" y1="868.76" x2="287.08" y2="867.31" stroke="#5f5f5f" stroke-width="2.8"/>
<line x1="287.08" y1="867.31" x2="294.05" y2="865.86" stroke="#dcdcdc" stroke-width="2.8"/>
<line x1="278.01" y1="879.30" x2="283.45" y2="882.33" stroke="#5f5f5f" stroke-width="2.8"/>
<line x1="283.45" y1="882.33" x2="288.89" y2="885.36" stroke="#dcdcdc" stroke-width="2.8"/>
<line x1="261.99" y1="883.88" x2="260.82" y2="888.40" stroke="#5f5f5f" stroke-width="2.8"/>
<line x1="260.82" y1="888.40" x2="259.65" y2="892.92" stroke="#dcdcdc" stroke-width="2.8"/>
<line x1="198.54" y1="852.69" x2="203.07" y2="849.20" stroke="#5f5f5f" stroke-width="2.8"/>
<line x1="203.07" y1="849.20" x2="207.60" y2="845.70" stroke="#e0531c" stroke-width="2.8"/>
<line x1="229.27" y1="877.09" x2="225.24" y2="880.09" stroke="#5f5f5f" stroke-width="2.8"/>
<line x1="225.24" y1="880.09" x2="221.20" y2="883.10" stroke="#e0531c" stroke-width="2.8"/>
<line x1="221.20" y1="883.10" x2="222.05" y2="890.85" stroke="#e0531c" stroke-width="2.8"/>
<line x1="222.05" y1="890.85" x2="222.90" y2="898.60" stroke="#5f5f5f" stroke-width="2.8"/>
<line x1="222.90" y1="898.60" x2="218.00" y2="900.60" stroke="#5f5f5f" stroke-width="2.8"/>
<line x1="218.00" y1="900.60" x2="213.10" y2="902.60" stroke="#e0531c" stroke-width="2.8"/>
<line x1="222.90" y1="898.60" x2="228.55" y2="902.95" stroke="#5f5f5f" stroke-width="2.8"/>
<line x1="228.55" y1="902.95" x2="234.20" y2="907.30" stroke="#e0531c" stroke-width="2.8"/>
<line x1="234.20" y1="907.30" x2="231.00" y2="917.50" stroke="#e0531c" stroke-width="2.8"/>
<circle cx="168.78" cy="838.06" r="3.25" fill="url(#gH)"/>
<circle cx="139.87" cy="844.65" r="3.25" fill="url(#gH)"/>
<circle cx="134.30" cy="863.12" r="3.25" fill="url(#gH)"/>
<circle cx="158.83" cy="876.11" r="3.25" fill="url(#gH)"/>
<circle cx="195.62" cy="877.58" r="3.25" fill="url(#gH)"/>
<circle cx="232.50" cy="851.13" r="3.25" fill="url(#gH)"/>
<circle cx="269.70" cy="852.38" r="3.25" fill="url(#gH)"/>
<circle cx="294.05" cy="865.86" r="3.25" fill="url(#gH)"/>
<circle cx="288.89" cy="885.36" r="3.25" fill="url(#gH)"/>
<circle cx="259.65" cy="892.92" r="3.25" fill="url(#gH)"/>
<circle cx="166.92" cy="845.70" r="5.70" fill="url(#gC)"/>
<circle cx="150.03" cy="850.61" r="5.70" fill="url(#gC)"/>
<circle cx="147.36" cy="860.61" r="5.70" fill="url(#gC)"/>
<circle cx="160.08" cy="867.89" r="5.70" fill="url(#gC)"/>
<circle cx="175.78" cy="864.27" r="5.70" fill="url(#gC)"/>
<circle cx="180.07" cy="854.05" r="5.70" fill="url(#gC)"/>
<circle cx="198.54" cy="852.69" r="5.70" fill="url(#gC)"/>
<circle cx="205.49" cy="863.02" r="5.70" fill="url(#gC)"/>
<circle cx="192.47" cy="870.45" r="5.20" fill="url(#gN)"/>
<circle cx="222.39" cy="867.04" r="5.70" fill="url(#gC)"/>
<circle cx="235.49" cy="859.38" r="5.20" fill="url(#gN)"/>
<circle cx="250.06" cy="865.32" r="5.70" fill="url(#gC)"/>
<circle cx="248.28" cy="874.93" r="5.70" fill="url(#gC)"/>
<circle cx="229.27" cy="877.09" r="5.70" fill="url(#gC)"/>
<circle cx="266.80" cy="860.84" r="5.70" fill="url(#gC)"/>
<circle cx="280.11" cy="868.76" r="5.70" fill="url(#gC)"/>
<circle cx="278.01" cy="879.30" r="5.70" fill="url(#gC)"/>
<circle cx="261.99" cy="883.88" r="5.70" fill="url(#gC)"/>
<circle cx="222.90" cy="898.60" r="5.70" fill="url(#gC)"/>
<circle cx="207.60" cy="845.70" r="4.90" fill="url(#gO)"/>
<circle cx="221.20" cy="883.10" r="4.90" fill="url(#gO)"/>
<circle cx="213.10" cy="902.60" r="4.90" fill="url(#gO)"/>
<circle cx="234.20" cy="907.30" r="4.90" fill="url(#gO)"/>
<text x="283.00" y="940.20" font-size="17.50" fill="#4a4a4a" textLength="24.50" lengthAdjust="spacingAndGlyphs">Ag</text>
<rect x="32.1" y="1012.25" width="318.20" height="44.85" fill="#ff8dab" stroke="#111" stroke-width="1.3"/>
<rect x="32.1" y="1093.5" width="106.30" height="44.85" fill="#d9d9d9" stroke="#111" stroke-width="1.3"/>
<rect x="32.1" y="984.6" width="350.70" height="181.00" fill="none" stroke="#111" stroke-width="1.4"/>
<line x1="132.50" y1="1165.60" x2="132.50" y2="1153.60" stroke="#111" stroke-width="1.4"/>
<line x1="232.60" y1="1165.60" x2="232.60" y2="1153.60" stroke="#111" stroke-width="1.4"/>
<line x1="332.70" y1="1165.60" x2="332.70" y2="1153.60" stroke="#111" stroke-width="1.4"/>
<text x="50.60" y="1040.90" font-size="24.00" textLength="102.60" lengthAdjust="spacingAndGlyphs">AgNP+Id</text>
<text x="50.60" y="1122.10" font-size="24.00" textLength="65.20" lengthAdjust="spacingAndGlyphs">AgNP</text>
<text x="32.40" y="1192.60" font-size="24.00" text-anchor="middle">0.0</text>
<text x="148.70" y="1192.60" font-size="24.00" text-anchor="end">−0.2</text>
<text x="248.80" y="1192.60" font-size="24.00" text-anchor="end">−0.4</text>
<text x="348.90" y="1192.60" font-size="24.00" text-anchor="end">−0.6</text>
<text x="29.60" y="1235.80" font-size="25.00" textLength="287.50" lengthAdjust="spacingAndGlyphs">Adsorption energy of *CO</text>
<text x="319.60" y="1243.20" font-size="14.00">2</text>
<text x="327.80" y="1228.00" font-size="14.00" textLength="8.60" lengthAdjust="spacingAndGlyphs">−</text>
<text x="342.60" y="1235.80" font-size="25.00" textLength="42.50" lengthAdjust="spacingAndGlyphs">(eV)</text>
<text x="403.00" y="789.50" font-size="27.00" font-weight="bold">g</text>
<g clip-path="url(#cphl)"><g filter="url(#vblur)"><rect x="520.6" y="818.2" width="287.4" height="8.6" fill="url(#hl0)"/>
<rect x="520.6" y="826.2" width="287.4" height="8.6" fill="url(#hl1)"/>
<rect x="520.6" y="834.2" width="287.4" height="8.6" fill="url(#hl2)"/>
<rect x="520.6" y="842.2" width="287.4" height="8.6" fill="url(#hl3)"/>
<rect x="520.6" y="850.2" width="287.4" height="8.6" fill="url(#hl4)"/>
<rect x="520.6" y="858.2" width="287.4" height="8.6" fill="url(#hl5)"/>
<rect x="520.6" y="866.2" width="287.4" height="8.6" fill="url(#hl6)"/>
<rect x="520.6" y="874.2" width="287.4" height="8.6" fill="url(#hl7)"/>
<rect x="520.6" y="882.2" width="287.4" height="8.6" fill="url(#hl8)"/>
<rect x="520.6" y="890.2" width="287.4" height="8.6" fill="url(#hl9)"/>
<rect x="520.6" y="898.2" width="287.4" height="8.6" fill="url(#hl10)"/>
<rect x="520.6" y="906.2" width="287.4" height="8.6" fill="url(#hl11)"/>
<rect x="520.6" y="914.2" width="287.4" height="8.6" fill="url(#hl12)"/>
<rect x="520.6" y="922.2" width="287.4" height="8.6" fill="url(#hl13)"/>
<rect x="520.6" y="930.2" width="287.4" height="8.6" fill="url(#hl14)"/>
<rect x="520.6" y="938.2" width="287.4" height="8.6" fill="url(#hl15)"/>
<rect x="520.6" y="946.2" width="287.4" height="8.6" fill="url(#hl16)"/>
<rect x="520.6" y="954.2" width="287.4" height="8.6" fill="url(#hl17)"/>
<rect x="520.6" y="962.2" width="287.4" height="8.6" fill="url(#hl18)"/>
<rect x="520.6" y="970.2" width="287.4" height="8.6" fill="url(#hl19)"/>
<rect x="520.6" y="978.2" width="287.4" height="8.6" fill="url(#hl20)"/>
<rect x="520.6" y="986.2" width="287.4" height="8.6" fill="url(#hl21)"/>
<rect x="520.6" y="994.2" width="287.4" height="8.6" fill="url(#hl22)"/>
<rect x="520.6" y="1002.2" width="287.4" height="8.6" fill="url(#hl23)"/>
<rect x="520.6" y="1010.2" width="287.4" height="8.6" fill="url(#hl24)"/>
<rect x="520.6" y="1018.2" width="287.4" height="8.6" fill="url(#hl25)"/>
<rect x="520.6" y="1026.2" width="287.4" height="8.6" fill="url(#hl26)"/>
<rect x="520.6" y="1034.2" width="287.4" height="8.6" fill="url(#hl27)"/>
<rect x="520.6" y="1042.2" width="287.4" height="8.6" fill="url(#hl28)"/>
<rect x="520.6" y="1050.2" width="287.4" height="8.6" fill="url(#hl29)"/>
<rect x="520.6" y="1058.2" width="287.4" height="8.6" fill="url(#hl30)"/>
<rect x="520.6" y="1066.2" width="287.4" height="8.6" fill="url(#hl31)"/>
<rect x="520.6" y="1074.2" width="287.4" height="8.6" fill="url(#hl32)"/>
<rect x="520.6" y="1082.2" width="287.4" height="8.6" fill="url(#hl33)"/>
<rect x="520.6" y="1090.2" width="287.4" height="8.6" fill="url(#hl34)"/>
<rect x="520.6" y="1098.2" width="287.4" height="8.6" fill="url(#hl35)"/>
<rect x="520.6" y="1106.2" width="287.4" height="8.6" fill="url(#hl36)"/>
<rect x="520.6" y="1114.2" width="287.4" height="8.6" fill="url(#hl37)"/>
<rect x="520.6" y="1122.2" width="287.4" height="8.6" fill="url(#hl38)"/>
<rect x="520.6" y="1130.2" width="287.4" height="8.6" fill="url(#hl39)"/>
<rect x="520.6" y="1138.2" width="287.4" height="8.6" fill="url(#hl40)"/>
<rect x="520.6" y="1146.2" width="287.4" height="8.6" fill="url(#hl41)"/>
<rect x="520.6" y="1154.2" width="287.4" height="8.6" fill="url(#hl42)"/>
<rect x="520.6" y="1162.2" width="287.4" height="8.6" fill="url(#hl43)"/>
<rect x="520.6" y="1170.2" width="287.4" height="8.6" fill="url(#hl44)"/></g></g>
<g clip-path="url(#cphr)"><g filter="url(#vblur)"><rect x="822.4" y="818.2" width="287.6" height="8.6" fill="url(#hr0)"/>
<rect x="822.4" y="826.2" width="287.6" height="8.6" fill="url(#hr1)"/>
<rect x="822.4" y="834.2" width="287.6" height="8.6" fill="url(#hr2)"/>
<rect x="822.4" y="842.2" width="287.6" height="8.6" fill="url(#hr3)"/>
<rect x="822.4" y="850.2" width="287.6" height="8.6" fill="url(#hr4)"/>
<rect x="822.4" y="858.2" width="287.6" height="8.6" fill="url(#hr5)"/>
<rect x="822.4" y="866.2" width="287.6" height="8.6" fill="url(#hr6)"/>
<rect x="822.4" y="874.2" width="287.6" height="8.6" fill="url(#hr7)"/>
<rect x="822.4" y="882.2" width="287.6" height="8.6" fill="url(#hr8)"/>
<rect x="822.4" y="890.2" width="287.6" height="8.6" fill="url(#hr9)"/>
<rect x="822.4" y="898.2" width="287.6" height="8.6" fill="url(#hr10)"/>
<rect x="822.4" y="906.2" width="287.6" height="8.6" fill="url(#hr11)"/>
<rect x="822.4" y="914.2" width="287.6" height="8.6" fill="url(#hr12)"/>
<rect x="822.4" y="922.2" width="287.6" height="8.6" fill="url(#hr13)"/>
<rect x="822.4" y="930.2" width="287.6" height="8.6" fill="url(#hr14)"/>
<rect x="822.4" y="938.2" width="287.6" height="8.6" fill="url(#hr15)"/>
<rect x="822.4" y="946.2" width="287.6" height="8.6" fill="url(#hr16)"/>
<rect x="822.4" y="954.2" width="287.6" height="8.6" fill="url(#hr17)"/>
<rect x="822.4" y="962.2" width="287.6" height="8.6" fill="url(#hr18)"/>
<rect x="822.4" y="970.2" width="287.6" height="8.6" fill="url(#hr19)"/>
<rect x="822.4" y="978.2" width="287.6" height="8.6" fill="url(#hr20)"/>
<rect x="822.4" y="986.2" width="287.6" height="8.6" fill="url(#hr21)"/>
<rect x="822.4" y="994.2" width="287.6" height="8.6" fill="url(#hr22)"/>
<rect x="822.4" y="1002.2" width="287.6" height="8.6" fill="url(#hr23)"/>
<rect x="822.4" y="1010.2" width="287.6" height="8.6" fill="url(#hr24)"/>
<rect x="822.4" y="1018.2" width="287.6" height="8.6" fill="url(#hr25)"/>
<rect x="822.4" y="1026.2" width="287.6" height="8.6" fill="url(#hr26)"/>
<rect x="822.4" y="1034.2" width="287.6" height="8.6" fill="url(#hr27)"/>
<rect x="822.4" y="1042.2" width="287.6" height="8.6" fill="url(#hr28)"/>
<rect x="822.4" y="1050.2" width="287.6" height="8.6" fill="url(#hr29)"/>
<rect x="822.4" y="1058.2" width="287.6" height="8.6" fill="url(#hr30)"/>
<rect x="822.4" y="1066.2" width="287.6" height="8.6" fill="url(#hr31)"/>
<rect x="822.4" y="1074.2" width="287.6" height="8.6" fill="url(#hr32)"/>
<rect x="822.4" y="1082.2" width="287.6" height="8.6" fill="url(#hr33)"/>
<rect x="822.4" y="1090.2" width="287.6" height="8.6" fill="url(#hr34)"/>
<rect x="822.4" y="1098.2" width="287.6" height="8.6" fill="url(#hr35)"/>
<rect x="822.4" y="1106.2" width="287.6" height="8.6" fill="url(#hr36)"/>
<rect x="822.4" y="1114.2" width="287.6" height="8.6" fill="url(#hr37)"/>
<rect x="822.4" y="1122.2" width="287.6" height="8.6" fill="url(#hr38)"/>
<rect x="822.4" y="1130.2" width="287.6" height="8.6" fill="url(#hr39)"/>
<rect x="822.4" y="1138.2" width="287.6" height="8.6" fill="url(#hr40)"/>
<rect x="822.4" y="1146.2" width="287.6" height="8.6" fill="url(#hr41)"/>
<rect x="822.4" y="1154.2" width="287.6" height="8.6" fill="url(#hr42)"/>
<rect x="822.4" y="1162.2" width="287.6" height="8.6" fill="url(#hr43)"/>
<rect x="822.4" y="1170.2" width="287.6" height="8.6" fill="url(#hr44)"/></g></g>
<line x1="631.3" y1="827.2" x2="631.3" y2="1084.2" stroke="#fff" stroke-width="1.5" stroke-dasharray="6,3.6"/>
<line x1="874.2" y1="827.2" x2="874.2" y2="1162.7" stroke="#fff" stroke-width="1.5" stroke-dasharray="6,3.6"/>
<line x1="929.4" y1="827.2" x2="929.4" y2="1162.7" stroke="#fff" stroke-width="1.5" stroke-dasharray="6,3.6"/>
<line x1="976.3" y1="827.2" x2="976.3" y2="1162.7" stroke="#fff" stroke-width="1.5" stroke-dasharray="6,3.6"/>
<rect x="520.6" y="826.2" width="287.40" height="337.50" fill="none" stroke="#111" stroke-width="1.6"/>
<line x1="520.60" y1="874.41" x2="532.10" y2="874.41" stroke="#111" stroke-width="1.5"/>
<line x1="808.00" y1="874.41" x2="796.50" y2="874.41" stroke="#111" stroke-width="1.5"/>
<line x1="520.60" y1="922.63" x2="532.10" y2="922.63" stroke="#111" stroke-width="1.5"/>
<line x1="808.00" y1="922.63" x2="796.50" y2="922.63" stroke="#111" stroke-width="1.5"/>
<line x1="520.60" y1="970.84" x2="532.10" y2="970.84" stroke="#111" stroke-width="1.5"/>
<line x1="808.00" y1="970.84" x2="796.50" y2="970.84" stroke="#111" stroke-width="1.5"/>
<line x1="520.60" y1="1019.06" x2="532.10" y2="1019.06" stroke="#111" stroke-width="1.5"/>
<line x1="808.00" y1="1019.06" x2="796.50" y2="1019.06" stroke="#111" stroke-width="1.5"/>
<line x1="520.60" y1="1067.27" x2="532.10" y2="1067.27" stroke="#111" stroke-width="1.5"/>
<line x1="808.00" y1="1067.27" x2="796.50" y2="1067.27" stroke="#111" stroke-width="1.5"/>
<line x1="520.60" y1="1115.49" x2="532.10" y2="1115.49" stroke="#111" stroke-width="1.5"/>
<line x1="808.00" y1="1115.49" x2="796.50" y2="1115.49" stroke="#111" stroke-width="1.5"/>
<line x1="568.50" y1="1163.70" x2="568.50" y2="1153.70" stroke="#111" stroke-width="1.5"/>
<line x1="616.40" y1="1163.70" x2="616.40" y2="1157.70" stroke="#111" stroke-width="1.5"/>
<line x1="664.30" y1="1163.70" x2="664.30" y2="1153.70" stroke="#111" stroke-width="1.5"/>
<line x1="712.20" y1="1163.70" x2="712.20" y2="1157.70" stroke="#111" stroke-width="1.5"/>
<line x1="760.10" y1="1163.70" x2="760.10" y2="1153.70" stroke="#111" stroke-width="1.5"/>
<text x="568.50" y="1192.50" font-size="24.00" text-anchor="middle">1700</text>
<text x="664.30" y="1192.50" font-size="24.00" text-anchor="middle">1600</text>
<text x="760.10" y="1192.50" font-size="24.00" text-anchor="middle">1500</text>
<rect x="822.4" y="826.2" width="287.60" height="337.50" fill="none" stroke="#111" stroke-width="1.6"/>
<line x1="822.40" y1="874.41" x2="833.90" y2="874.41" stroke="#111" stroke-width="1.5"/>
<line x1="1110.00" y1="874.41" x2="1098.50" y2="874.41" stroke="#111" stroke-width="1.5"/>
<line x1="822.40" y1="922.63" x2="833.90" y2="922.63" stroke="#111" stroke-width="1.5"/>
<line x1="1110.00" y1="922.63" x2="1098.50" y2="922.63" stroke="#111" stroke-width="1.5"/>
<line x1="822.40" y1="970.84" x2="833.90" y2="970.84" stroke="#111" stroke-width="1.5"/>
<line x1="1110.00" y1="970.84" x2="1098.50" y2="970.84" stroke="#111" stroke-width="1.5"/>
<line x1="822.40" y1="1019.06" x2="833.90" y2="1019.06" stroke="#111" stroke-width="1.5"/>
<line x1="1110.00" y1="1019.06" x2="1098.50" y2="1019.06" stroke="#111" stroke-width="1.5"/>
<line x1="822.40" y1="1067.27" x2="833.90" y2="1067.27" stroke="#111" stroke-width="1.5"/>
<line x1="1110.00" y1="1067.27" x2="1098.50" y2="1067.27" stroke="#111" stroke-width="1.5"/>
<line x1="822.40" y1="1115.49" x2="833.90" y2="1115.49" stroke="#111" stroke-width="1.5"/>
<line x1="1110.00" y1="1115.49" x2="1098.50" y2="1115.49" stroke="#111" stroke-width="1.5"/>
<line x1="870.33" y1="1163.70" x2="870.33" y2="1153.70" stroke="#111" stroke-width="1.5"/>
<line x1="918.27" y1="1163.70" x2="918.27" y2="1157.70" stroke="#111" stroke-width="1.5"/>
<line x1="966.20" y1="1163.70" x2="966.20" y2="1153.70" stroke="#111" stroke-width="1.5"/>
<line x1="1014.13" y1="1163.70" x2="1014.13" y2="1157.70" stroke="#111" stroke-width="1.5"/>
<line x1="1062.07" y1="1163.70" x2="1062.07" y2="1153.70" stroke="#111" stroke-width="1.5"/>
<text x="870.33" y="1192.50" font-size="24.00" text-anchor="middle">1700</text>
<text x="966.20" y="1192.50" font-size="24.00" text-anchor="middle">1600</text>
<text x="1062.07" y="1192.50" font-size="24.00" text-anchor="middle">1500</text>
<text x="509.80" y="832.60" font-size="24.00" text-anchor="end">−1.0</text>
<text x="509.80" y="880.81" font-size="24.00" text-anchor="end">−0.9</text>
<text x="509.80" y="929.03" font-size="24.00" text-anchor="end">−0.8</text>
<text x="509.80" y="977.24" font-size="24.00" text-anchor="end">−0.7</text>
<text x="509.80" y="1025.46" font-size="24.00" text-anchor="end">−0.6</text>
<text x="509.80" y="1073.67" font-size="24.00" text-anchor="end">−0.5</text>
<text x="509.80" y="1121.89" font-size="24.00" text-anchor="end">−0.4</text>
<text x="509.80" y="1170.10" font-size="24.00" text-anchor="end">−0.3</text>
<text x="445.60" y="1103.50" font-size="24.00" textLength="217.50" lengthAdjust="spacingAndGlyphs" transform="rotate(-90.00 445.60 1103.50)">Potential (V vs. RHE)</text>
<text x="556.00" y="1235.80" font-size="24.50" textLength="191.50" lengthAdjust="spacingAndGlyphs">Wavenumber (cm</text>
<text x="748.00" y="1226.50" font-size="14.00" textLength="15.50" lengthAdjust="spacingAndGlyphs">−1</text>
<text x="764.30" y="1235.80" font-size="24.50">)</text>
<text x="859.00" y="1235.80" font-size="24.50" textLength="191.50" lengthAdjust="spacingAndGlyphs">Wavenumber (cm</text>
<text x="1051.00" y="1226.50" font-size="14.00" textLength="15.50" lengthAdjust="spacingAndGlyphs">−1</text>
<text x="1067.30" y="1235.80" font-size="24.50">)</text>
<text x="537.20" y="1137.50" font-size="23.50" fill="#fff" textLength="64.00" lengthAdjust="spacingAndGlyphs">AgNP</text>
<text x="840.00" y="1137.50" font-size="23.50" textLength="101.00" lengthAdjust="spacingAndGlyphs">AgNP+Id</text>
<g transform="translate(633.30,820.40) rotate(-45)"><path d="M2.2,-10.8 C3.6,-9.4 3.3,-6.0 3.7,-3.8 C4.2,-1.4 5.5,-0.3 7.3,-0.3 C9.9,-0.3 12.5,-2.0 12.5,-5.6 C12.5,-8.9 10.9,-11.7 8.1,-11.6" fill="none" stroke="#000" stroke-width="1.8"/><ellipse cx="1.9" cy="-10.9" rx="1.9" ry="1.5" transform="rotate(35 1.9 -10.9)"/><text x="13.3" y="0" font-size="24" textLength="101.5" lengthAdjust="spacingAndGlyphs">(*COOD)</text></g>
<g transform="translate(712.20,820.80) rotate(-45)"><text x="0" y="0" font-size="24" textLength="35" lengthAdjust="spacingAndGlyphs">CO</text><text x="36.3" y="8.7" font-size="14">3</text><text x="44.6" y="-7.0" font-size="14">2−</text></g>
<g transform="translate(875.30,823.20) rotate(-45)"><path d="M2.2,-10.8 C3.6,-9.4 3.3,-6.0 3.7,-3.8 C4.2,-1.4 5.5,-0.3 7.3,-0.3 C9.9,-0.3 12.5,-2.0 12.5,-5.6 C12.5,-8.9 10.9,-11.7 8.1,-11.6" fill="none" stroke="#000" stroke-width="1.8"/><ellipse cx="1.9" cy="-10.9" rx="1.9" ry="1.5" transform="rotate(35 1.9 -10.9)"/><text x="13.1" y="0" font-size="24" textLength="69.5" lengthAdjust="spacingAndGlyphs">(C=O)</text></g>
<g transform="translate(930.60,823.90) rotate(-45)"><path d="M2.2,-10.8 C3.6,-9.4 3.3,-6.0 3.7,-3.8 C4.2,-1.4 5.5,-0.3 7.3,-0.3 C9.9,-0.3 12.5,-2.0 12.5,-5.6 C12.5,-8.9 10.9,-11.7 8.1,-11.6" fill="none" stroke="#000" stroke-width="1.8"/><ellipse cx="1.9" cy="-10.9" rx="1.9" ry="1.5" transform="rotate(35 1.9 -10.9)"/><text x="13.4" y="0" font-size="24" textLength="102" lengthAdjust="spacingAndGlyphs">(*COOD)</text></g>
<g transform="translate(976.60,823.40) rotate(-45)"><path d="M2.2,-10.8 C3.6,-9.4 3.3,-6.0 3.7,-3.8 C4.2,-1.4 5.5,-0.3 7.3,-0.3 C9.9,-0.3 12.5,-2.0 12.5,-5.6 C12.5,-8.9 10.9,-11.7 8.1,-11.6" fill="none" stroke="#000" stroke-width="1.8"/><ellipse cx="1.9" cy="-10.9" rx="1.9" ry="1.5" transform="rotate(35 1.9 -10.9)"/><text x="13.2" y="11.0" font-size="14">as</text><text x="25.5" y="0" font-size="24" textLength="106" lengthAdjust="spacingAndGlyphs">(O−C−O)</text></g>
<g transform="translate(1029.00,822.20) rotate(-45)"><text x="0" y="0" font-size="24" textLength="35" lengthAdjust="spacingAndGlyphs">CO</text><text x="36.3" y="8.7" font-size="14">3</text><text x="44.6" y="-7.0" font-size="14">2−</text></g>
<rect x="1121.6" y="832.6" width="22.0" height="325.0" fill="url(#cbar)" stroke="#111" stroke-width="1.5"/>
<text x="1149.40" y="851.50" font-size="24.50" textLength="49.50" lengthAdjust="spacingAndGlyphs">High</text>
<text x="1153.30" y="1149.00" font-size="24.50" textLength="43.00" lengthAdjust="spacingAndGlyphs">Low</text>
<g transform="translate(1164.10,964.30) rotate(90)"><text x="0" y="0" font-size="25">Δ<tspan font-style="italic">R</tspan>/<tspan font-style="italic">R</tspan></text><text x="54.5" y="8.5" font-size="14.5">0</text></g>
</svg>
</body></html>
